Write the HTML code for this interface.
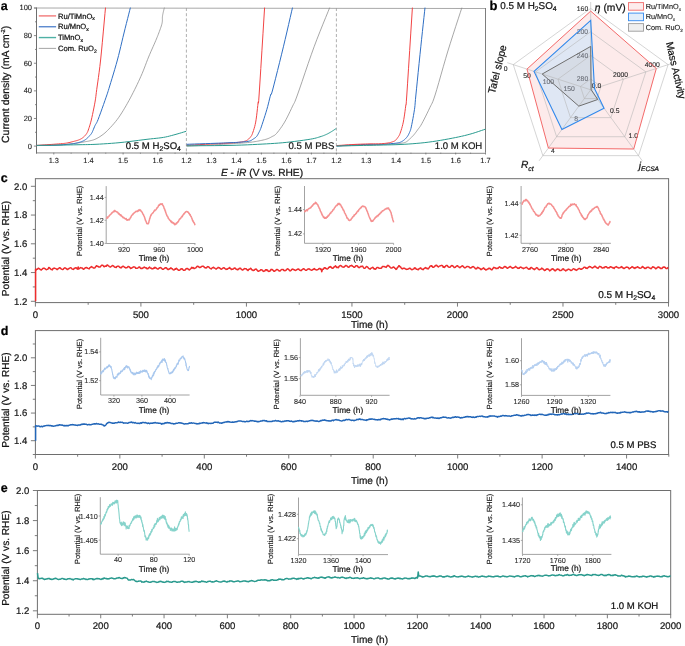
<!DOCTYPE html>
<html><head><meta charset="utf-8"><title>Figure</title><style>html,body{margin:0;padding:0;background:#fff;}body{width:685px;height:646px;overflow:hidden;font-family:"Liberation Sans",sans-serif;}svg{display:block;will-change:transform;}svg text{text-rendering:geometricPrecision;}</style></head><body>
<svg width="685" height="646" viewBox="0 0 685 646" font-family="&quot;Liberation Sans&quot;, sans-serif">
<rect width="685" height="646" fill="#fff"/>
<style>text{stroke:currentColor;stroke-width:0.22px;}</style>
<polygon points="590.7,11.1 656.32,68.48 633.73,149.02 548.38,148.05 526.98,69.1" fill="#fdebeb" stroke="none"/>
<polygon points="590.7,20.4 594.5,88.56 604.04,108.16 561.9,129.44 534.02,71.38" fill="#dfe7f4" stroke="none"/>
<polygon points="590.7,46.4 591.18,89.65 597.75,99.51 578.83,106.14 542.2,74.04" fill="#d6dce6" stroke="none"/>
<polygon points="590.7,79 600.97,86.46 597.05,98.54 584.35,98.54 580.43,86.46" fill="none" stroke="#b4b4b4" stroke-opacity="0.75" stroke-width="0.75"/>
<polygon points="590.7,55.4 623.42,79.17 610.92,117.63 570.48,117.63 557.98,79.17" fill="none" stroke="#b4b4b4" stroke-opacity="0.75" stroke-width="0.75"/>
<polygon points="590.7,31.8 645.86,71.88 624.79,136.72 556.61,136.72 535.54,71.88" fill="none" stroke="#b4b4b4" stroke-opacity="0.75" stroke-width="0.75"/>
<polygon points="590.7,8.4 668.12,64.65 638.55,155.65 542.85,155.65 513.28,64.65" fill="none" stroke="#b4b4b4" stroke-opacity="0.75" stroke-width="0.75"/>
<line x1="590.7" y1="89.8" x2="590.7" y2="2" stroke="#b4b4b4" stroke-width="0.75" stroke-opacity="0.75"/>
<line x1="590.7" y1="89.8" x2="674.2" y2="62.67" stroke="#b4b4b4" stroke-width="0.75" stroke-opacity="0.75"/>
<line x1="590.7" y1="89.8" x2="642.31" y2="160.83" stroke="#b4b4b4" stroke-width="0.75" stroke-opacity="0.75"/>
<line x1="590.7" y1="89.8" x2="539.09" y2="160.83" stroke="#b4b4b4" stroke-width="0.75" stroke-opacity="0.75"/>
<line x1="590.7" y1="89.8" x2="507.2" y2="62.67" stroke="#b4b4b4" stroke-width="0.75" stroke-opacity="0.75"/>
<text x="582.5" y="10.8" font-size="6.8" text-anchor="middle" fill="#2a2a2a" color="#2a2a2a" style="stroke-width:0.1px" >160</text>
<text x="582.3" y="34" font-size="6.8" text-anchor="middle" fill="#6b6f78" color="#6b6f78" style="stroke-width:0.1px" >200</text>
<text x="582.5" y="57.6" font-size="6.8" text-anchor="middle" fill="#6b6f78" color="#6b6f78" style="stroke-width:0.1px" >240</text>
<text x="582.5" y="81.1" font-size="6.8" text-anchor="middle" fill="#6b6f78" color="#6b6f78" style="stroke-width:0.1px" >280</text>
<text x="652.2" y="66.7" font-size="6.8" text-anchor="middle" fill="#2a2a2a" color="#2a2a2a" style="stroke-width:0.1px" >4000</text>
<text x="620.6" y="77.4" font-size="6.8" text-anchor="middle" fill="#2a2a2a" color="#2a2a2a" style="stroke-width:0.1px" >2000</text>
<text x="596.6" y="87.7" font-size="6.8" text-anchor="middle" fill="#2a2a2a" color="#2a2a2a" style="stroke-width:0.1px" >0.0</text>
<text x="614.7" y="113" font-size="6.8" text-anchor="middle" fill="#2a2a2a" color="#2a2a2a" style="stroke-width:0.1px" >0.5</text>
<text x="633.2" y="137.6" font-size="6.8" text-anchor="middle" fill="#2a2a2a" color="#2a2a2a" style="stroke-width:0.1px" >1.0</text>
<text x="553" y="153.1" font-size="6.8" text-anchor="middle" fill="#2a2a2a" color="#2a2a2a" style="stroke-width:0.1px" >4</text>
<text x="576.1" y="120.8" font-size="6.8" text-anchor="middle" fill="#6b6f78" color="#6b6f78" style="stroke-width:0.1px" >8</text>
<text x="527" y="77.8" font-size="6.8" text-anchor="middle" fill="#2a2a2a" color="#2a2a2a" style="stroke-width:0.1px" >50</text>
<text x="548.3" y="84.4" font-size="6.8" text-anchor="middle" fill="#6b6f78" color="#6b6f78" style="stroke-width:0.1px" >100</text>
<text x="569.2" y="91" font-size="6.8" text-anchor="middle" fill="#6b6f78" color="#6b6f78" style="stroke-width:0.1px" >150</text>
<text x="505.6" y="70.6" font-size="6.8" text-anchor="middle" fill="#222" color="#222" style="stroke-width:0.1px" >0</text>
<polygon points="590.7,11.1 656.32,68.48 633.73,149.02 548.38,148.05 526.98,69.1" fill="none" stroke="#f26262" stroke-width="0.95" stroke-linejoin="miter"/>
<polygon points="590.7,20.4 594.5,88.56 604.04,108.16 561.9,129.44 534.02,71.38" fill="none" stroke="#2f88ec" stroke-width="1.1"/>
<polygon points="590.7,46.4 591.18,89.65 597.75,99.51 578.83,106.14 542.2,74.04" fill="none" stroke="#6f6f6f" stroke-width="1.0"/>
<text x="594.8" y="11.1" font-size="10.3" fill="#1a1a1a"><tspan font-style="italic">η</tspan> (mV)</text>
<text transform="translate(675.0 70.5) rotate(77)" font-size="10.1" text-anchor="middle" dy="2.6" fill="#1a1a1a">Mass Activity</text>
<text transform="translate(498.2 69.5) rotate(-76)" font-size="10.4" text-anchor="middle" dy="2.6" fill="#1a1a1a">Tafel slope</text>
<text x="521" y="168.3" font-size="10.2" font-style="italic" fill="#1a1a1a">R<tspan font-size="7" dy="2.2">ct</tspan></text>
<text x="638.8" y="169.2" font-size="10.2" font-style="italic" fill="#1a1a1a">j<tspan font-size="6.6" dy="1.5">ECSA</tspan></text>
<text x="489.6" y="9.9" font-size="13" font-weight="bold" fill="#000" color="#000" >b</text>
<text x="500.2" y="8.8" font-size="9.9" fill="#1a1a1a">0.5 M H<tspan font-size="6.8" dy="2.2">2</tspan><tspan dy="-2.2">SO</tspan><tspan font-size="6.8" dy="2.2">4</tspan></text>
<rect x="628.5" y="2.6" width="15.0" height="7.6" fill="#fdecec" stroke="#f27272" stroke-width="0.95"/>
<text x="645.7" y="8.9" font-size="7.3" fill="#1a1a1a" style="stroke-width:0.1px">Ru/TiMnO<tspan font-size="4.6" dy="1.7">x</tspan></text>
<rect x="628.5" y="13.1" width="15.0" height="7.6" fill="#e2eefb" stroke="#3a8ef0" stroke-width="0.95"/>
<text x="645.7" y="19.4" font-size="7.3" fill="#1a1a1a" style="stroke-width:0.1px">Ru/MnO<tspan font-size="4.6" dy="1.7">x</tspan></text>
<rect x="628.5" y="23.6" width="15.0" height="7.6" fill="#efefef" stroke="#a0a0a0" stroke-width="0.95"/>
<text x="645.7" y="29.9" font-size="7.3" fill="#1a1a1a" style="stroke-width:0.1px">Com. RuO<tspan font-size="4.6" dy="1.7">2</tspan></text>
<line x1="34" y1="8" x2="485.5" y2="8.45" stroke="#a9a9a9" stroke-width="1.1" />
<line x1="36.5" y1="152.8" x2="485.5" y2="153.4" stroke="#a0a0a0" stroke-width="1.2" />
<line x1="36.5" y1="7.5" x2="36.5" y2="153.7" stroke="#6e6e6e" stroke-width="1" />
<line x1="485.5" y1="8" x2="485.5" y2="152.7" stroke="#6e6e6e" stroke-width="0.9" />
<line x1="186.4" y1="8" x2="186.4" y2="152.7" stroke="#9a9a9a" stroke-width="0.8" stroke-dasharray="3,2.2"/>
<line x1="336.4" y1="8" x2="336.4" y2="152.7" stroke="#9a9a9a" stroke-width="0.8" stroke-dasharray="3,2.2"/>
<line x1="33.9" y1="146.1" x2="36.5" y2="146.1" stroke="#6e6e6e" stroke-width="0.8" />
<text x="32" y="148.55" font-size="7.5" text-anchor="end" fill="#1a1a1a" color="#1a1a1a" style="stroke-width:0.1px" >0</text>
<line x1="35" y1="132.29" x2="36.5" y2="132.29" stroke="#6e6e6e" stroke-width="0.8" />
<line x1="33.9" y1="118.48" x2="36.5" y2="118.48" stroke="#6e6e6e" stroke-width="0.8" />
<text x="32" y="120.93" font-size="7.5" text-anchor="end" fill="#1a1a1a" color="#1a1a1a" style="stroke-width:0.1px" >20</text>
<line x1="35" y1="104.67" x2="36.5" y2="104.67" stroke="#6e6e6e" stroke-width="0.8" />
<line x1="33.9" y1="90.86" x2="36.5" y2="90.86" stroke="#6e6e6e" stroke-width="0.8" />
<text x="32" y="93.31" font-size="7.5" text-anchor="end" fill="#1a1a1a" color="#1a1a1a" style="stroke-width:0.1px" >40</text>
<line x1="35" y1="77.05" x2="36.5" y2="77.05" stroke="#6e6e6e" stroke-width="0.8" />
<line x1="33.9" y1="63.24" x2="36.5" y2="63.24" stroke="#6e6e6e" stroke-width="0.8" />
<text x="32" y="65.69" font-size="7.5" text-anchor="end" fill="#1a1a1a" color="#1a1a1a" style="stroke-width:0.1px" >60</text>
<line x1="35" y1="49.43" x2="36.5" y2="49.43" stroke="#6e6e6e" stroke-width="0.8" />
<line x1="33.9" y1="35.62" x2="36.5" y2="35.62" stroke="#6e6e6e" stroke-width="0.8" />
<text x="32" y="38.07" font-size="7.5" text-anchor="end" fill="#1a1a1a" color="#1a1a1a" style="stroke-width:0.1px" >80</text>
<line x1="35" y1="21.81" x2="36.5" y2="21.81" stroke="#6e6e6e" stroke-width="0.8" />
<line x1="33.9" y1="8" x2="36.5" y2="8" stroke="#6e6e6e" stroke-width="0.8" />
<text x="32" y="10.45" font-size="7.5" text-anchor="end" fill="#1a1a1a" color="#1a1a1a" style="stroke-width:0.1px" >100</text>
<line x1="53.8" y1="152.7" x2="53.8" y2="154.5" stroke="#6e6e6e" stroke-width="0.8" />
<text x="53.8" y="162.9" font-size="7.4" text-anchor="middle" fill="#1a1a1a" color="#1a1a1a" style="stroke-width:0.1px" >1.3</text>
<line x1="88.45" y1="152.7" x2="88.45" y2="154.5" stroke="#6e6e6e" stroke-width="0.8" />
<text x="88.45" y="162.9" font-size="7.4" text-anchor="middle" fill="#1a1a1a" color="#1a1a1a" style="stroke-width:0.1px" >1.4</text>
<line x1="123.1" y1="152.7" x2="123.1" y2="154.5" stroke="#6e6e6e" stroke-width="0.8" />
<text x="123.1" y="162.9" font-size="7.4" text-anchor="middle" fill="#1a1a1a" color="#1a1a1a" style="stroke-width:0.1px" >1.5</text>
<line x1="157.75" y1="152.7" x2="157.75" y2="154.5" stroke="#6e6e6e" stroke-width="0.8" />
<text x="157.75" y="162.9" font-size="7.4" text-anchor="middle" fill="#1a1a1a" color="#1a1a1a" style="stroke-width:0.1px" >1.6</text>
<line x1="71.13" y1="152.7" x2="71.13" y2="153.7" stroke="#6e6e6e" stroke-width="0.8" />
<line x1="105.77" y1="152.7" x2="105.77" y2="153.7" stroke="#6e6e6e" stroke-width="0.8" />
<line x1="140.43" y1="152.7" x2="140.43" y2="153.7" stroke="#6e6e6e" stroke-width="0.8" />
<line x1="175.07" y1="152.7" x2="175.07" y2="153.7" stroke="#6e6e6e" stroke-width="0.8" />
<line x1="186.4" y1="152.7" x2="186.4" y2="154.5" stroke="#6e6e6e" stroke-width="0.8" />
<text x="186.4" y="162.9" font-size="7.4" text-anchor="middle" fill="#1a1a1a" color="#1a1a1a" style="stroke-width:0.1px" >1.2</text>
<line x1="211.4" y1="152.7" x2="211.4" y2="154.5" stroke="#6e6e6e" stroke-width="0.8" />
<text x="211.4" y="162.9" font-size="7.4" text-anchor="middle" fill="#1a1a1a" color="#1a1a1a" style="stroke-width:0.1px" >1.3</text>
<line x1="236.4" y1="152.7" x2="236.4" y2="154.5" stroke="#6e6e6e" stroke-width="0.8" />
<text x="236.4" y="162.9" font-size="7.4" text-anchor="middle" fill="#1a1a1a" color="#1a1a1a" style="stroke-width:0.1px" >1.4</text>
<line x1="261.4" y1="152.7" x2="261.4" y2="154.5" stroke="#6e6e6e" stroke-width="0.8" />
<text x="261.4" y="162.9" font-size="7.4" text-anchor="middle" fill="#1a1a1a" color="#1a1a1a" style="stroke-width:0.1px" >1.5</text>
<line x1="286.4" y1="152.7" x2="286.4" y2="154.5" stroke="#6e6e6e" stroke-width="0.8" />
<text x="286.4" y="162.9" font-size="7.4" text-anchor="middle" fill="#1a1a1a" color="#1a1a1a" style="stroke-width:0.1px" >1.6</text>
<line x1="311.4" y1="152.7" x2="311.4" y2="154.5" stroke="#6e6e6e" stroke-width="0.8" />
<text x="311.4" y="162.9" font-size="7.4" text-anchor="middle" fill="#1a1a1a" color="#1a1a1a" style="stroke-width:0.1px" >1.7</text>
<line x1="198.9" y1="152.7" x2="198.9" y2="153.7" stroke="#6e6e6e" stroke-width="0.8" />
<line x1="223.9" y1="152.7" x2="223.9" y2="153.7" stroke="#6e6e6e" stroke-width="0.8" />
<line x1="248.9" y1="152.7" x2="248.9" y2="153.7" stroke="#6e6e6e" stroke-width="0.8" />
<line x1="273.9" y1="152.7" x2="273.9" y2="153.7" stroke="#6e6e6e" stroke-width="0.8" />
<line x1="298.9" y1="152.7" x2="298.9" y2="153.7" stroke="#6e6e6e" stroke-width="0.8" />
<line x1="323.9" y1="152.7" x2="323.9" y2="153.7" stroke="#6e6e6e" stroke-width="0.8" />
<line x1="336.4" y1="152.7" x2="336.4" y2="154.5" stroke="#6e6e6e" stroke-width="0.8" />
<text x="336.4" y="162.9" font-size="7.4" text-anchor="middle" fill="#1a1a1a" color="#1a1a1a" style="stroke-width:0.1px" >1.2</text>
<line x1="366.22" y1="152.7" x2="366.22" y2="154.5" stroke="#6e6e6e" stroke-width="0.8" />
<text x="366.22" y="162.9" font-size="7.4" text-anchor="middle" fill="#1a1a1a" color="#1a1a1a" style="stroke-width:0.1px" >1.3</text>
<line x1="396.04" y1="152.7" x2="396.04" y2="154.5" stroke="#6e6e6e" stroke-width="0.8" />
<text x="396.04" y="162.9" font-size="7.4" text-anchor="middle" fill="#1a1a1a" color="#1a1a1a" style="stroke-width:0.1px" >1.4</text>
<line x1="425.86" y1="152.7" x2="425.86" y2="154.5" stroke="#6e6e6e" stroke-width="0.8" />
<text x="425.86" y="162.9" font-size="7.4" text-anchor="middle" fill="#1a1a1a" color="#1a1a1a" style="stroke-width:0.1px" >1.5</text>
<line x1="455.68" y1="152.7" x2="455.68" y2="154.5" stroke="#6e6e6e" stroke-width="0.8" />
<text x="455.68" y="162.9" font-size="7.4" text-anchor="middle" fill="#1a1a1a" color="#1a1a1a" style="stroke-width:0.1px" >1.6</text>
<line x1="485.5" y1="152.7" x2="485.5" y2="154.5" stroke="#6e6e6e" stroke-width="0.8" />
<text x="485.5" y="162.9" font-size="7.4" text-anchor="middle" fill="#1a1a1a" color="#1a1a1a" style="stroke-width:0.1px" >1.7</text>
<line x1="351.31" y1="152.7" x2="351.31" y2="153.7" stroke="#6e6e6e" stroke-width="0.8" />
<line x1="381.13" y1="152.7" x2="381.13" y2="153.7" stroke="#6e6e6e" stroke-width="0.8" />
<line x1="410.95" y1="152.7" x2="410.95" y2="153.7" stroke="#6e6e6e" stroke-width="0.8" />
<line x1="440.77" y1="152.7" x2="440.77" y2="153.7" stroke="#6e6e6e" stroke-width="0.8" />
<line x1="470.59" y1="152.7" x2="470.59" y2="153.7" stroke="#6e6e6e" stroke-width="0.8" />
<polyline points="36.5,145.6 39.15,145.53 42.89,145.45 47.29,145.35 51.9,145.23 56.28,145.08 60,144.9 63.11,144.68 65.98,144.43 68.62,144.14 71.06,143.85 73.31,143.57 75.4,143.3 77.28,143.05 78.93,142.81 80.4,142.57 81.73,142.34 82.98,142.11 84.2,141.9 85.35,141.7 86.39,141.53 87.34,141.36 88.24,141.19 89.11,141 90,140.8 90.87,140.6 91.69,140.4 92.49,140.19 93.29,139.96 94.12,139.66 95,139.3 95.94,138.87 96.91,138.38 97.91,137.84 98.93,137.24 99.97,136.6 101,135.9 102,135.19 102.97,134.49 103.96,133.74 104.99,132.87 106.13,131.85 107.4,130.6 108.86,129.1 110.49,127.39 112.21,125.52 113.96,123.53 115.68,121.47 117.3,119.4 118.82,117.3 120.29,115.14 121.73,112.91 123.15,110.61 124.57,108.24 126,105.8 127.45,103.26 128.91,100.62 130.38,97.91 131.82,95.16 133.23,92.41 134.6,89.7 135.93,87.02 137.22,84.35 138.48,81.68 139.71,79 140.92,76.31 142.1,73.6 143.24,70.84 144.34,68.04 145.41,65.22 146.47,62.43 147.53,59.67 148.6,57 149.72,54.34 150.89,51.64 152.06,49 153.18,46.48 154.21,44.15 155.1,42.1 155.83,40.39 156.42,38.99 156.92,37.79 157.37,36.67 157.82,35.55 158.3,34.3 158.83,32.9 159.39,31.42 159.94,29.93 160.46,28.49 160.92,27.16 161.3,26 161.59,25.06 161.81,24.28 161.98,23.62 162.11,23.01 162.21,22.39 162.3,21.7 162.36,20.94 162.38,20.16 162.38,19.36 162.36,18.58 162.36,17.82 162.4,17.1 162.46,16.46 162.53,15.88 162.62,15.33 162.72,14.76 162.85,14.13 163,13.4 163.2,12.49 163.46,11.41 163.74,10.27 164.01,9.18 164.24,8.26 164.4,7.6" fill="none" stroke="#8a8a8a" stroke-width="0.75" stroke-linejoin="round" />
<polyline points="36.5,145.5 38.61,145.46 41.61,145.4 45.12,145.33 48.78,145.26 52.19,145.18 55,145.1 57.2,145.02 59.11,144.94 60.78,144.86 62.28,144.78 63.66,144.69 65,144.6 66.25,144.51 67.35,144.41 68.34,144.31 69.26,144.21 70.13,144.11 71,144 71.84,143.89 72.62,143.79 73.36,143.68 74.07,143.57 74.78,143.44 75.5,143.3 76.24,143.14 76.97,142.97 77.7,142.79 78.42,142.6 79.12,142.41 79.8,142.2 80.46,141.99 81.09,141.79 81.71,141.57 82.32,141.34 82.91,141.08 83.5,140.8 84.08,140.49 84.65,140.15 85.21,139.79 85.75,139.41 86.28,139.02 86.8,138.6 87.3,138.16 87.79,137.69 88.26,137.21 88.71,136.71 89.16,136.2 89.6,135.7 90.02,135.24 90.41,134.83 90.79,134.41 91.17,133.93 91.57,133.34 92,132.6 92.46,131.65 92.95,130.52 93.46,129.29 93.97,128.01 94.49,126.76 95,125.6 95.45,124.72 95.84,124.1 96.24,123.51 96.7,122.7 97.3,121.44 98.1,119.5 99.2,116.59 100.57,112.86 102.07,108.67 103.58,104.41 104.96,100.46 106.1,97.2 106.91,94.86 107.47,93.19 107.92,91.83 108.36,90.42 108.91,88.59 109.7,86 110.76,82.53 112,78.47 113.36,73.99 114.76,69.29 116.13,64.56 117.4,60 118.57,55.54 119.69,51.01 120.78,46.46 121.86,41.92 122.92,37.42 124,33 125.15,28.38 126.39,23.47 127.61,18.61 128.75,14.13 129.71,10.34 130.4,7.6" fill="none" stroke="#2f6fc4" stroke-width="1.0" stroke-linejoin="round" />
<polyline points="36.5,145.4 37.85,145.32 39.71,145.2 41.92,145.06 44.31,144.91 46.73,144.75 49,144.6 51.26,144.44 53.66,144.27 56.08,144.1 58.4,143.93 60.51,143.76 62.3,143.6 63.69,143.46 64.76,143.34 65.62,143.22 66.38,143.1 67.14,142.97 68,142.8 68.97,142.6 69.95,142.37 70.94,142.12 71.9,141.87 72.83,141.63 73.7,141.4 74.51,141.19 75.27,141 75.99,140.81 76.68,140.62 77.35,140.42 78,140.2 78.64,139.97 79.24,139.73 79.83,139.47 80.4,139.21 80.95,138.92 81.5,138.6 82.04,138.25 82.56,137.88 83.08,137.48 83.57,137.07 84.05,136.64 84.5,136.2 84.93,135.75 85.35,135.29 85.74,134.81 86.12,134.31 86.47,133.81 86.8,133.3 87.08,132.85 87.3,132.48 87.51,132.09 87.72,131.61 87.97,130.94 88.3,130 88.71,128.81 89.16,127.46 89.66,125.91 90.19,124.17 90.74,122.2 91.3,120 91.9,117.41 92.56,114.41 93.23,111.2 93.89,107.95 94.49,104.86 95,102.1 95.37,99.92 95.63,98.2 95.84,96.64 96.04,94.91 96.31,92.7 96.7,89.7 97.21,86.01 97.8,81.92 98.45,77.35 99.14,72.22 99.87,66.46 100.6,60 101.42,51.97 102.34,42.27 103.29,31.94 104.19,22.03 104.96,13.56 105.5,7.6" fill="none" stroke="#f24444" stroke-width="1.0" stroke-linejoin="round" />
<polyline points="36.5,145.4 39.1,145.37 42.72,145.33 47,145.28 51.56,145.22 56.01,145.16 60,145.1 63.58,145.04 67.07,144.97 70.47,144.91 73.76,144.84 76.94,144.77 80,144.7 82.81,144.65 85.33,144.61 87.75,144.58 90.22,144.53 92.92,144.44 96,144.3 99.5,144.11 103.3,143.89 107.31,143.63 111.48,143.33 115.73,142.99 120,142.6 124.45,142.13 129.17,141.57 133.97,140.96 138.67,140.36 143.08,139.79 147,139.3 150.4,138.91 153.43,138.6 156.16,138.32 158.68,138.05 161.07,137.75 163.4,137.4 165.62,136.99 167.64,136.55 169.53,136.09 171.34,135.6 173.15,135.11 175,134.6 177.02,134.04 179.18,133.41 181.32,132.77 183.31,132.17 184.99,131.66 186.2,131.3" fill="none" stroke="#2a9c90" stroke-width="1.0" stroke-linejoin="round" />
<polyline points="186.6,146.2 189.84,146.04 194.46,145.82 199.86,145.56 205.47,145.29 210.71,145.03 215,144.8 218.33,144.61 221.18,144.42 223.65,144.25 225.87,144.09 227.94,143.94 230,143.8 231.95,143.68 233.67,143.59 235.26,143.5 236.79,143.41 238.34,143.32 240,143.2 241.8,143.06 243.67,142.91 245.57,142.74 247.44,142.57 249.23,142.39 250.9,142.2 252.41,142.01 253.81,141.81 255.14,141.61 256.42,141.39 257.69,141.15 259,140.9 260.36,140.62 261.75,140.33 263.14,140.02 264.48,139.69 265.75,139.35 266.9,139 267.92,138.64 268.83,138.27 269.66,137.88 270.44,137.48 271.21,137.05 272,136.6 272.76,136.21 273.44,135.89 274.12,135.56 274.83,135.1 275.64,134.41 276.6,133.4 277.74,132.04 279.01,130.41 280.39,128.55 281.81,126.51 283.23,124.35 284.6,122.1 285.97,119.65 287.39,116.93 288.8,114.09 290.17,111.24 291.45,108.54 292.6,106.1 293.45,104.4 294,103.41 294.46,102.56 295.04,101.27 295.95,98.94 297.4,95 299.51,89.01 302.13,81.35 305.07,72.66 308.17,63.57 311.24,54.74 314.1,46.8 316.94,39.29 319.96,31.61 322.94,24.19 325.7,17.43 328.02,11.76 329.7,7.6" fill="none" stroke="#8a8a8a" stroke-width="0.75" stroke-linejoin="round" />
<polyline points="186.6,145.3 189.84,145.13 194.46,144.89 199.86,144.6 205.47,144.3 210.71,144.03 215,143.8 218.34,143.63 221.19,143.48 223.68,143.36 225.9,143.24 227.97,143.13 230,143 231.97,142.87 233.77,142.74 235.43,142.61 236.95,142.47 238.33,142.34 239.6,142.2 240.71,142.06 241.64,141.93 242.45,141.79 243.17,141.65 243.84,141.49 244.5,141.3 245.14,141.1 245.71,140.89 246.23,140.67 246.73,140.42 247.21,140.13 247.7,139.8 248.2,139.42 248.69,138.99 249.17,138.53 249.64,138.04 250.08,137.53 250.5,137 250.87,136.54 251.18,136.14 251.47,135.73 251.77,135.2 252.11,134.45 252.5,133.4 252.97,132.05 253.51,130.5 254.07,128.73 254.65,126.74 255.2,124.54 255.7,122.1 256.16,119.21 256.61,115.83 257.04,112.23 257.43,108.68 257.79,105.44 258.1,102.8 258.3,101.76 258.37,102.3 258.41,103.16 258.49,103.07 258.69,100.77 259.1,95 259.82,84.03 260.8,68.53 261.91,50.81 263.01,33.21 263.95,18.03 264.6,7.6" fill="none" stroke="#f24444" stroke-width="1.0" stroke-linejoin="round" />
<polyline points="186.6,144.3 189.84,144.19 194.46,144.03 199.86,143.84 205.47,143.64 210.71,143.46 215,143.3 218.33,143.18 221.18,143.07 223.65,142.97 225.87,142.88 227.94,142.79 230,142.7 231.96,142.62 233.73,142.55 235.36,142.48 236.9,142.41 238.43,142.32 240,142.2 241.66,142.06 243.36,141.91 245.04,141.74 246.64,141.55 248.08,141.34 249.3,141.1 250.24,140.84 250.96,140.55 251.51,140.24 251.99,139.91 252.46,139.57 253,139.2 253.61,138.83 254.22,138.45 254.82,138.05 255.41,137.62 255.98,137.14 256.5,136.6 256.98,135.99 257.41,135.33 257.82,134.62 258.22,133.88 258.61,133.1 259,132.3 259.36,131.6 259.66,131.03 259.96,130.43 260.3,129.64 260.73,128.52 261.3,126.9 262.06,124.63 262.99,121.81 264.01,118.66 265.05,115.37 266.04,112.18 266.9,109.3 267.65,106.62 268.34,103.94 268.97,101.36 269.56,98.96 270.1,96.81 270.6,95 270.93,94.07 271.07,94.06 271.16,94.31 271.34,94.15 271.78,92.94 272.6,90 273.91,84.96 275.61,78.28 277.56,70.54 279.6,62.32 281.6,54.21 283.4,46.8 285.12,39.58 286.9,31.99 288.62,24.5 290.2,17.61 291.53,11.82 292.5,7.6" fill="none" stroke="#2f6fc4" stroke-width="1.0" stroke-linejoin="round" />
<polyline points="186.6,145.8 191.45,145.77 198.27,145.73 206.29,145.68 214.76,145.61 222.92,145.52 230,145.4 236.1,145.24 241.83,145.05 247.26,144.83 252.41,144.6 257.34,144.35 262.1,144.1 266.58,143.86 270.73,143.62 274.65,143.37 278.46,143.09 282.28,142.77 286.2,142.4 290.38,141.94 294.77,141.41 299.15,140.84 303.33,140.26 307.12,139.7 310.3,139.2 312.79,138.75 314.72,138.34 316.26,137.95 317.54,137.57 318.74,137.19 320,136.8 321.27,136.4 322.43,136.01 323.49,135.63 324.49,135.23 325.45,134.82 326.4,134.4 327.33,133.96 328.21,133.51 329.06,133.04 329.88,132.57 330.69,132.09 331.5,131.6 332.36,131.06 333.27,130.47 334.17,129.88 335,129.31 335.69,128.84 336.2,128.5" fill="none" stroke="#2a9c90" stroke-width="1.0" stroke-linejoin="round" />
<polyline points="336.6,146.1 339.19,146 342.79,145.86 347.05,145.69 351.59,145.51 356.03,145.34 360,145.2 363.59,145.08 367.1,144.98 370.52,144.89 373.83,144.8 377,144.7 380,144.6 382.89,144.49 385.7,144.37 388.38,144.25 390.85,144.13 393.08,144.01 395,143.9 396.54,143.8 397.71,143.71 398.64,143.63 399.43,143.53 400.18,143.43 401,143.3 401.87,143.17 402.7,143.04 403.49,142.9 404.25,142.73 404.98,142.5 405.7,142.2 406.38,141.82 407.02,141.39 407.63,140.89 408.24,140.36 408.85,139.79 409.5,139.2 410.18,138.58 410.89,137.92 411.6,137.22 412.31,136.5 413.02,135.76 413.7,135 414.35,134.23 414.98,133.44 415.59,132.63 416.21,131.79 416.84,130.92 417.5,130 418.14,129.14 418.76,128.36 419.39,127.54 420.07,126.57 420.86,125.33 421.8,123.7 422.95,121.56 424.29,118.96 425.74,116.1 427.2,113.15 428.58,110.29 429.8,107.7 430.75,105.75 431.49,104.38 432.15,103.1 432.88,101.43 433.81,98.89 435.1,95 436.79,89.47 438.77,82.63 440.96,74.92 443.27,66.78 445.61,58.66 447.9,51 450.33,43.23 453,34.88 455.7,26.55 458.23,18.83 460.36,12.31 461.9,7.6" fill="none" stroke="#8a8a8a" stroke-width="0.75" stroke-linejoin="round" />
<polyline points="336.6,146 338.64,145.86 341.5,145.66 344.86,145.42 348.44,145.19 351.92,144.97 355,144.8 357.75,144.68 360.44,144.6 363.02,144.53 365.5,144.48 367.83,144.44 370,144.4 371.93,144.37 373.63,144.37 375.19,144.37 376.7,144.37 378.28,144.35 380,144.3 381.97,144.22 384.11,144.11 386.31,143.98 388.44,143.85 390.38,143.72 392,143.6 393.25,143.5 394.23,143.41 395.01,143.32 395.67,143.23 396.31,143.12 397,143 397.72,142.87 398.4,142.74 399.05,142.6 399.68,142.44 400.29,142.24 400.9,142 401.5,141.71 402.09,141.39 402.66,141.04 403.21,140.65 403.76,140.24 404.3,139.8 404.83,139.33 405.36,138.84 405.88,138.32 406.37,137.77 406.85,137.2 407.3,136.6 407.72,135.99 408.11,135.36 408.48,134.7 408.83,134.01 409.17,133.28 409.5,132.5 409.81,131.79 410.08,131.19 410.34,130.54 410.61,129.71 410.92,128.55 411.3,126.9 411.77,124.62 412.33,121.8 412.93,118.64 413.51,115.37 414.05,112.18 414.5,109.3 414.8,107.12 414.97,105.54 415.09,104.06 415.24,102.16 415.48,99.31 415.9,95 416.52,88.82 417.3,81.11 418.17,72.46 419.09,63.46 419.98,54.7 420.8,46.8 421.59,39.29 422.41,31.61 423.21,24.19 423.94,17.43 424.55,11.76 425,7.6" fill="none" stroke="#2f6fc4" stroke-width="1.0" stroke-linejoin="round" />
<polyline points="336.6,145.6 338.64,145.46 341.5,145.26 344.86,145.03 348.44,144.79 351.92,144.57 355,144.4 357.75,144.27 360.44,144.17 363.02,144.08 365.5,144.01 367.83,143.95 370,143.9 371.98,143.87 373.78,143.86 375.44,143.87 377,143.87 378.51,143.85 380,143.8 381.5,143.71 382.96,143.59 384.38,143.46 385.7,143.31 386.92,143.15 388,143 388.91,142.85 389.66,142.7 390.29,142.54 390.87,142.38 391.42,142.2 392,142 392.6,141.8 393.18,141.59 393.74,141.38 394.29,141.13 394.8,140.84 395.3,140.5 395.77,140.1 396.2,139.65 396.61,139.16 397.01,138.64 397.4,138.08 397.8,137.5 398.18,136.96 398.55,136.48 398.91,135.97 399.27,135.34 399.67,134.51 400.1,133.4 400.59,131.99 401.13,130.34 401.69,128.49 402.26,126.48 402.8,124.34 403.3,122.1 403.76,119.65 404.21,116.93 404.63,114.09 405.03,111.24 405.38,108.54 405.7,106.1 405.91,104.85 406,104.86 406.05,105.01 406.15,104.17 406.37,101.21 406.8,95 407.54,83.84 408.54,68.28 409.67,50.61 410.78,33.09 411.74,17.99 412.4,7.6" fill="none" stroke="#f24444" stroke-width="1.0" stroke-linejoin="round" />
<polyline points="336.6,146 339.19,145.94 342.79,145.87 347.05,145.78 351.59,145.68 356.03,145.58 360,145.5 363.48,145.43 366.77,145.37 369.96,145.32 373.16,145.26 376.47,145.19 380,145.1 383.78,145 387.73,144.91 391.79,144.81 395.91,144.68 400.04,144.51 404.1,144.3 408.12,144.05 412.13,143.77 416.15,143.45 420.17,143.09 424.18,142.68 428.2,142.2 432.29,141.64 436.47,141.01 440.66,140.32 444.75,139.6 448.66,138.89 452.3,138.2 455.63,137.54 458.73,136.9 461.64,136.26 464.44,135.61 467.17,134.92 469.9,134.2 472.77,133.37 475.77,132.42 478.7,131.45 481.39,130.53 483.65,129.76 485.3,129.2" fill="none" stroke="#2a9c90" stroke-width="1.0" stroke-linejoin="round" />
<line x1="38.8" y1="15.9" x2="56.1" y2="15.9" stroke="#f27a7a" stroke-width="1.4" />
<text x="58" y="18.6" font-size="7.6" fill="#1a1a1a">Ru/TiMnO<tspan font-size="5" dy="1.6">x</tspan></text>
<line x1="38.8" y1="26.73" x2="56.1" y2="26.73" stroke="#5a89cf" stroke-width="1.4" />
<text x="58" y="29.43" font-size="7.6" fill="#1a1a1a">Ru/MnO<tspan font-size="5" dy="1.6">x</tspan></text>
<line x1="38.8" y1="37.56" x2="56.1" y2="37.56" stroke="#4fb1a5" stroke-width="1.4" />
<text x="58" y="40.26" font-size="7.6" fill="#1a1a1a">TiMnO<tspan font-size="5" dy="1.6">x</tspan></text>
<line x1="38.8" y1="48.39" x2="56.1" y2="48.39" stroke="#9a9a9a" stroke-width="0.9" />
<text x="58" y="51.09" font-size="7.6" fill="#1a1a1a">Com. RuO<tspan font-size="5" dy="1.6">2</tspan></text>
<text x="180.9" y="148.5" font-size="9.6" text-anchor="end" fill="#1a1a1a">0.5 M H<tspan font-size="6.8" dy="2.2">2</tspan><tspan dy="-2.2">SO</tspan><tspan font-size="6.8" dy="2.2">4</tspan></text>
<text x="334.4" y="148.6" font-size="9.6" text-anchor="end" fill="#1a1a1a" color="#1a1a1a" >0.5 M PBS</text>
<text x="482.3" y="148.6" font-size="9.6" text-anchor="end" fill="#1a1a1a" color="#1a1a1a" >1.0 M KOH</text>
<text x="262" y="175.6" font-size="10.2" text-anchor="middle" fill="#1a1a1a"><tspan font-style="italic">E</tspan> - <tspan font-style="italic">iR</tspan> (V vs. RHE)</text>
<text transform="translate(9.2 84.3) rotate(-90)" font-size="10.4" text-anchor="middle" fill="#1a1a1a">Current density (mA cm<tspan font-size="5.8" dy="-3.8">-2</tspan><tspan dy="3.8">)</tspan></text>
<text x="0.8" y="9.6" font-size="12.5" font-weight="bold" fill="#000" color="#000" >a</text>
<line x1="35.4" y1="178.7" x2="668.6" y2="178.7" stroke="#6e6e6e" stroke-width="1" />
<line x1="35.4" y1="302.6" x2="668.6" y2="302.6" stroke="#6e6e6e" stroke-width="1" />
<line x1="35.4" y1="178.2" x2="35.4" y2="303.1" stroke="#6e6e6e" stroke-width="1" />
<line x1="668.6" y1="178.2" x2="668.6" y2="303.1" stroke="#6e6e6e" stroke-width="1" />
<line x1="30.9" y1="301.3" x2="35.4" y2="301.3" stroke="#6e6e6e" stroke-width="0.9" />
<text x="27.3" y="304.6" font-size="9.5" text-anchor="end" fill="#1a1a1a" color="#1a1a1a" >1.2</text>
<line x1="30.9" y1="272.55" x2="35.4" y2="272.55" stroke="#6e6e6e" stroke-width="0.9" />
<text x="27.3" y="275.85" font-size="9.5" text-anchor="end" fill="#1a1a1a" color="#1a1a1a" >1.4</text>
<line x1="30.9" y1="243.8" x2="35.4" y2="243.8" stroke="#6e6e6e" stroke-width="0.9" />
<text x="27.3" y="247.1" font-size="9.5" text-anchor="end" fill="#1a1a1a" color="#1a1a1a" >1.6</text>
<line x1="30.9" y1="215.05" x2="35.4" y2="215.05" stroke="#6e6e6e" stroke-width="0.9" />
<text x="27.3" y="218.35" font-size="9.5" text-anchor="end" fill="#1a1a1a" color="#1a1a1a" >1.8</text>
<line x1="30.9" y1="186.3" x2="35.4" y2="186.3" stroke="#6e6e6e" stroke-width="0.9" />
<text x="27.3" y="189.6" font-size="9.5" text-anchor="end" fill="#1a1a1a" color="#1a1a1a" >2.0</text>
<line x1="32.8" y1="286.93" x2="35.4" y2="286.93" stroke="#6e6e6e" stroke-width="0.9" />
<line x1="32.8" y1="258.18" x2="35.4" y2="258.18" stroke="#6e6e6e" stroke-width="0.9" />
<line x1="32.8" y1="229.43" x2="35.4" y2="229.43" stroke="#6e6e6e" stroke-width="0.9" />
<line x1="32.8" y1="200.68" x2="35.4" y2="200.68" stroke="#6e6e6e" stroke-width="0.9" />
<line x1="35.4" y1="302.6" x2="35.4" y2="306.6" stroke="#6e6e6e" stroke-width="0.9" />
<text x="35.4" y="317.7" font-size="9.6" text-anchor="middle" fill="#1a1a1a" color="#1a1a1a" >0</text>
<line x1="140.92" y1="302.6" x2="140.92" y2="306.6" stroke="#6e6e6e" stroke-width="0.9" />
<text x="140.92" y="317.7" font-size="9.6" text-anchor="middle" fill="#1a1a1a" color="#1a1a1a" >500</text>
<line x1="246.43" y1="302.6" x2="246.43" y2="306.6" stroke="#6e6e6e" stroke-width="0.9" />
<text x="246.43" y="317.7" font-size="9.6" text-anchor="middle" fill="#1a1a1a" color="#1a1a1a" >1000</text>
<line x1="351.95" y1="302.6" x2="351.95" y2="306.6" stroke="#6e6e6e" stroke-width="0.9" />
<text x="351.95" y="317.7" font-size="9.6" text-anchor="middle" fill="#1a1a1a" color="#1a1a1a" >1500</text>
<line x1="457.47" y1="302.6" x2="457.47" y2="306.6" stroke="#6e6e6e" stroke-width="0.9" />
<text x="457.47" y="317.7" font-size="9.6" text-anchor="middle" fill="#1a1a1a" color="#1a1a1a" >2000</text>
<line x1="562.98" y1="302.6" x2="562.98" y2="306.6" stroke="#6e6e6e" stroke-width="0.9" />
<text x="562.98" y="317.7" font-size="9.6" text-anchor="middle" fill="#1a1a1a" color="#1a1a1a" >2500</text>
<line x1="668.5" y1="302.6" x2="668.5" y2="306.6" stroke="#6e6e6e" stroke-width="0.9" />
<text x="668.5" y="317.7" font-size="9.6" text-anchor="middle" fill="#1a1a1a" color="#1a1a1a" >3000</text>
<line x1="88.16" y1="302.6" x2="88.16" y2="304.8" stroke="#6e6e6e" stroke-width="0.9" />
<line x1="193.68" y1="302.6" x2="193.68" y2="304.8" stroke="#6e6e6e" stroke-width="0.9" />
<line x1="299.19" y1="302.6" x2="299.19" y2="304.8" stroke="#6e6e6e" stroke-width="0.9" />
<line x1="404.71" y1="302.6" x2="404.71" y2="304.8" stroke="#6e6e6e" stroke-width="0.9" />
<line x1="510.23" y1="302.6" x2="510.23" y2="304.8" stroke="#6e6e6e" stroke-width="0.9" />
<line x1="615.74" y1="302.6" x2="615.74" y2="304.8" stroke="#6e6e6e" stroke-width="0.9" />
<polyline points="35.6,301.3 35.6,269 35.6,270.15 36.18,269.99 36.75,269.25 37.33,269.19 37.9,268.61 38.48,268.19 39.05,268.59 39.63,268.98 40.21,269.47 40.78,269.76 41.36,269.9 41.93,269.3 42.51,268.89 43.08,268.31 43.66,268.28 44.24,268.25 44.81,268.57 45.39,268.98 45.96,269.5 46.54,269.66 47.11,269.35 47.69,269.19 48.27,268.6 48.84,267.46 49.42,267.66 49.99,268.38 50.57,268.85 51.14,269.44 51.72,269.62 52.3,269.86 52.87,268.69 53.45,268.32 54.02,268.47 54.6,268.11 55.17,268.41 55.75,268.66 56.33,268.9 56.9,269.55 57.48,269.44 58.05,268.73 58.63,268.31 59.2,268.02 59.78,267.7 60.36,268.11 60.93,268.64 61.51,269.14 62.08,269.34 62.66,269.55 63.23,269.26 63.81,268.6 64.39,267.88 64.96,268.02 65.54,267.91 66.11,268.66 66.69,268.76 67.26,269.57 67.84,269.41 68.42,268.84 68.99,268.53 69.57,268.11 70.14,267.89 70.72,267.7 71.29,268.07 71.87,268.89 72.45,269.16 73.02,269.43 73.6,269.31 74.17,268.29 74.75,268.18 75.32,268.06 75.9,267.73 76.48,267.96 77.05,268.82 77.63,269.16 78.2,266.89 78.78,269.04 79.35,268.33 79.93,268.08 80.51,267.61 81.08,267.81 81.66,267.95 82.23,268.04 82.81,268.61 83.38,269.31 83.96,269.15 84.53,268.43 85.11,268 85.69,267.63 86.26,267.46 86.84,267.72 87.41,268.02 87.99,268.41 88.56,268.65 89.14,268.87 89.72,267.73 90.29,267.61 90.87,267.11 91.44,266.51 92.02,266.98 92.59,267.12 93.17,267.9 93.75,267.97 94.32,268.11 94.9,267.85 95.47,267.06 96.05,266.19 96.62,265.68 97.2,266.38 97.78,266.27 98.35,266.59 98.93,267.12 99.5,267.09 100.08,267.02 100.65,266.29 101.23,265.69 101.81,265.14 102.38,265.35 102.96,265.32 103.53,266.18 104.11,266.82 104.68,266.35 105.26,265.99 105.84,266.23 106.41,266.14 106.99,265 107.56,264.91 108.14,265.64 108.71,265.89 109.29,266.52 109.87,266.89 110.44,267.08 111.02,266.54 111.59,266.22 112.17,265.74 112.74,265.51 113.32,265.9 113.9,266.29 114.47,267.07 115.05,267.2 115.62,267.25 116.2,267.51 116.77,266.68 117.35,266.24 117.93,266.18 118.5,266.14 119.08,266.65 119.65,267.36 120.23,267.75 120.8,267.53 121.38,267.72 121.96,266.93 122.53,266.35 123.11,266.13 123.68,266.34 124.26,267.2 124.83,267.14 125.41,267.9 125.99,267.57 126.56,267.85 127.14,267.6 127.71,266.85 128.29,266.45 128.86,266.65 129.44,267.12 130.02,267.65 130.59,268.44 131.17,268.3 131.74,268.01 132.32,267.7 132.89,267.2 133.47,266.87 134.05,266.78 134.62,267.12 135.2,267.24 135.77,268.32 136.35,268.32 136.92,268.14 137.5,268.18 138.08,267.81 138.65,267.21 139.23,267.01 139.8,266.99 140.38,268.32 140.95,268.43 141.53,268.35 142.11,268.46 142.68,268.34 143.26,267.48 143.83,267.4 144.41,267.05 144.98,267.58 145.56,267.97 146.14,267.71 146.71,268.73 147.29,268.47 147.86,268.82 148.44,268.13 149.01,267.72 149.59,267.1 150.17,267.81 150.74,268.25 151.32,268.12 151.89,268.9 152.47,268.84 153.04,268.8 153.62,268.08 154.2,268.26 154.77,267.3 155.35,267.45 155.92,267.97 156.5,268.25 157.07,268.84 157.65,269.02 158.23,269 158.8,268.37 159.38,268.01 159.95,267.68 160.53,267.58 161.1,267.94 161.68,268.38 162.26,269.15 162.83,269.22 163.41,269.23 163.98,268.76 164.56,268.28 165.13,267.69 165.71,267.95 166.29,267.8 166.86,268.38 167.44,269.19 168.01,269.59 168.59,269.47 169.16,268.83 169.74,268.89 170.32,268.41 170.89,267.85 171.47,268.5 172.04,268.64 172.62,269.13 173.19,269.85 173.77,269.93 174.34,269.8 174.92,268.95 175.5,269.24 176.07,268.45 176.65,268.33 177.22,269.22 177.8,269.57 178.37,270.21 178.95,270.27 179.53,270.17 180.1,269.8 180.68,269.07 181.25,269.04 181.83,268.78 182.4,269.01 182.98,269.73 183.56,270.3 184.13,270.37 184.71,270.1 185.28,269.97 185.86,268.87 186.43,268.57 187.01,268.63 187.59,268.49 188.16,269.2 188.74,269.59 189.31,269.99 189.89,269.43 190.46,268.99 191.04,268.53 191.62,267.32 192.19,268.22 192.77,267.42 193.34,267.72 193.92,268.45 194.49,268.46 195.07,267.97 195.65,268.05 196.22,267.46 196.8,266.56 197.37,266.25 197.95,266.44 198.52,266.47 199.1,267.24 199.68,267.55 200.25,267.44 200.83,267.02 201.4,266.78 201.98,266.13 202.55,266.26 203.13,266.15 203.71,266.71 204.28,267.16 204.86,267.72 205.43,267.75 206.01,267.98 206.58,267.86 207.16,266.96 207.74,266.61 208.31,266.76 208.89,267.07 209.46,267.61 210.04,268.36 210.61,268.58 211.19,268.92 211.77,268.24 212.34,267.82 212.92,267.59 213.49,267.25 214.07,267.91 214.64,267.98 215.22,268.49 215.8,268.92 216.37,268.98 216.95,268.36 217.52,268.15 218.1,267.36 218.67,267.87 219.25,267.74 219.83,268.09 220.4,268.59 220.98,269.09 221.55,269.19 222.13,268.73 222.7,268.26 223.28,267.95 223.86,267.64 224.43,268.08 225.01,268.55 225.58,268.86 226.16,269.4 226.73,269.14 227.31,269.35 227.89,268.74 228.46,268.35 229.04,268.29 229.61,267.48 230.19,268.42 230.76,268.66 231.34,269.51 231.92,269.3 232.49,269.33 233.07,269.05 233.64,268.63 234.22,268.15 234.79,267.93 235.37,268.29 235.95,269.14 236.52,269.46 237.1,269.36 237.67,269.84 238.25,269.36 238.82,268.94 239.4,268.27 239.98,268.42 240.55,268.25 241.13,269.11 241.7,269.42 242.28,270.01 242.85,270.09 243.43,269.37 244.01,269.01 244.58,268.59 245.16,268.66 245.73,268.74 246.31,268.79 246.88,269.71 247.46,270.17 248.04,270.56 248.61,269.45 249.19,269.22 249.76,269.16 250.34,268.33 250.91,268.49 251.49,269.3 252.07,269.99 252.64,270.09 253.22,270.53 253.79,270.27 254.37,270.16 254.94,269.37 255.52,269.34 256.1,269.03 256.67,269.63 257.25,270.27 257.82,271.11 258.4,271.27 258.97,270.88 259.55,270.81 260.13,270.34 260.7,269.79 261.28,269.72 261.85,270.04 262.43,270.23 263,271.16 263.58,271.44 264.15,271.11 264.73,271.07 265.31,270.06 265.88,269.81 266.46,269.68 267.03,270.43 267.61,270.11 268.18,271.1 268.76,271.5 269.34,271.35 269.91,271.17 270.49,270.14 271.06,269.37 271.64,269.82 272.21,269.52 272.79,270.13 273.37,270.46 273.94,271.31 274.52,271.32 275.09,270.66 275.67,270.49 276.24,269.8 276.82,269.44 277.4,269.54 277.97,269.86 278.55,270.55 279.12,270.9 279.7,270.87 280.27,270.93 280.85,270.07 281.43,269.72 282,269.4 282.58,269.61 283.15,269.49 283.73,270.49 284.3,270.6 284.88,270.71 285.46,270.44 286.03,270.26 286.61,269.59 287.18,268.93 287.76,268.83 288.33,269.22 288.91,269.68 289.49,270.56 290.06,270.88 290.64,270.69 291.21,270.17 291.79,269.45 292.36,269.11 292.94,269.13 293.52,269.61 294.09,269.81 294.67,270.06 295.24,270.46 295.82,270.34 296.39,269.93 296.97,269.53 297.55,269.12 298.12,269.26 298.7,269 299.27,269.72 299.85,270.33 300.42,270.35 301,270.75 301.58,270.28 302.15,269.52 302.73,269.15 303.3,268.81 303.88,268.81 304.45,269.2 305.03,269.8 305.61,270.3 306.18,270.15 306.76,270.13 307.33,269.32 307.91,269.17 308.48,268.9 309.06,268.78 309.64,269.13 310.21,269.71 310.79,269.91 311.36,270.21 311.94,270.23 312.51,269.89 313.09,269.21 313.67,269.28 314.24,268.6 314.82,269.09 315.39,269.64 315.97,269.82 316.54,269.94 317.12,269.78 317.7,269.67 318.27,269.33 318.85,268.67 319.42,268.47 320,268.52 320.57,269.16 321.15,269.05 321.73,271.68 322.3,269.8 322.88,269.11 323.45,269.29 324.03,267.95 324.6,267.7 325.18,267.69 325.76,268.49 326.33,268.44 326.91,269.03 327.48,268.95 328.06,268.49 328.63,267.54 329.21,267.09 329.79,267.22 330.36,266.55 330.94,266.97 331.51,267.58 332.09,268.18 332.66,268.15 333.24,268 333.82,267.07 334.39,266.92 334.97,266.43 335.54,265.87 336.12,266.83 336.69,267.46 337.27,267.21 337.85,267.57 338.42,267.69 339,266.58 339.57,265.89 340.15,265.59 340.72,265.61 341.3,265.83 341.88,266.55 342.45,266.95 343.03,266.89 343.6,267.2 344.18,267.09 344.75,266.39 345.33,265.88 345.91,265.48 346.48,265.87 347.06,265.9 347.63,266.8 348.21,266.97 348.78,267.26 349.36,266.8 349.94,265.94 350.51,265.73 351.09,265.74 351.66,265.36 352.24,265.92 352.81,266.42 353.39,266.69 353.96,267.35 354.54,267.2 355.12,266.62 355.69,266.01 356.27,265.67 356.84,265.81 357.42,266 357.99,266.93 358.57,267.45 359.15,267.64 359.72,267.18 360.3,266.9 360.87,266.37 361.45,266.5 362.02,266.19 362.6,266.12 363.18,267.22 363.75,268.12 364.33,268.19 364.9,268.22 365.48,267.71 366.05,266.83 366.63,266.55 367.21,266.67 367.78,267.26 368.36,267.95 368.93,268.64 369.51,268.81 370.08,269.14 370.66,268.58 371.24,268.03 371.81,267.99 372.39,267.48 372.96,267.31 373.54,268.17 374.11,268.98 374.69,268.65 375.27,269.28 375.84,268.94 376.42,268.14 376.99,267.57 377.57,267.46 378.14,267.45 378.72,268.14 379.3,268.35 379.87,268.2 380.45,268.32 381.02,268.27 381.6,267.88 382.17,266.87 382.75,266.39 383.33,266.61 383.9,266.41 384.48,266.74 385.05,266.84 385.63,267.12 386.2,267.46 386.78,266.17 387.36,265.95 387.93,265.29 388.51,265.66 389.08,266.23 389.66,266.63 390.23,267.5 390.81,267.93 391.39,267.97 391.96,268.05 392.54,267.52 393.11,267.06 393.69,267.03 394.26,267.37 394.84,268.22 395.42,268.57 395.99,269.47 396.57,269.08 397.14,268.03 397.72,267.19 398.29,266.88 398.87,265.66 399.45,266 400.02,266.74 400.6,267.01 401.17,267.94 401.75,268.58 402.32,268.88 402.9,268.5 403.48,268.23 404.05,268.13 404.63,268.17 405.2,268.87 405.78,269.04 406.35,269.33 406.93,269.4 407.51,269.22 408.08,268.98 408.66,268.82 409.23,268.32 409.81,268.18 410.38,268.43 410.96,269.08 411.54,269.58 412.11,269.73 412.69,269.37 413.26,269.13 413.84,268.92 414.41,267.83 414.99,268.2 415.57,268.07 416.14,269.07 416.72,269.35 417.29,269.3 417.87,269.68 418.44,269.64 419.02,268.7 419.6,268.49 420.17,268.07 420.75,267.82 421.32,268.85 421.9,269.15 422.47,269.21 423.05,269.65 423.63,269.16 424.2,268.41 424.78,268.21 425.35,267.57 425.93,267.99 426.5,267.99 427.08,268.71 427.66,268.55 428.23,268.93 428.81,268.06 429.38,267.52 429.96,266.29 430.53,265.92 431.11,266.16 431.69,265.67 432.26,266.49 432.84,267.33 433.41,267.28 433.99,267.14 434.56,266.34 435.14,265.99 435.72,265.37 436.29,265.23 436.87,265.49 437.44,266.26 438.02,266.73 438.59,266.92 439.17,266.12 439.75,266.01 440.32,265.81 440.9,265.61 441.47,265.36 442.05,265.58 442.62,265.78 443.2,267.25 443.77,266.84 444.35,267.38 444.93,266.96 445.5,266.15 446.08,265.55 446.65,265.58 447.23,265.53 447.8,266.33 448.38,266.81 448.96,267.27 449.53,267.37 450.11,267.22 450.68,266.24 451.26,266.1 451.83,265.5 452.41,265.64 452.99,266.16 453.56,266.63 454.14,267.47 454.71,267.54 455.29,267.36 455.86,266.58 456.44,266.17 457.02,265.72 457.59,265.69 458.17,266.46 458.74,266.97 459.32,267.13 459.89,267.67 460.47,266.96 461.05,266.85 461.62,266.25 462.2,265.96 462.77,265.86 463.35,266.67 463.92,267.14 464.5,267.77 465.08,267.78 465.65,267.35 466.23,267.14 466.8,266.45 467.38,266.45 467.95,266.57 468.53,266.68 469.11,267.01 469.68,267.6 470.26,268.04 470.83,267.65 471.41,267.65 471.98,267.18 472.56,266.63 473.14,266.57 473.71,266.97 474.29,267.31 474.86,267.91 475.44,268.7 476.01,268.68 476.59,268.77 477.17,267.78 477.74,267.24 478.32,267.75 478.89,268.01 479.47,268.2 480.04,268.69 480.62,269.51 481.2,269.31 481.77,269.42 482.35,268.59 482.92,268.56 483.5,267.9 484.07,268.4 484.65,269.19 485.23,269.33 485.8,269.99 486.38,269.83 486.95,269.54 487.53,268.9 488.1,268.9 488.68,268.26 489.26,268.57 489.83,268.23 490.41,268.9 490.98,269.38 491.56,269.83 492.13,269.71 492.71,268.67 493.29,267.95 493.86,267.35 494.44,267.86 495.01,267.74 495.59,268.05 496.16,268.61 496.74,268.28 497.32,268.33 497.89,268.47 498.47,267.75 499.04,267.19 499.62,266.72 500.19,267.21 500.77,267.89 501.35,267.71 501.92,268.29 502.5,268.17 503.07,267.98 503.65,267.36 504.22,266.82 504.8,266.41 505.38,266.71 505.95,267 506.53,267.63 507.1,268.05 507.68,268.29 508.25,267.76 508.83,267.32 509.41,267.12 509.98,266.55 510.56,266.6 511.13,267.24 511.71,267.65 512.28,268.07 512.86,268.28 513.44,267.78 514.01,267.7 514.59,267.38 515.16,266.88 515.74,266.41 516.31,267.16 516.89,267.44 517.47,268.09 518.04,268.43 518.62,268.04 519.19,268.2 519.77,267.38 520.34,267.19 520.92,267.08 521.5,267.52 522.07,268.01 522.65,267.97 523.22,268.63 523.8,268.13 524.37,268.16 524.95,267.91 525.53,267.53 526.1,267.47 526.68,267.33 527.25,267.97 527.83,268.48 528.4,269.13 528.98,269.26 529.56,268.54 530.13,268.97 530.71,267.68 531.28,267.39 531.86,267.76 532.43,268.25 533.01,268.78 533.58,268.97 534.16,269.59 534.74,269.07 535.31,268.95 535.89,268.45 536.46,267.61 537.04,267.77 537.61,268.19 538.19,269.05 538.77,269.52 539.34,269.8 539.92,269.43 540.49,269.3 541.07,269.04 541.64,268.13 542.22,268.39 542.8,268.86 543.37,269.34 543.95,269.86 544.52,270.58 545.1,270.4 545.67,269.93 546.25,269.08 546.83,269.36 547.4,268.87 547.98,268.94 548.55,269.51 549.13,270.02 549.7,270.92 550.28,270.48 550.86,270.1 551.43,269.1 552.01,269.3 552.58,268.73 553.16,268.91 553.73,269.76 554.31,269.98 554.89,270.73 555.46,270.84 556.04,269.91 556.61,269.76 557.19,268.96 557.76,269.05 558.34,269.38 558.92,269.3 559.49,270.53 560.07,270.49 560.64,270.41 561.22,270.4 561.79,270.12 562.37,269.12 562.95,269.12 563.52,268.84 564.1,269.77 564.67,270.06 565.25,270.39 565.82,270.89 566.4,270.2 566.98,269.94 567.55,269.89 568.13,269.08 568.7,269.35 569.28,269.39 569.85,269.69 570.43,270.27 571.01,270.58 571.58,270.35 572.16,269.83 572.73,269.28 573.31,268.68 573.88,268.88 574.46,269.15 575.04,269.69 575.61,269.6 576.19,270.44 576.76,270.18 577.34,269.45 577.91,269.18 578.49,268.78 579.07,268.43 579.64,268.53 580.22,268.91 580.79,269.3 581.37,269.34 581.94,268.8 582.52,268.65 583.1,268.25 583.67,267.44 584.25,267.31 584.82,267.33 585.4,267.47 585.97,268.32 586.55,268.04 587.13,268.52 587.7,267.92 588.28,267.31 588.85,267.05 589.43,266.43 590,266.74 590.58,266.63 591.16,267.4 591.73,267.65 592.31,267.97 592.88,267.77 593.46,267.14 594.03,267 594.61,266.2 595.19,266.2 595.76,266.9 596.34,267.43 596.91,267.87 597.49,268.06 598.06,268.41 598.64,267.24 599.22,266.82 599.79,266.35 600.37,266.64 600.94,266.75 601.52,267.42 602.09,267.92 602.67,268 603.25,267.86 603.82,267.49 604.4,267.68 604.97,266.95 605.55,266.68 606.12,266.65 606.7,267.14 607.28,267.65 607.85,268.05 608.43,267.67 609,267.9 609.58,267.34 610.15,267 610.73,266.72 611.31,266.96 611.88,267.18 612.46,267.9 613.03,267.61 613.61,268.07 614.18,268.48 614.76,267.36 615.34,267.06 615.91,266.95 616.49,266.62 617.06,267.32 617.64,267.38 618.21,267.75 618.79,268.09 619.37,267.87 619.94,267.8 620.52,267.2 621.09,266.96 621.67,266.6 622.24,267.67 622.82,267.6 623.39,268.12 623.97,268.51 624.55,268.28 625.12,267.8 625.7,267.42 626.27,267.18 626.85,266.98 627.42,267.26 628,267.41 628.58,267.89 629.15,268.84 629.73,268.35 630.3,268.17 630.88,267.7 631.45,267.38 632.03,266.56 632.61,266.9 633.18,267.36 633.76,267.92 634.33,267.85 634.91,268.43 635.48,267.54 636.06,267.74 636.64,267.29 637.21,267.03 637.79,266.71 638.36,267.58 638.94,267.71 639.51,268.07 640.09,268.28 640.67,268.1 641.24,267.85 641.82,267.47 642.39,266.49 642.97,266.83 643.54,267.49 644.12,267.86 644.7,268.41 645.27,268.18 645.85,268.58 646.42,267.6 647,267.45 647.57,267.32 648.15,267.36 648.73,267.33 649.3,267.92 649.88,268.1 650.45,268.41 651.03,268.71 651.6,268.07 652.18,267.51 652.76,266.79 653.33,266.98 653.91,267.3 654.48,267.46 655.06,268.05 655.63,268.85 656.21,268.55 656.79,268.12 657.36,267.41 657.94,267.05 658.51,266.91 659.09,267.41 659.66,267.4 660.24,268.47 660.82,268.27 661.39,268.48 661.97,268.48 662.54,267.74 663.12,267.11 663.69,266.97 664.27,267.17 664.85,267.07 665.42,267.93 666,268.41 666.57,268.5 667.15,268.55 667.72,267.8 668.3,267.32" fill="none" stroke="#ee2d2d" stroke-width="1.5" stroke-linejoin="round" />
<text x="5" y="0" font-size="1" fill="#1a1a1a" color="#1a1a1a" style="stroke-width:0.1px" ></text>
<text transform="translate(9.3 248.5) rotate(-90)" font-size="10.1" text-anchor="middle" fill="#1a1a1a">Potential (V vs. RHE)</text>
<text x="369.5" y="328" font-size="10.1" text-anchor="middle" fill="#1a1a1a" color="#1a1a1a" >Time (h)</text>
<text x="655.2" y="297.5" font-size="10" text-anchor="end" fill="#1a1a1a">0.5 M H<tspan font-size="6.8" dy="2.2">2</tspan><tspan dy="-2.2">SO</tspan><tspan font-size="6.8" dy="2.2">4</tspan></text>
<text x="0.8" y="181.8" font-size="12.5" font-weight="bold" fill="#000" color="#000" >c</text>
<line x1="106.2" y1="186.1" x2="106.2" y2="243.5" stroke="#8c8c8c" stroke-width="0.8" />
<line x1="106.2" y1="243.5" x2="195.4" y2="243.5" stroke="#8c8c8c" stroke-width="0.8" />
<line x1="104.6" y1="197.4" x2="106.2" y2="197.4" stroke="#8c8c8c" stroke-width="0.7" />
<text x="103.7" y="199.9" font-size="7.2" text-anchor="end" fill="#2a2a2a" color="#2a2a2a" style="stroke-width:0.1px" >1.44</text>
<line x1="104.6" y1="220.3" x2="106.2" y2="220.3" stroke="#8c8c8c" stroke-width="0.7" />
<text x="103.7" y="222.8" font-size="7.2" text-anchor="end" fill="#2a2a2a" color="#2a2a2a" style="stroke-width:0.1px" >1.42</text>
<line x1="104.6" y1="243.4" x2="106.2" y2="243.4" stroke="#8c8c8c" stroke-width="0.7" />
<text x="103.7" y="245.9" font-size="7.2" text-anchor="end" fill="#2a2a2a" color="#2a2a2a" style="stroke-width:0.1px" >1.40</text>
<line x1="123.9" y1="243.5" x2="123.9" y2="245.1" stroke="#8c8c8c" stroke-width="0.7" />
<text x="123.9" y="251.7" font-size="7.2" text-anchor="middle" fill="#2a2a2a" color="#2a2a2a" style="stroke-width:0.1px" >920</text>
<line x1="159.2" y1="243.5" x2="159.2" y2="245.1" stroke="#8c8c8c" stroke-width="0.7" />
<text x="159.2" y="251.7" font-size="7.2" text-anchor="middle" fill="#2a2a2a" color="#2a2a2a" style="stroke-width:0.1px" >960</text>
<line x1="194.9" y1="243.5" x2="194.9" y2="245.1" stroke="#8c8c8c" stroke-width="0.7" />
<text x="194.9" y="251.7" font-size="7.2" text-anchor="middle" fill="#2a2a2a" color="#2a2a2a" style="stroke-width:0.1px" >1000</text>
<polyline points="106.4,218.86 106.7,218.32 106.99,218.02 107.29,217.08 107.59,218.02 107.88,217.5 108.18,216.74 108.47,216.75 108.77,216.29 109.07,215.74 109.36,215.9 109.66,215.22 109.96,214.94 110.25,214.52 110.55,214.59 110.84,214.1 111.14,213.96 111.44,213.28 111.73,213.18 112.03,212.55 112.33,212.76 112.62,212.28 112.92,212.05 113.22,211.83 113.51,211.2 113.81,211.56 114.1,211.79 114.4,210.59 114.7,210.51 114.99,210.55 115.29,211.3 115.59,211.16 115.88,211.56 116.18,211.62 116.47,211.65 116.77,211.88 117.07,211.98 117.36,212.53 117.66,212.2 117.96,212.69 118.25,213.17 118.55,213.92 118.85,213.44 119.14,213.62 119.44,214.06 119.73,214.78 120.03,214.68 120.33,215.39 120.62,214.66 120.92,215.78 121.22,215.96 121.51,215.44 121.81,216.14 122.11,216.68 122.4,216.58 122.7,217.09 122.99,217.74 123.29,217.35 123.59,217.42 123.88,217.51 124.18,218.17 124.48,218.14 124.77,218.37 125.07,218.6 125.36,219.03 125.66,218.71 125.96,218.75 126.25,218.64 126.55,219.89 126.85,219.67 127.14,220.22 127.44,219.83 127.74,219.67 128.03,220.04 128.33,219.84 128.62,219.4 128.92,219.35 129.22,219.93 129.51,219.22 129.81,218.88 130.11,218.25 130.4,217.66 130.7,217.63 130.99,216.81 131.29,216.09 131.59,215.78 131.88,215.08 132.18,214.97 132.48,214.88 132.77,213.98 133.07,214.37 133.37,213.49 133.66,213.49 133.96,212.96 134.25,212.91 134.55,212.76 134.85,212.39 135.14,212.09 135.44,211.89 135.74,211.64 136.03,211.22 136.33,211.42 136.62,211.44 136.92,211.41 137.22,211.17 137.51,211.55 137.81,210.77 138.11,210.41 138.4,210.99 138.7,210.02 139,210.55 139.29,209.93 139.59,210.31 139.88,209.64 140.18,210.58 140.48,210.38 140.77,210.33 141.07,211.39 141.37,211.47 141.66,211.69 141.96,211.95 142.25,212.68 142.55,213.17 142.85,213.95 143.14,214.51 143.44,214.66 143.74,215.36 144.03,216.09 144.33,216.6 144.63,217.59 144.92,218.52 145.22,219.53 145.51,220.48 145.81,220.59 146.11,221.7 146.4,222.05 146.7,223.4 147,223.29 147.29,223.84 147.59,223.65 147.88,223.72 148.18,223.82 148.48,223.15 148.77,222.56 149.07,220.87 149.37,220.28 149.66,218.57 149.96,218.25 150.26,216.74 150.55,216.44 150.85,215.13 151.14,215.19 151.44,214.34 151.74,214.04 152.03,213.79 152.33,213.31 152.63,213.11 152.92,212.91 153.22,212.54 153.52,211.98 153.81,211.27 154.11,211.12 154.4,210.99 154.7,210.1 155,210.66 155.29,210.05 155.59,209.74 155.89,209.79 156.18,209.37 156.48,208.86 156.77,208.12 157.07,208.1 157.37,207.7 157.66,206.91 157.96,207.08 158.26,206.51 158.55,205.38 158.85,205.63 159.15,204.87 159.44,205.27 159.74,204.88 160.03,204.06 160.33,203.91 160.63,204.06 160.92,203.84 161.22,204.35 161.52,204.12 161.81,203.94 162.11,204.38 162.4,203.88 162.7,204.98 163,205.6 163.29,205.87 163.59,206.34 163.89,207.42 164.18,208.59 164.48,208.85 164.78,209.29 165.07,210.89 165.37,210.75 165.66,212.31 165.96,212.82 166.26,214.08 166.55,214.33 166.85,215.71 167.15,216.08 167.44,216.11 167.74,216.59 168.03,217.59 168.33,218.52 168.63,218.59 168.92,218.97 169.22,219.27 169.52,219.92 169.81,220.17 170.11,220.48 170.41,220.42 170.7,221.39 171,221.74 171.29,221.23 171.59,222.58 171.89,222.37 172.18,222.25 172.48,222.06 172.78,223.04 173.07,223.23 173.37,223.06 173.66,222.88 173.96,223.9 174.26,223.53 174.55,223.68 174.85,224.77 175.15,224.61 175.44,224.28 175.74,223.85 176.04,224.09 176.33,223.08 176.63,223.61 176.92,223.08 177.22,222.59 177.52,222.11 177.81,222.32 178.11,221.73 178.41,221.28 178.7,221.01 179,220.06 179.29,219.52 179.59,218.95 179.89,219.03 180.18,219.02 180.48,218.4 180.78,218.28 181.07,217.36 181.37,217.2 181.67,216.73 181.96,216.21 182.26,216.76 182.55,216.07 182.85,215.21 183.15,214.83 183.44,214.67 183.74,213.89 184.04,214.09 184.33,213.23 184.63,213.17 184.93,212.65 185.22,212.52 185.52,211.98 185.81,211.66 186.11,211.63 186.41,211.55 186.7,211.55 187,211.6 187.3,212.03 187.59,211.89 187.89,211.74 188.18,212.3 188.48,212.26 188.78,213.36 189.07,213.59 189.37,213.54 189.67,214.68 189.96,215.18 190.26,214.62 190.56,215.72 190.85,216.34 191.15,216.47 191.44,217.3 191.74,217.92 192.04,218.96 192.33,219.5 192.63,220.81 192.93,220.52 193.22,221.61 193.52,221.91 193.81,222.59 194.11,222.79 194.41,223.19 194.7,224.16 195,225.23" fill="none" stroke="#f59191" stroke-width="1.5" stroke-linejoin="round" />
<text transform="translate(82.4 220.8) rotate(-90)" font-size="7.45" text-anchor="middle" fill="#1a1a1a" style="stroke-width:0.12px">Potential (V vs. RHE)</text>
<text x="154" y="261" font-size="8.3" text-anchor="middle" fill="#1a1a1a" color="#1a1a1a" >Time (h)</text>
<line x1="304.5" y1="186" x2="304.5" y2="243.3" stroke="#8c8c8c" stroke-width="0.8" />
<line x1="304.5" y1="243.3" x2="393.6" y2="243.3" stroke="#8c8c8c" stroke-width="0.8" />
<line x1="302.9" y1="209.6" x2="304.5" y2="209.6" stroke="#8c8c8c" stroke-width="0.7" />
<text x="302" y="212.1" font-size="7.2" text-anchor="end" fill="#2a2a2a" color="#2a2a2a" style="stroke-width:0.1px" >1.44</text>
<line x1="302.9" y1="233.9" x2="304.5" y2="233.9" stroke="#8c8c8c" stroke-width="0.7" />
<text x="302" y="236.4" font-size="7.2" text-anchor="end" fill="#2a2a2a" color="#2a2a2a" style="stroke-width:0.1px" >1.42</text>
<line x1="322.9" y1="243.3" x2="322.9" y2="244.9" stroke="#8c8c8c" stroke-width="0.7" />
<text x="322.9" y="251.5" font-size="7.2" text-anchor="middle" fill="#2a2a2a" color="#2a2a2a" style="stroke-width:0.1px" >1920</text>
<line x1="358.6" y1="243.3" x2="358.6" y2="244.9" stroke="#8c8c8c" stroke-width="0.7" />
<text x="358.6" y="251.5" font-size="7.2" text-anchor="middle" fill="#2a2a2a" color="#2a2a2a" style="stroke-width:0.1px" >1960</text>
<line x1="393.6" y1="243.3" x2="393.6" y2="244.9" stroke="#8c8c8c" stroke-width="0.7" />
<text x="393.6" y="251.5" font-size="7.2" text-anchor="middle" fill="#2a2a2a" color="#2a2a2a" style="stroke-width:0.1px" >2000</text>
<polyline points="304.7,212.31 305,210.73 305.29,211.41 305.59,210.9 305.89,210.73 306.19,210.59 306.48,209.84 306.78,210.17 307.08,209.77 307.38,210.82 307.67,209.68 307.97,209.3 308.27,209.12 308.57,208.79 308.86,208.47 309.16,208.46 309.46,208.52 309.75,208.1 310.05,208.25 310.35,207.66 310.65,207.45 310.94,207.61 311.24,206.99 311.54,206.34 311.84,206.08 312.13,205.95 312.43,206.02 312.73,205.02 313.03,204.7 313.32,204.76 313.62,203.91 313.92,203.83 314.21,203.95 314.51,203.68 314.81,203.37 315.11,203.46 315.4,202.33 315.7,203.5 316,202.93 316.3,202.85 316.59,203.58 316.89,204 317.19,203.95 317.48,204.2 317.78,204.98 318.08,205.51 318.38,206.52 318.67,206.95 318.97,207.43 319.27,208.39 319.57,208.7 319.86,209.2 320.16,210.38 320.46,211.1 320.76,211.59 321.05,212.14 321.35,213.14 321.65,213.01 321.94,214.6 322.24,215.18 322.54,215.1 322.84,216.16 323.13,216.32 323.43,217.26 323.73,216.76 324.03,217.37 324.32,218.06 324.62,218.32 324.92,217.4 325.22,217.91 325.51,218.12 325.81,217.75 326.11,218.28 326.4,217.27 326.7,217.52 327,216.85 327.3,217.31 327.59,216.57 327.89,216.14 328.19,215.39 328.49,216.05 328.78,215.4 329.08,215.03 329.38,214.77 329.68,214.17 329.97,213.51 330.27,213.13 330.57,212.79 330.86,213.14 331.16,212 331.46,211.96 331.76,211.73 332.05,211.56 332.35,211.29 332.65,210.36 332.95,209.79 333.24,209.88 333.54,209.8 333.84,209.22 334.14,208.61 334.43,208 334.73,207.74 335.03,207.15 335.32,207.04 335.62,206.16 335.92,206.04 336.22,205.62 336.51,205.48 336.81,205.08 337.11,205.51 337.41,204.94 337.7,204.77 338,203.53 338.3,203.96 338.59,203.81 338.89,204.13 339.19,203.35 339.49,204.45 339.78,204.63 340.08,204.13 340.38,204.51 340.68,204.92 340.97,205.53 341.27,206.15 341.57,207.04 341.87,206.84 342.16,207.68 342.46,208.04 342.76,209.08 343.05,209.38 343.35,210.16 343.65,210.05 343.95,210.95 344.24,211.39 344.54,212.73 344.84,213.13 345.14,213.48 345.43,214.08 345.73,215 346.03,215.27 346.33,215.81 346.62,216.84 346.92,218 347.22,217.74 347.51,218.16 347.81,218.44 348.11,218.84 348.41,219.73 348.7,220.16 349,220.11 349.3,220.39 349.6,220.42 349.89,220.46 350.19,219.92 350.49,220.09 350.79,219.98 351.08,219.34 351.38,218.99 351.68,218.4 351.97,218.05 352.27,217.92 352.57,217.11 352.87,216.78 353.16,216.7 353.46,216.34 353.76,216.35 354.06,214.92 354.35,215.5 354.65,214.77 354.95,214.62 355.25,214.48 355.54,214.19 355.84,213.8 356.14,213.17 356.43,213.23 356.73,212.28 357.03,211.94 357.33,211.85 357.62,211.07 357.92,211.51 358.22,210.8 358.52,210.79 358.81,209.77 359.11,209.32 359.41,209.15 359.71,208.98 360,208.27 360.3,208.26 360.6,207.84 360.89,208.06 361.19,207.12 361.49,207.38 361.79,206.67 362.08,206.38 362.38,206.27 362.68,206.01 362.98,206.3 363.27,206.48 363.57,206.23 363.87,206.38 364.16,206.79 364.46,206.56 364.76,206.75 365.06,206.97 365.35,206.93 365.65,208.13 365.95,207.89 366.25,209.21 366.54,209.65 366.84,210.69 367.14,211.08 367.44,211.63 367.73,212.8 368.03,213.36 368.33,214.33 368.62,215.24 368.92,216.04 369.22,216.85 369.52,217.45 369.81,218.39 370.11,218.51 370.41,219.69 370.71,219.93 371,220.99 371.3,221.35 371.6,220.59 371.9,221.34 372.19,221.3 372.49,220.97 372.79,221.26 373.08,220.67 373.38,219.89 373.68,219.89 373.98,219.47 374.27,219.09 374.57,218.26 374.87,218.43 375.17,218.1 375.46,217.21 375.76,217.06 376.06,216.98 376.36,216.58 376.65,217.03 376.95,216.33 377.25,215.7 377.54,215.5 377.84,215.45 378.14,215.87 378.44,214.85 378.73,214.65 379.03,214.48 379.33,214.03 379.63,214.44 379.92,213.3 380.22,213.4 380.52,212.94 380.82,212.8 381.11,211.98 381.41,212.59 381.71,211.74 382,211.52 382.3,210.96 382.6,210.77 382.9,210.9 383.19,210.77 383.49,210.46 383.79,210.36 384.09,209.98 384.38,209.55 384.68,209.59 384.98,209.33 385.27,208.92 385.57,209 385.87,209.02 386.17,208.56 386.46,208.24 386.76,208.49 387.06,208.77 387.36,208.07 387.65,208.13 387.95,208.15 388.25,208.66 388.55,207.93 388.84,208.8 389.14,209.41 389.44,209.17 389.73,210.39 390.03,210.63 390.33,210.99 390.63,211.93 390.92,212.25 391.22,213.43 391.52,215.13 391.82,215.39 392.11,217.33 392.41,217.93 392.71,219.48 393.01,220.41 393.3,220.87 393.6,222.33" fill="none" stroke="#f59191" stroke-width="1.5" stroke-linejoin="round" />
<text transform="translate(280.4 220.8) rotate(-90)" font-size="7.45" text-anchor="middle" fill="#1a1a1a" style="stroke-width:0.12px">Potential (V vs. RHE)</text>
<text x="348" y="261" font-size="8.3" text-anchor="middle" fill="#1a1a1a" color="#1a1a1a" >Time (h)</text>
<line x1="521.1" y1="186" x2="521.1" y2="243.3" stroke="#8c8c8c" stroke-width="0.8" />
<line x1="521.1" y1="243.3" x2="610.9" y2="243.3" stroke="#8c8c8c" stroke-width="0.8" />
<line x1="519.5" y1="203" x2="521.1" y2="203" stroke="#8c8c8c" stroke-width="0.7" />
<text x="518.6" y="205.5" font-size="7.2" text-anchor="end" fill="#2a2a2a" color="#2a2a2a" style="stroke-width:0.1px" >1.44</text>
<line x1="519.5" y1="235.3" x2="521.1" y2="235.3" stroke="#8c8c8c" stroke-width="0.7" />
<text x="518.6" y="237.8" font-size="7.2" text-anchor="end" fill="#2a2a2a" color="#2a2a2a" style="stroke-width:0.1px" >1.42</text>
<line x1="530.1" y1="243.3" x2="530.1" y2="244.9" stroke="#8c8c8c" stroke-width="0.7" />
<text x="530.1" y="251.5" font-size="7.2" text-anchor="middle" fill="#2a2a2a" color="#2a2a2a" style="stroke-width:0.1px" >2760</text>
<line x1="565.7" y1="243.3" x2="565.7" y2="244.9" stroke="#8c8c8c" stroke-width="0.7" />
<text x="565.7" y="251.5" font-size="7.2" text-anchor="middle" fill="#2a2a2a" color="#2a2a2a" style="stroke-width:0.1px" >2800</text>
<line x1="601.2" y1="243.3" x2="601.2" y2="244.9" stroke="#8c8c8c" stroke-width="0.7" />
<text x="601.2" y="251.5" font-size="7.2" text-anchor="middle" fill="#2a2a2a" color="#2a2a2a" style="stroke-width:0.1px" >2840</text>
<polyline points="521.5,204.3 521.8,204.12 522.09,204.23 522.39,203.45 522.69,202.27 522.98,202.3 523.28,201.68 523.58,201.5 523.87,200.63 524.17,200.88 524.47,200.61 524.76,200.82 525.06,200.27 525.36,200.24 525.65,199.56 525.95,200.71 526.25,199.49 526.54,200.51 526.84,200.22 527.14,200.26 527.43,200.61 527.73,200.88 528.03,201.59 528.32,201.84 528.62,202.74 528.92,202.22 529.21,203.23 529.51,203.46 529.81,204.47 530.1,204.12 530.4,205.18 530.7,205.88 530.99,205.91 531.29,207.19 531.59,207.49 531.88,208.27 532.18,208.8 532.48,208.74 532.77,209.31 533.07,210.01 533.37,210.79 533.66,211.3 533.96,211.32 534.26,211.83 534.55,212.19 534.85,212.68 535.15,213.21 535.44,213.62 535.74,214.62 536.04,214.2 536.33,214.58 536.63,215.05 536.93,214.87 537.22,215.3 537.52,215.54 537.82,215.88 538.11,215.37 538.41,216.18 538.71,215.62 539,215.73 539.3,215.81 539.6,215.56 539.89,215.49 540.19,214.99 540.49,214.62 540.78,214.41 541.08,213.69 541.38,213.95 541.67,212.96 541.97,212.41 542.27,212.95 542.56,211.83 542.86,211.06 543.16,211.48 543.45,210.34 543.75,210.27 544.05,209.21 544.34,208.89 544.64,207.96 544.94,207.41 545.23,207.23 545.53,207.03 545.83,206.83 546.12,206.91 546.42,205.46 546.72,205.67 547.01,204.85 547.31,204.67 547.61,203.94 547.9,203.71 548.2,203.72 548.5,203.38 548.79,203.64 549.09,203.37 549.39,203.9 549.68,203.61 549.98,203.72 550.28,204.11 550.57,204.09 550.87,204.16 551.17,204.37 551.46,204.62 551.76,205.31 552.06,205.56 552.35,205.77 552.65,206.31 552.95,206.32 553.24,207.05 553.54,206.92 553.84,208.22 554.13,208.31 554.43,208.82 554.73,209.46 555.02,209.79 555.32,210.23 555.62,211.19 555.91,211.4 556.21,211.63 556.51,212.57 556.8,212.46 557.1,214 557.4,213.97 557.69,214.55 557.99,215.73 558.29,216.17 558.58,216.04 558.88,216.63 559.18,217.16 559.47,217.73 559.77,217.46 560.07,217.81 560.36,218.29 560.66,218.13 560.96,218.28 561.25,218.12 561.55,217.25 561.85,216.57 562.14,214.91 562.44,214.6 562.74,214.3 563.03,212.99 563.33,213.22 563.63,212.8 563.92,212.16 564.22,211.87 564.52,211.58 564.81,210.97 565.11,210.82 565.41,210.55 565.7,210.41 566,210.12 566.29,209.33 566.59,209.46 566.89,208.65 567.18,208.5 567.48,208.34 567.78,207.9 568.07,207.56 568.37,207.38 568.67,206.82 568.96,206.51 569.26,206.37 569.56,206.44 569.85,205.87 570.15,206.23 570.45,205.48 570.74,204.3 571.04,204.86 571.34,205.3 571.63,204.61 571.93,204.34 572.23,204.08 572.52,204.6 572.82,204.43 573.12,204.27 573.41,204.14 573.71,204.45 574.01,204.3 574.3,203.72 574.6,204.45 574.9,204.44 575.19,204.52 575.49,205.06 575.79,205.14 576.08,204.55 576.38,206.29 576.68,206.54 576.97,206.6 577.27,207 577.57,207.67 577.86,207.7 578.16,208.72 578.46,209.1 578.75,209.61 579.05,210.02 579.35,210.67 579.64,211.78 579.94,212.44 580.24,212.79 580.53,213.21 580.83,213.54 581.13,214.6 581.42,215.43 581.72,215.01 582.02,216.39 582.31,215.88 582.61,216.91 582.91,217.57 583.2,217.43 583.5,217.77 583.8,218.53 584.09,218.98 584.39,218.71 584.69,219.35 584.98,218.72 585.28,219.44 585.58,218.81 585.87,218.67 586.17,218.49 586.47,218.06 586.76,218.09 587.06,217.7 587.36,216.67 587.65,215.88 587.95,214.98 588.25,214.51 588.54,214.15 588.84,213.58 589.14,213.11 589.43,212.67 589.73,212.46 590.03,211.57 590.32,211.38 590.62,211.73 590.92,211.36 591.21,210.65 591.51,210.91 591.81,210.03 592.1,209.87 592.4,209.11 592.7,209.63 592.99,209.1 593.29,209.15 593.59,208.78 593.88,208.34 594.18,208.11 594.48,208.19 594.77,207.55 595.07,207.35 595.37,207.22 595.66,207.27 595.96,207.14 596.26,207.32 596.55,206.63 596.85,206.99 597.15,206.45 597.44,206.92 597.74,206.98 598.04,207.82 598.33,208.08 598.63,208.57 598.93,209.74 599.22,210.47 599.52,210.96 599.82,211.57 600.11,211.94 600.41,213.6 600.71,213.38 601,214.2 601.3,214.14 601.6,214.75 601.89,215.62 602.19,216.21 602.49,217.08 602.78,217.13 603.08,218.17 603.38,219.04 603.67,218.87 603.97,219.99 604.27,219.97 604.56,220.91 604.86,221.43 605.16,222.36 605.45,222.11 605.75,222.84 606.05,223.52 606.34,223.25 606.64,223.94 606.94,223.93 607.23,224.16 607.53,224.66 607.83,224.65 608.12,225.1 608.42,224.55 608.72,224.26 609.01,223.48 609.31,223.04 609.61,222.72 609.9,221.56 610.2,222.41" fill="none" stroke="#f59191" stroke-width="1.5" stroke-linejoin="round" />
<text transform="translate(492.1 221) rotate(-90)" font-size="7.45" text-anchor="middle" fill="#1a1a1a" style="stroke-width:0.12px">Potential (V vs. RHE)</text>
<text x="566.2" y="261" font-size="8.3" text-anchor="middle" fill="#1a1a1a" color="#1a1a1a" >Time (h)</text>
<line x1="35.4" y1="330.6" x2="668.6" y2="330.6" stroke="#6e6e6e" stroke-width="1" />
<line x1="35.4" y1="454.5" x2="668.6" y2="454.5" stroke="#6e6e6e" stroke-width="1" />
<line x1="35.4" y1="330.1" x2="35.4" y2="455" stroke="#6e6e6e" stroke-width="1" />
<line x1="668.6" y1="330.1" x2="668.6" y2="455" stroke="#6e6e6e" stroke-width="1" />
<line x1="30.9" y1="440.7" x2="35.4" y2="440.7" stroke="#6e6e6e" stroke-width="0.9" />
<text x="27.3" y="444" font-size="9.5" text-anchor="end" fill="#1a1a1a" color="#1a1a1a" >1.4</text>
<line x1="30.9" y1="413.07" x2="35.4" y2="413.07" stroke="#6e6e6e" stroke-width="0.9" />
<text x="27.3" y="416.37" font-size="9.5" text-anchor="end" fill="#1a1a1a" color="#1a1a1a" >1.6</text>
<line x1="30.9" y1="385.44" x2="35.4" y2="385.44" stroke="#6e6e6e" stroke-width="0.9" />
<text x="27.3" y="388.74" font-size="9.5" text-anchor="end" fill="#1a1a1a" color="#1a1a1a" >1.8</text>
<line x1="30.9" y1="357.81" x2="35.4" y2="357.81" stroke="#6e6e6e" stroke-width="0.9" />
<text x="27.3" y="361.11" font-size="9.5" text-anchor="end" fill="#1a1a1a" color="#1a1a1a" >2.0</text>
<line x1="32.8" y1="454.51" x2="35.4" y2="454.51" stroke="#6e6e6e" stroke-width="0.9" />
<line x1="32.8" y1="426.88" x2="35.4" y2="426.88" stroke="#6e6e6e" stroke-width="0.9" />
<line x1="32.8" y1="399.25" x2="35.4" y2="399.25" stroke="#6e6e6e" stroke-width="0.9" />
<line x1="32.8" y1="371.62" x2="35.4" y2="371.62" stroke="#6e6e6e" stroke-width="0.9" />
<line x1="32.8" y1="343.99" x2="35.4" y2="343.99" stroke="#6e6e6e" stroke-width="0.9" />
<line x1="35.4" y1="454.5" x2="35.4" y2="458.5" stroke="#6e6e6e" stroke-width="0.9" />
<text x="35.4" y="469.6" font-size="9.6" text-anchor="middle" fill="#1a1a1a" color="#1a1a1a" >0</text>
<line x1="119.85" y1="454.5" x2="119.85" y2="458.5" stroke="#6e6e6e" stroke-width="0.9" />
<text x="119.85" y="469.6" font-size="9.6" text-anchor="middle" fill="#1a1a1a" color="#1a1a1a" >200</text>
<line x1="204.31" y1="454.5" x2="204.31" y2="458.5" stroke="#6e6e6e" stroke-width="0.9" />
<text x="204.31" y="469.6" font-size="9.6" text-anchor="middle" fill="#1a1a1a" color="#1a1a1a" >400</text>
<line x1="288.76" y1="454.5" x2="288.76" y2="458.5" stroke="#6e6e6e" stroke-width="0.9" />
<text x="288.76" y="469.6" font-size="9.6" text-anchor="middle" fill="#1a1a1a" color="#1a1a1a" >600</text>
<line x1="373.21" y1="454.5" x2="373.21" y2="458.5" stroke="#6e6e6e" stroke-width="0.9" />
<text x="373.21" y="469.6" font-size="9.6" text-anchor="middle" fill="#1a1a1a" color="#1a1a1a" >800</text>
<line x1="457.67" y1="454.5" x2="457.67" y2="458.5" stroke="#6e6e6e" stroke-width="0.9" />
<text x="457.67" y="469.6" font-size="9.6" text-anchor="middle" fill="#1a1a1a" color="#1a1a1a" >1000</text>
<line x1="542.12" y1="454.5" x2="542.12" y2="458.5" stroke="#6e6e6e" stroke-width="0.9" />
<text x="542.12" y="469.6" font-size="9.6" text-anchor="middle" fill="#1a1a1a" color="#1a1a1a" >1200</text>
<line x1="626.57" y1="454.5" x2="626.57" y2="458.5" stroke="#6e6e6e" stroke-width="0.9" />
<text x="626.57" y="469.6" font-size="9.6" text-anchor="middle" fill="#1a1a1a" color="#1a1a1a" >1400</text>
<line x1="77.63" y1="454.5" x2="77.63" y2="456.7" stroke="#6e6e6e" stroke-width="0.9" />
<line x1="162.08" y1="454.5" x2="162.08" y2="456.7" stroke="#6e6e6e" stroke-width="0.9" />
<line x1="246.53" y1="454.5" x2="246.53" y2="456.7" stroke="#6e6e6e" stroke-width="0.9" />
<line x1="330.99" y1="454.5" x2="330.99" y2="456.7" stroke="#6e6e6e" stroke-width="0.9" />
<line x1="415.44" y1="454.5" x2="415.44" y2="456.7" stroke="#6e6e6e" stroke-width="0.9" />
<line x1="499.89" y1="454.5" x2="499.89" y2="456.7" stroke="#6e6e6e" stroke-width="0.9" />
<line x1="584.35" y1="454.5" x2="584.35" y2="456.7" stroke="#6e6e6e" stroke-width="0.9" />
<line x1="668.8" y1="454.5" x2="668.8" y2="456.7" stroke="#6e6e6e" stroke-width="0.9" />
<polyline points="35.6,440.8 35.6,425.61 36.18,425.8 36.75,425.95 37.33,426.14 37.9,426.05 38.48,426.04 39.06,426.11 39.63,426.5 40.21,426.75 40.78,426.57 41.36,426.33 41.94,426.37 42.51,426.78 43.09,426.44 43.66,425.97 44.24,426.13 44.82,425.78 45.39,425.73 45.97,425.61 46.54,425.46 47.12,425.6 47.7,425.45 48.27,425.35 48.85,425.56 49.42,425.71 50,425.36 50.58,425.72 51.15,425.7 51.73,425.96 52.3,425.85 52.88,426.14 53.46,426.15 54.03,426.09 54.61,425.9 55.18,425.92 55.76,425.67 56.34,425.48 56.91,425.61 57.49,425.22 58.06,425.49 58.64,425.3 59.22,424.74 59.79,425.11 60.37,424.86 60.94,425.11 61.52,425.18 62.09,424.91 62.67,425.34 63.25,425.45 63.82,425.78 64.4,425.48 64.97,425.88 65.55,425.56 66.13,425.68 66.7,425.52 67.28,425.83 67.85,425.54 68.43,425.73 69.01,425.25 69.58,425.14 70.16,425.01 70.73,424.64 71.31,424.66 71.89,424.89 72.46,424.58 73.04,424.73 73.61,424.77 74.19,424.99 74.77,424.92 75.34,425.08 75.92,425.25 76.49,425.3 77.07,425.17 77.65,425.5 78.22,425.07 78.8,425.02 79.37,424.89 79.95,425.16 80.53,424.77 81.1,424.51 81.68,424.32 82.25,424.47 82.83,424.1 83.41,423.99 83.98,424.3 84.56,423.98 85.13,424.19 85.71,424.32 86.29,424.34 86.86,424.52 87.44,424.88 88.01,424.64 88.59,424.57 89.17,424.5 89.74,424.79 90.32,424.72 90.89,424.75 91.47,424.5 92.05,424.36 92.62,424.16 93.2,424.03 93.77,424.01 94.35,423.78 94.93,423.77 95.5,424.03 96.08,423.75 96.65,423.4 97.23,424.05 97.81,423.89 98.38,423.77 98.96,424.22 99.53,424.18 100.11,424.18 100.69,424.26 101.26,424.26 101.84,424.49 102.41,424.72 102.99,424.9 103.57,425.31 104.14,426.02 104.72,425.62 105.29,425.58 105.87,424.86 106.45,424 107.02,423.33 107.6,422.99 108.17,422.74 108.75,422.18 109.33,422.34 109.9,422.56 110.48,422.6 111.05,422.83 111.63,422.88 112.21,422.99 112.78,423.32 113.36,423.14 113.93,423.07 114.51,423.14 115.08,422.78 115.66,422.79 116.24,422.87 116.81,422.72 117.39,422.76 117.96,422.36 118.54,422.01 119.12,422.57 119.69,422.39 120.27,422.03 120.84,422.53 121.42,422.38 122,422.18 122.57,422.57 123.15,422.69 123.72,423.21 124.3,422.89 124.88,423.08 125.45,423.12 126.03,423.12 126.6,422.99 127.18,423.13 127.76,423.19 128.33,422.99 128.91,422.58 129.48,422.42 130.06,422.54 130.64,422.3 131.21,422.27 131.79,422.06 132.36,422.75 132.94,422.63 133.52,422.39 134.09,422.85 134.67,423.07 135.24,422.53 135.82,423 136.4,423.14 136.97,423.4 137.55,423.3 138.12,423.28 138.7,423.28 139.28,423.55 139.85,423.5 140.43,422.89 141,422.69 141.58,423.22 142.16,422.45 142.73,422.44 143.31,422.5 143.88,422.58 144.46,422.71 145.04,422.67 145.61,422.54 146.19,422.92 146.76,423.01 147.34,423.45 147.92,423.24 148.49,423.1 149.07,423.23 149.64,423.72 150.22,423.36 150.8,423.03 151.37,423.23 151.95,423.23 152.52,423.32 153.1,422.79 153.68,422.98 154.25,422.9 154.83,422.55 155.4,422.61 155.98,422.96 156.56,423 157.13,422.92 157.71,422.94 158.28,423.21 158.86,423.12 159.44,423.27 160.01,423.26 160.59,423.52 161.16,423.57 161.74,424.12 162.32,423.57 162.89,423.79 163.47,423.71 164.04,423.33 164.62,423.45 165.2,422.72 165.77,423.01 166.35,423.05 166.92,422.39 167.5,422.58 168.07,422.99 168.65,422.8 169.23,422.73 169.8,422.98 170.38,423.08 170.95,423.45 171.53,423.53 172.11,423.52 172.68,423.55 173.26,423.72 173.83,423.99 174.41,423.8 174.99,423.79 175.56,423.56 176.14,423.24 176.71,423.21 177.29,423.33 177.87,423.11 178.44,422.83 179.02,422.64 179.59,422.92 180.17,422.85 180.75,422.9 181.32,422.99 181.9,423.21 182.47,423.34 183.05,423.6 183.63,423.73 184.2,423.92 184.78,423.91 185.35,423.75 185.93,423.81 186.51,423.88 187.08,423.67 187.66,423.72 188.23,423.71 188.81,423.22 189.39,422.92 189.96,423.33 190.54,423.02 191.11,423.08 191.69,422.68 192.27,423.24 192.84,423.12 193.42,423.05 193.99,423.12 194.57,423.33 195.15,423.41 195.72,423.51 196.3,423.46 196.87,423.96 197.45,423.77 198.03,423.78 198.6,423.74 199.18,423.22 199.75,423.63 200.33,423.34 200.91,423.2 201.48,423.12 202.06,422.8 202.63,423.03 203.21,422.68 203.79,422.61 204.36,422.63 204.94,422.85 205.51,423.03 206.09,422.89 206.67,422.84 207.24,423.42 207.82,423.15 208.39,423.64 208.97,423.47 209.55,423.37 210.12,423.35 210.7,423.48 211.27,423.46 211.85,423.13 212.43,423.19 213,423.23 213.58,422.67 214.15,422.36 214.73,422.26 215.31,422.12 215.88,422.22 216.46,422.2 217.03,422.13 217.61,422.54 218.19,422.06 218.76,422.4 219.34,423.11 219.91,423.02 220.49,423 221.06,423.03 221.64,423.26 222.22,423 222.79,422.84 223.37,422.48 223.94,422.55 224.52,422.27 225.1,422.11 225.67,421.95 226.25,421.93 226.82,421.76 227.4,421.9 227.98,421.47 228.55,421.68 229.13,422.08 229.7,421.83 230.28,422.13 230.86,422.22 231.43,422.35 232.01,422.34 232.58,422.02 233.16,422.25 233.74,422.22 234.31,421.97 234.89,422.08 235.46,421.82 236.04,421.6 236.62,421.77 237.19,421.56 237.77,421.29 238.34,421.12 238.92,421.09 239.5,421.05 240.07,421.02 240.65,421.1 241.22,421.08 241.8,421.31 242.38,421.44 242.95,421.53 243.53,421.45 244.1,421.56 244.68,421.81 245.26,421.73 245.83,421.76 246.41,421.28 246.98,421.16 247.56,421.59 248.14,421.46 248.71,421.5 249.29,421.23 249.86,421 250.44,420.85 251.02,420.51 251.59,420.88 252.17,420.61 252.74,420.85 253.32,420.87 253.9,420.98 254.47,421.21 255.05,421.09 255.62,421.23 256.2,421.25 256.78,421.42 257.35,421.83 257.93,421.47 258.5,421.71 259.08,421.58 259.66,421.46 260.23,421.34 260.81,420.88 261.38,420.99 261.96,421.09 262.54,420.58 263.11,420.63 263.69,420.49 264.26,420.68 264.84,420.49 265.42,421.06 265.99,420.82 266.57,420.74 267.14,421.47 267.72,421.46 268.3,421.48 268.87,421.57 269.45,421.45 270.02,421.48 270.6,421.62 271.18,421.58 271.75,421.48 272.33,421.23 272.9,420.98 273.48,420.9 274.05,421.02 274.63,420.99 275.21,420.61 275.78,420.57 276.36,420.91 276.93,420.88 277.51,420.97 278.09,420.73 278.66,421.03 279.24,421.15 279.81,421.4 280.39,421.17 280.97,421.78 281.54,421.64 282.12,421.67 282.69,421.33 283.27,421.46 283.85,421.6 284.42,420.95 285,421.16 285.57,421.1 286.15,420.74 286.73,420.93 287.3,420.67 287.88,420.93 288.45,420.84 289.03,420.85 289.61,421.27 290.18,421.18 290.76,421.39 291.33,421.08 291.91,421.29 292.49,421.66 293.06,421.74 293.64,421.59 294.21,421.73 294.79,421.34 295.37,421.49 295.94,421.12 296.52,421.26 297.09,420.97 297.67,420.8 298.25,420.81 298.82,421.04 299.4,420.48 299.97,420.54 300.55,420.87 301.13,420.67 301.7,421.15 302.28,420.99 302.85,421.09 303.43,421.27 304.01,421.63 304.58,421.52 305.16,421.55 305.73,421.51 306.31,421.16 306.89,421.21 307.46,421.54 308.04,421.3 308.61,421.1 309.19,420.98 309.77,420.63 310.34,420.67 310.92,420.36 311.49,420.54 312.07,420.33 312.65,420.45 313.22,420.64 313.8,420.59 314.37,420.89 314.95,420.97 315.53,421.08 316.1,421.35 316.68,420.93 317.25,420.95 317.83,421.35 318.41,421.38 318.98,421.49 319.56,421.16 320.13,421.04 320.71,420.59 321.29,420.74 321.86,420.59 322.44,420.16 323.01,420.11 323.59,420.2 324.17,420.27 324.74,419.72 325.32,420.33 325.89,420.46 326.47,420.5 327.04,420.7 327.62,420.85 328.2,420.69 328.77,421.02 329.35,420.93 329.92,420.8 330.5,420.97 331.08,421.11 331.65,420.47 332.23,420.3 332.8,420.15 333.38,420.66 333.96,420.12 334.53,420.05 335.11,419.84 335.68,419.77 336.26,419.57 336.84,420.01 337.41,420.1 337.99,419.8 338.56,420.08 339.14,420.26 339.72,420.5 340.29,420.64 340.87,420.87 341.44,420.94 342.02,420.87 342.6,420.87 343.17,420.33 343.75,420.32 344.32,420.49 344.9,420.19 345.48,419.99 346.05,419.5 346.63,419.42 347.2,419.81 347.78,419.71 348.36,419.6 348.93,419.62 349.51,419.46 350.08,419.94 350.66,420.18 351.24,420.41 351.81,420.24 352.39,420.28 352.96,420.18 353.54,420.62 354.12,420.69 354.69,420.21 355.27,420.28 355.84,420.13 356.42,419.86 357,419.37 357.57,419.61 358.15,419.66 358.72,419.19 359.3,419.23 359.88,418.76 360.45,419.6 361.03,419.51 361.6,419.51 362.18,419.56 362.76,419.62 363.33,419.84 363.91,419.9 364.48,420 365.06,420.09 365.64,420.14 366.21,420.37 366.79,419.77 367.36,419.98 367.94,419.69 368.52,419.45 369.09,419.08 369.67,419.48 370.24,419.07 370.82,419.01 371.4,419.17 371.97,418.87 372.55,419.09 373.12,419.13 373.7,419.38 374.28,419.52 374.85,419.31 375.43,419.74 376,419.67 376.58,419.79 377.16,419.77 377.73,419.96 378.31,419.57 378.88,419.77 379.46,419.83 380.03,419.43 380.61,419.71 381.19,419.06 381.76,419.09 382.34,418.84 382.91,418.73 383.49,418.58 384.07,418.67 384.64,418.79 385.22,418.71 385.79,419.11 386.37,419.34 386.95,418.91 387.52,419.45 388.1,419.44 388.67,419.52 389.25,419.96 389.83,419.74 390.4,419.54 390.98,419.44 391.55,418.91 392.13,419.3 392.71,418.88 393.28,418.9 393.86,418.75 394.43,418.79 395.01,418.89 395.59,418.66 396.16,418.7 396.74,418.46 397.31,418.65 397.89,418.81 398.47,418.52 399.04,419.27 399.62,418.89 400.19,418.88 400.77,419.48 401.35,419.6 401.92,419.09 402.5,419.06 403.07,419.65 403.65,418.99 404.23,418.48 404.8,418.58 405.38,418.9 405.95,418.52 406.53,418.43 407.11,418.43 407.68,418.29 408.26,418.11 408.83,417.92 409.41,418.36 409.99,418.18 410.56,418.48 411.14,418.93 411.71,418.82 412.29,418.83 412.87,418.9 413.44,419.04 414.02,419.07 414.59,418.61 415.17,418.79 415.75,418.95 416.32,418.64 416.9,418.21 417.47,418.08 418.05,417.7 418.63,417.82 419.2,418.18 419.78,417.84 420.35,417.71 420.93,417.8 421.51,417.96 422.08,418.07 422.66,418.14 423.23,418.19 423.81,418.55 424.39,418.8 424.96,418.48 425.54,418.51 426.11,418.8 426.69,418.26 427.27,418.33 427.84,418.24 428.42,418.2 428.99,417.97 429.57,417.71 430.15,417.8 430.72,417.43 431.3,417.26 431.87,417.18 432.45,417.69 433.02,417.29 433.6,417.77 434.18,417.92 434.75,418.06 435.33,418 435.9,418.04 436.48,418.24 437.06,418.17 437.63,418.06 438.21,418.49 438.78,418.04 439.36,418.43 439.94,418.07 440.51,417.75 441.09,417.76 441.66,417.76 442.24,417.16 442.82,417.15 443.39,417.07 443.97,417.26 444.54,417.32 445.12,417.31 445.7,417.26 446.27,417.41 446.85,417.84 447.42,417.94 448,417.87 448.58,417.69 449.15,418.08 449.73,418.03 450.3,417.99 450.88,418.19 451.46,417.92 452.03,417.46 452.61,417.32 453.18,417.59 453.76,417.24 454.34,417.24 454.91,416.97 455.49,416.76 456.06,416.98 456.64,417.23 457.22,417.08 457.79,416.9 458.37,417.16 458.94,417.25 459.52,417.49 460.1,417.74 460.67,417.99 461.25,417.71 461.82,417.6 462.4,417.65 462.98,417.56 463.55,417.37 464.13,417.32 464.7,417.16 465.28,416.8 465.86,416.97 466.43,416.69 467.01,416.49 467.58,416.71 468.16,416.52 468.74,416.96 469.31,416.79 469.89,416.82 470.46,416.78 471.04,416.96 471.62,417.3 472.19,417.12 472.77,417.45 473.34,416.97 473.92,417.37 474.5,417.44 475.07,417.27 475.65,417.09 476.22,417.13 476.8,416.65 477.38,416.47 477.95,416.53 478.53,416.62 479.1,416.39 479.68,416.24 480.26,416.32 480.83,416.39 481.41,416.15 481.98,415.97 482.56,416.4 483.14,416.44 483.71,416.71 484.29,416.69 484.86,416.81 485.44,417.07 486.01,417 486.59,416.92 487.17,417.13 487.74,416.63 488.32,416.5 488.89,416.65 489.47,416.07 490.05,415.84 490.62,416.26 491.2,416 491.77,416.01 492.35,416.02 492.93,416.11 493.5,415.94 494.08,416.11 494.65,416.04 495.23,416.38 495.81,416.5 496.38,416.46 496.96,416.72 497.53,417.15 498.11,416.39 498.69,416.68 499.26,416.61 499.84,416.5 500.41,416.02 500.99,416.22 501.57,415.98 502.14,415.7 502.72,415.56 503.29,415.59 503.87,415.68 504.45,415.68 505.02,415.98 505.6,415.58 506.17,415.86 506.75,415.79 507.33,416.12 507.9,416.11 508.48,416.06 509.05,415.97 509.63,416.09 510.21,416.24 510.78,416.39 511.36,416.16 511.93,415.67 512.51,415.65 513.09,415.59 513.66,415.41 514.24,415.32 514.81,415.34 515.39,415.17 515.97,414.98 516.54,414.77 517.12,415.11 517.69,414.95 518.27,415.33 518.85,415.53 519.42,415.34 520,415.65 520.57,415.69 521.15,416.14 521.73,415.88 522.3,415.42 522.88,415.77 523.45,415.65 524.03,415.41 524.61,415.23 525.18,415.25 525.76,415.12 526.33,414.95 526.91,414.6 527.49,414.67 528.06,414.42 528.64,414.45 529.21,414.68 529.79,414.68 530.37,414.9 530.94,415.54 531.52,415.3 532.09,415.15 532.67,414.99 533.25,415.27 533.82,415.16 534.4,414.99 534.97,415.43 535.55,415.11 536.13,415.14 536.7,415.46 537.28,414.81 537.85,414.64 538.43,414.56 539,414.37 539.58,414.22 540.16,414.32 540.73,414.59 541.31,414.41 541.88,414.31 542.46,414.44 543.04,414.6 543.61,414.9 544.19,415.09 544.76,415.16 545.34,415.32 545.92,415.07 546.49,415.21 547.07,415.04 547.64,414.99 548.22,414.4 548.8,414.81 549.37,414.16 549.95,414.1 550.52,414.33 551.1,414.04 551.68,414.39 552.25,414.1 552.83,413.93 553.4,414.21 553.98,414.21 554.56,414.68 555.13,414.82 555.71,414.77 556.28,414.66 556.86,414.81 557.44,415.02 558.01,414.67 558.59,414.62 559.16,414.83 559.74,414.69 560.32,414.38 560.89,414.22 561.47,413.77 562.04,414.21 562.62,413.87 563.2,413.56 563.77,413.58 564.35,413.62 564.92,414.14 565.5,414.03 566.08,413.77 566.65,414.46 567.23,414.49 567.8,414.17 568.38,413.97 568.96,414.68 569.53,414.42 570.11,414.49 570.68,414.36 571.26,414.59 571.84,414.5 572.41,414.24 572.99,413.92 573.56,413.84 574.14,413.78 574.72,413.28 575.29,413.72 575.87,413.41 576.44,413.52 577.02,413.55 577.6,413.77 578.17,413.9 578.75,414.23 579.32,413.88 579.9,413.89 580.48,414.16 581.05,414.07 581.63,414.36 582.2,414.03 582.78,414.13 583.36,414.18 583.93,414.06 584.51,413.77 585.08,413.84 585.66,413.67 586.24,413 586.81,413.27 587.39,413.18 587.96,413.06 588.54,413.02 589.12,413.19 589.69,413.34 590.27,413.43 590.84,413.74 591.42,413.79 591.99,413.6 592.57,413.65 593.15,413.98 593.72,413.71 594.3,413.83 594.87,413.81 595.45,413.8 596.03,413.57 596.6,413.59 597.18,413.09 597.75,413.15 598.33,412.79 598.91,412.84 599.48,412.77 600.06,412.56 600.63,412.28 601.21,412.98 601.79,412.96 602.36,413.03 602.94,412.99 603.51,413.17 604.09,413.41 604.67,413.4 605.24,413.64 605.82,413.45 606.39,413.24 606.97,413.42 607.55,413.08 608.12,413.09 608.7,412.58 609.27,412.69 609.85,412.7 610.43,412.37 611,412.39 611.58,412.44 612.15,412.34 612.73,412.67 613.31,412.37 613.88,412.47 614.46,412.58 615.03,412.37 615.61,412.56 616.19,413.03 616.76,412.94 617.34,413.28 617.91,413.01 618.49,412.94 619.07,413.07 619.64,412.82 620.22,412.92 620.79,412.28 621.37,412.4 621.95,412.3 622.52,412.16 623.1,412.19 623.67,412.12 624.25,411.93 624.83,411.86 625.4,412.2 625.98,412.13 626.55,412.41 627.13,412.59 627.71,412.49 628.28,412.39 628.86,412.56 629.43,412.77 630.01,412.57 630.59,412.77 631.16,412.47 631.74,412.37 632.31,412.09 632.89,412.03 633.47,412.09 634.04,411.69 634.62,411.58 635.19,411.42 635.77,411.66 636.35,411.24 636.92,411.44 637.5,411.79 638.07,411.98 638.65,411.79 639.23,412.12 639.8,411.69 640.38,412.27 640.95,412.24 641.53,411.98 642.11,411.86 642.68,412.03 643.26,412.07 643.83,411.96 644.41,411.76 644.98,411.73 645.56,411.56 646.14,411.05 646.71,411.13 647.29,411.03 647.86,411.28 648.44,411.01 649.02,411.32 649.59,411.24 650.17,411.75 650.74,411.43 651.32,411.56 651.9,411.64 652.47,411.77 653.05,412.23 653.62,411.72 654.2,411.63 654.78,411.68 655.35,411.74 655.93,411.31 656.5,411.49 657.08,411.33 657.66,411.02 658.23,410.89 658.81,410.7 659.38,410.73 659.96,410.62 660.54,411.01 661.11,411.15 661.69,410.9 662.26,411.07 662.84,410.87 663.42,411.26 663.99,411.55 664.57,411.65 665.14,411.72 665.72,411.91 666.3,411.81 666.87,411.75 667.45,412.14 668.02,411.55 668.6,411.64" fill="none" stroke="#2266b8" stroke-width="1.5" stroke-linejoin="round" />
<text x="5" y="0" font-size="1" fill="#1a1a1a" color="#1a1a1a" style="stroke-width:0.1px" ></text>
<text transform="translate(9.3 400) rotate(-90)" font-size="10.1" text-anchor="middle" fill="#1a1a1a">Potential (V vs. RHE)</text>
<text x="369.5" y="484.3" font-size="10.1" text-anchor="middle" fill="#1a1a1a" color="#1a1a1a" >Time (h)</text>
<text x="656.4" y="447.5" font-size="9.6" text-anchor="end" fill="#1a1a1a">0.5 M PBS</text>
<text x="0.8" y="334.5" font-size="12.5" font-weight="bold" fill="#000" color="#000" >d</text>
<line x1="100.7" y1="337.8" x2="100.7" y2="395" stroke="#8c8c8c" stroke-width="0.8" />
<line x1="100.7" y1="395" x2="189.6" y2="395" stroke="#8c8c8c" stroke-width="0.8" />
<line x1="99.1" y1="351.9" x2="100.7" y2="351.9" stroke="#8c8c8c" stroke-width="0.7" />
<text x="98.2" y="354.4" font-size="7.2" text-anchor="end" fill="#2a2a2a" color="#2a2a2a" style="stroke-width:0.1px" >1.54</text>
<line x1="99.1" y1="380.7" x2="100.7" y2="380.7" stroke="#8c8c8c" stroke-width="0.7" />
<text x="98.2" y="383.2" font-size="7.2" text-anchor="end" fill="#2a2a2a" color="#2a2a2a" style="stroke-width:0.1px" >1.52</text>
<line x1="113.9" y1="395" x2="113.9" y2="396.6" stroke="#8c8c8c" stroke-width="0.7" />
<text x="113.9" y="403.2" font-size="7.2" text-anchor="middle" fill="#2a2a2a" color="#2a2a2a" style="stroke-width:0.1px" >320</text>
<line x1="141.9" y1="395" x2="141.9" y2="396.6" stroke="#8c8c8c" stroke-width="0.7" />
<text x="141.9" y="403.2" font-size="7.2" text-anchor="middle" fill="#2a2a2a" color="#2a2a2a" style="stroke-width:0.1px" >360</text>
<line x1="170.1" y1="395" x2="170.1" y2="396.6" stroke="#8c8c8c" stroke-width="0.7" />
<text x="170.1" y="403.2" font-size="7.2" text-anchor="middle" fill="#2a2a2a" color="#2a2a2a" style="stroke-width:0.1px" >400</text>
<polyline points="100.7,373.93 100.86,374.22 101.02,371.47 101.18,372.78 101.34,373.3 101.5,373.34 101.65,372.76 101.81,373.1 101.97,372.2 102.13,372.19 102.29,371.8 102.45,370.87 102.61,370.84 102.77,371.4 102.93,370.66 103.09,371.6 103.24,371.44 103.4,371.57 103.56,370.31 103.72,370.99 103.88,369.44 104.04,369.33 104.2,369.7 104.36,369.66 104.52,368.37 104.68,368.13 104.83,369.22 104.99,368.33 105.15,369.41 105.31,368.77 105.47,368.57 105.63,368.36 105.79,368.62 105.95,367.84 106.11,368.44 106.27,367.33 106.43,367.38 106.58,366.97 106.74,367.59 106.9,367.12 107.06,366.46 107.22,368.06 107.38,366.52 107.54,366.55 107.7,366.74 107.86,367.45 108.02,366.22 108.17,366.64 108.33,366.19 108.49,365.16 108.65,366.44 108.81,366.53 108.97,365.72 109.13,365.8 109.29,364.86 109.45,364.86 109.61,365.55 109.76,366.17 109.92,365.54 110.08,366.11 110.24,366.63 110.4,366.23 110.56,366.76 110.72,367.54 110.88,366.19 111.04,367.79 111.2,366.61 111.36,368.5 111.51,368.91 111.67,369.1 111.83,369.46 111.99,370.83 112.15,371.41 112.31,372.56 112.47,372.79 112.63,374.48 112.79,374.29 112.95,375.46 113.1,375.99 113.26,377.53 113.42,376.28 113.58,377.3 113.74,378.48 113.9,377.6 114.06,377.36 114.22,378.37 114.38,378.08 114.54,378.78 114.69,377.73 114.85,378.36 115.01,378.6 115.17,378.72 115.33,377.34 115.49,378.73 115.65,377.19 115.81,376.67 115.97,376.83 116.13,377.31 116.29,376.84 116.44,377.1 116.6,376.93 116.76,376.62 116.92,376.07 117.08,377.11 117.24,374.49 117.4,374.57 117.56,375.12 117.72,374.48 117.88,373.51 118.03,374.38 118.19,374.24 118.35,373.05 118.51,374.87 118.67,374.99 118.83,374.8 118.99,373.61 119.15,373.85 119.31,372.95 119.47,373.6 119.63,372.92 119.78,373.41 119.94,372.79 120.1,373.46 120.26,373.17 120.42,373.25 120.58,371.37 120.74,371.07 120.9,372.23 121.06,371.47 121.22,371.88 121.37,371.65 121.53,371.4 121.69,371.67 121.85,371.28 122.01,371.05 122.17,370.06 122.33,371.45 122.49,370.32 122.65,370.74 122.81,370.1 122.96,370.5 123.12,369.66 123.28,369.53 123.44,369.32 123.6,368.65 123.76,368.57 123.92,368.67 124.08,368.53 124.24,367.86 124.4,369.71 124.56,367.56 124.71,367.82 124.87,369.33 125.03,367.34 125.19,368.06 125.35,367.87 125.51,367.22 125.67,366.37 125.83,366.19 125.99,367.02 126.15,367.17 126.3,365.52 126.46,366.83 126.62,366.28 126.78,367.13 126.94,366.63 127.1,366.01 127.26,366.21 127.42,366.46 127.58,367.21 127.74,368.26 127.89,366.69 128.05,366.59 128.21,367 128.37,366.72 128.53,367.24 128.69,367.23 128.85,367.2 129.01,366.93 129.17,367.74 129.33,368.46 129.49,368.25 129.64,369.44 129.8,369.43 129.96,369.13 130.12,370.62 130.28,369.26 130.44,371 130.6,371.77 130.76,370.84 130.92,371.26 131.08,372.21 131.23,372.78 131.39,372.45 131.55,372.6 131.71,373.22 131.87,373.03 132.03,372.35 132.19,373.12 132.35,373.36 132.51,372.6 132.67,373.88 132.82,373.27 132.98,374.24 133.14,372.97 133.3,373.38 133.46,373.1 133.62,374.76 133.78,374.77 133.94,374.91 134.1,374.93 134.26,374.59 134.42,374.57 134.57,373 134.73,374.2 134.89,373.68 135.05,373.77 135.21,373.2 135.37,374.69 135.53,373.96 135.69,372.93 135.85,374.09 136.01,373.69 136.16,373.07 136.32,373.46 136.48,373.11 136.64,372.14 136.8,372.55 136.96,373.71 137.12,373.55 137.28,373.45 137.44,372.51 137.6,372.8 137.75,373.13 137.91,373.45 138.07,372.47 138.23,372.28 138.39,373.54 138.55,372.83 138.71,372.5 138.87,372.22 139.03,372.2 139.19,373.48 139.35,373.05 139.5,372.15 139.66,371.59 139.82,373.28 139.98,373.15 140.14,372.87 140.3,372.59 140.46,370.89 140.62,371.18 140.78,372.23 140.94,371.66 141.09,371.93 141.25,371.4 141.41,371.26 141.57,371.92 141.73,371.29 141.89,371.47 142.05,371.58 142.21,371.51 142.37,372.01 142.53,372.09 142.68,370.39 142.84,371 143,370.73 143.16,371.53 143.32,370.4 143.48,371.47 143.64,371.38 143.8,371.27 143.96,370.31 144.12,370.75 144.28,370.21 144.43,371.08 144.59,371.4 144.75,369.9 144.91,370.32 145.07,370.74 145.23,370.54 145.39,371.77 145.55,370.8 145.71,371.1 145.87,370.36 146.02,372.03 146.18,371.28 146.34,371.76 146.5,371.5 146.66,370.32 146.82,370.79 146.98,371.19 147.14,372.48 147.3,372.12 147.46,372.97 147.62,373.2 147.77,373.49 147.93,374.27 148.09,374.2 148.25,373.52 148.41,374.52 148.57,376.36 148.73,375.17 148.89,377.06 149.05,377.65 149.21,376.7 149.36,377.61 149.52,376.89 149.68,378.44 149.84,377.75 150,377.58 150.16,378.25 150.32,378.3 150.48,378.23 150.64,378.71 150.8,378.45 150.95,378.07 151.11,378.95 151.27,379.71 151.43,378.14 151.59,377.52 151.75,377.16 151.91,377.89 152.07,377.16 152.23,377.09 152.39,375.62 152.55,375.87 152.7,375.58 152.86,376.54 153.02,375.51 153.18,373.88 153.34,375.34 153.5,375.41 153.66,375.19 153.82,372.39 153.98,373.83 154.14,373.89 154.29,373.43 154.45,372.59 154.61,371.31 154.77,371.79 154.93,371.53 155.09,371.74 155.25,371.45 155.41,370.61 155.57,370.95 155.73,369.5 155.88,369.42 156.04,369.53 156.2,369.61 156.36,368.8 156.52,369.47 156.68,368.73 156.84,367.68 157,368.05 157.16,367.24 157.32,366.96 157.48,366.46 157.63,367.92 157.79,367.38 157.95,365.63 158.11,367.01 158.27,366.68 158.43,365.63 158.59,365.91 158.75,366.7 158.91,365.27 159.07,365.11 159.22,365.28 159.38,363.73 159.54,363.35 159.7,363.02 159.86,363.58 160.02,363.9 160.18,362.63 160.34,362.09 160.5,362.81 160.66,362.24 160.81,362.61 160.97,361.96 161.13,361.72 161.29,361.57 161.45,361.44 161.61,360.65 161.77,360.37 161.93,361.82 162.09,362.54 162.25,361.21 162.41,359.41 162.56,360.26 162.72,360.81 162.88,359.02 163.04,359.6 163.2,359.54 163.36,359.16 163.52,359.15 163.68,360.22 163.84,359.29 164,359.44 164.15,360.63 164.31,359.11 164.47,358.55 164.63,360.22 164.79,361.17 164.95,360.27 165.11,360.59 165.27,359.9 165.43,360.41 165.59,362.24 165.74,362.51 165.9,362.54 166.06,362.29 166.22,362.45 166.38,363.08 166.54,363.57 166.7,365.22 166.86,364.99 167.02,365.78 167.18,367.12 167.34,367.73 167.49,367.98 167.65,368.85 167.81,369.17 167.97,368.57 168.13,370.23 168.29,370.55 168.45,371.06 168.61,371.87 168.77,371.77 168.93,373.18 169.08,372.67 169.24,373.08 169.4,373.38 169.56,373.23 169.72,373.81 169.88,373.97 170.04,373.93 170.2,373.14 170.36,373.04 170.52,373.17 170.67,373.49 170.83,372.29 170.99,372.8 171.15,372.5 171.31,372.65 171.47,372.34 171.63,373.23 171.79,372.82 171.95,372.93 172.11,371.56 172.27,371.46 172.42,371.53 172.58,372.48 172.74,372.25 172.9,370.64 173.06,371.15 173.22,371.82 173.38,369.67 173.54,369.93 173.7,370.59 173.86,370 174.01,368.74 174.17,370.02 174.33,369.47 174.49,369.08 174.65,367.71 174.81,368.15 174.97,368.83 175.13,368.12 175.29,368.08 175.45,367.22 175.61,368.07 175.76,366.76 175.92,367.21 176.08,366.59 176.24,365.57 176.4,366.76 176.56,364.84 176.72,364.88 176.88,365.13 177.04,363.92 177.2,363.39 177.35,364.12 177.51,363.65 177.67,363.46 177.83,363.64 177.99,364.4 178.15,362.51 178.31,363.94 178.47,362.33 178.63,361.85 178.79,360 178.94,360.42 179.1,361.21 179.26,361.12 179.42,360.01 179.58,360.42 179.74,360.51 179.9,359.38 180.06,358.49 180.22,358.63 180.38,358.79 180.54,358.9 180.69,358.97 180.85,357.73 181.01,358.09 181.17,357.7 181.33,357.7 181.49,358.16 181.65,358.11 181.81,356.87 181.97,356.66 182.13,356.5 182.28,356.48 182.44,356.44 182.6,356.55 182.76,356.32 182.92,355.95 183.08,355.92 183.24,356.75 183.4,358.28 183.56,357.29 183.72,357.57 183.87,357.63 184.03,357.59 184.19,359.25 184.35,358.22 184.51,358.24 184.67,358.56 184.83,359.88 184.99,359.73 185.15,360.38 185.31,360.98 185.47,361.36 185.62,362.9 185.78,362.49 185.94,365.56 186.1,363.24 186.26,364.77 186.42,366.35 186.58,367.25 186.74,367.43 186.9,368.43 187.06,368.89 187.21,369.37 187.37,369.98 187.53,370.07 187.69,370.02 187.85,370.07 188.01,370.7 188.17,369.95 188.33,370.21 188.49,370.55 188.65,369.46 188.8,369.49 188.96,367.96 189.12,367.76 189.28,367.24 189.44,366.44 189.6,366.09" fill="none" stroke="#a9c8ee" stroke-width="1.1" stroke-linejoin="round" />
<text transform="translate(81.7 373.9) rotate(-90)" font-size="7.45" text-anchor="middle" fill="#1a1a1a" style="stroke-width:0.12px">Potential (V vs. RHE)</text>
<text x="154" y="412.8" font-size="8.3" text-anchor="middle" fill="#1a1a1a" color="#1a1a1a" >Time (h)</text>
<line x1="300.4" y1="338.2" x2="300.4" y2="395.3" stroke="#8c8c8c" stroke-width="0.8" />
<line x1="300.4" y1="395.3" x2="389.6" y2="395.3" stroke="#8c8c8c" stroke-width="0.8" />
<line x1="298.8" y1="357.6" x2="300.4" y2="357.6" stroke="#8c8c8c" stroke-width="0.7" />
<text x="297.9" y="360.1" font-size="7.2" text-anchor="end" fill="#2a2a2a" color="#2a2a2a" style="stroke-width:0.1px" >1.56</text>
<line x1="298.8" y1="378.7" x2="300.4" y2="378.7" stroke="#8c8c8c" stroke-width="0.7" />
<text x="297.9" y="381.2" font-size="7.2" text-anchor="end" fill="#2a2a2a" color="#2a2a2a" style="stroke-width:0.1px" >1.55</text>
<line x1="300" y1="395.3" x2="300" y2="396.9" stroke="#8c8c8c" stroke-width="0.7" />
<text x="300" y="403.5" font-size="7.2" text-anchor="middle" fill="#2a2a2a" color="#2a2a2a" style="stroke-width:0.1px" >840</text>
<line x1="335.8" y1="395.3" x2="335.8" y2="396.9" stroke="#8c8c8c" stroke-width="0.7" />
<text x="335.8" y="403.5" font-size="7.2" text-anchor="middle" fill="#2a2a2a" color="#2a2a2a" style="stroke-width:0.1px" >880</text>
<line x1="371.6" y1="395.3" x2="371.6" y2="396.9" stroke="#8c8c8c" stroke-width="0.7" />
<text x="371.6" y="403.5" font-size="7.2" text-anchor="middle" fill="#2a2a2a" color="#2a2a2a" style="stroke-width:0.1px" >920</text>
<polyline points="300.7,376 300.84,376.12 300.99,375.59 301.13,375.03 301.27,375.25 301.42,374.73 301.56,375.41 301.71,376.26 301.85,374.77 301.99,374.56 302.14,375.28 302.28,375.06 302.42,374.76 302.57,373.87 302.71,374.43 302.85,374.86 303,373.22 303.14,373.77 303.29,372.57 303.43,372.92 303.57,372.39 303.72,373.48 303.86,372.6 304,373.64 304.15,373.45 304.29,373.08 304.43,371.23 304.58,372.6 304.72,372.87 304.86,372.89 305.01,371.55 305.15,372.24 305.3,371.76 305.44,371.79 305.58,373.1 305.73,371.6 305.87,372.09 306.01,372.68 306.16,371.49 306.3,371.76 306.44,371.84 306.59,371.72 306.73,370.67 306.88,371.56 307.02,372.45 307.16,370.2 307.31,371.94 307.45,371.32 307.59,370.68 307.74,372.61 307.88,371.64 308.02,370.12 308.17,371.03 308.31,371.38 308.46,370.79 308.6,371.43 308.74,370.86 308.89,371.43 309.03,372.05 309.17,370.51 309.32,371.24 309.46,370.85 309.6,371.41 309.75,370.57 309.89,371.21 310.04,371.69 310.18,372.74 310.32,373.19 310.47,371.61 310.61,372.32 310.75,373.72 310.9,372.1 311.04,373.6 311.18,374.25 311.33,375.63 311.47,375.56 311.62,375.14 311.76,375.42 311.9,375.81 312.05,377.38 312.19,376.15 312.33,376.4 312.48,377.05 312.62,376.79 312.76,376.79 312.91,376.16 313.05,376.99 313.19,376.66 313.34,377.85 313.48,377.43 313.63,376.88 313.77,377.32 313.91,376.49 314.06,377.44 314.2,376.53 314.34,376.86 314.49,375.31 314.63,376.4 314.77,374.72 314.92,374.3 315.06,375.44 315.21,374.81 315.35,375.43 315.49,376.82 315.64,374.32 315.78,374.29 315.92,374.73 316.07,374.76 316.21,374.07 316.35,373.86 316.5,374.36 316.64,374.04 316.79,372.69 316.93,373.22 317.07,373.13 317.22,372.14 317.36,372.95 317.5,371.94 317.65,373.14 317.79,372.39 317.93,372.14 318.08,371.46 318.22,371.63 318.37,370.05 318.51,370.52 318.65,371.46 318.8,369.39 318.94,371.43 319.08,369.28 319.23,370.96 319.37,369.55 319.51,370.57 319.66,369.87 319.8,368.4 319.94,370.28 320.09,370.21 320.23,368.87 320.38,368.5 320.52,368.37 320.66,367.54 320.81,368.88 320.95,367.43 321.09,367.58 321.24,366.8 321.38,366.71 321.52,366.01 321.67,367.69 321.81,366.41 321.96,367.04 322.1,366.11 322.24,365.36 322.39,365.43 322.53,365.04 322.67,365.25 322.82,364.75 322.96,364.6 323.1,363.58 323.25,363.81 323.39,365.45 323.54,363.51 323.68,363.02 323.82,363.86 323.97,364.46 324.11,362.12 324.25,362.87 324.4,362.37 324.54,361.33 324.68,363.02 324.83,362.26 324.97,362.16 325.12,361.37 325.26,362.11 325.4,361.2 325.55,361.34 325.69,360.45 325.83,360.2 325.98,361.98 326.12,360.46 326.26,360.93 326.41,360.55 326.55,360.11 326.69,359.93 326.84,360.69 326.98,359.89 327.13,359.91 327.27,359.94 327.41,360.71 327.56,360.28 327.7,360.02 327.84,359.27 327.99,358.62 328.13,360.33 328.27,360.35 328.42,359.56 328.56,360.12 328.71,360.35 328.85,360.43 328.99,360.63 329.14,359.73 329.28,361.35 329.42,359.42 329.57,361.19 329.71,361.14 329.85,361.65 330,362.63 330.14,362.61 330.29,360.94 330.43,360.84 330.57,363.02 330.72,362.01 330.86,363.13 331,364.13 331.15,362.65 331.29,362.72 331.43,364.91 331.58,365.16 331.72,365.38 331.87,366.03 332.01,365.8 332.15,365.74 332.3,367.19 332.44,367.02 332.58,366.94 332.73,368.96 332.87,368.94 333.01,369.69 333.16,368.99 333.3,369.59 333.45,369.69 333.59,370.04 333.73,371.13 333.88,370.66 334.02,371.72 334.16,371.87 334.31,373.31 334.45,370.89 334.59,372.7 334.74,372.06 334.88,372.21 335.02,371.19 335.17,372 335.31,372.95 335.46,372.35 335.6,372.49 335.74,372.22 335.89,373.28 336.03,372.37 336.17,370.68 336.32,371.75 336.46,370.73 336.6,369.67 336.75,371.61 336.89,372.9 337.04,371.81 337.18,370.77 337.32,370.82 337.47,372.23 337.61,371.37 337.75,371.15 337.9,370.93 338.04,370.85 338.18,371.28 338.33,370.95 338.47,370.56 338.62,369.47 338.76,370.5 338.9,369.47 339.05,370.67 339.19,368.76 339.33,369.47 339.48,369.45 339.62,368.34 339.76,370.5 339.91,370.18 340.05,368.61 340.2,369.4 340.34,368.98 340.48,366.6 340.63,368.62 340.77,368.26 340.91,368.23 341.06,367.21 341.2,367.67 341.34,367.6 341.49,368.48 341.63,367.69 341.77,367.29 341.92,368.29 342.06,366.57 342.21,366.54 342.35,365.32 342.49,367.71 342.64,367.1 342.78,366.91 342.92,366.57 343.07,365.99 343.21,365.91 343.35,365.41 343.5,365.29 343.64,365.32 343.79,366.26 343.93,365.38 344.07,364.76 344.22,364.21 344.36,364.01 344.5,365.53 344.65,364.55 344.79,364.06 344.93,363.59 345.08,362.86 345.22,363.49 345.37,364.04 345.51,362.93 345.65,362.89 345.8,362.74 345.94,362.83 346.08,361.4 346.23,362.26 346.37,361.64 346.51,362.79 346.66,361.39 346.8,362.25 346.95,362.81 347.09,361.27 347.23,360.9 347.38,361.35 347.52,361.05 347.66,360.16 347.81,361.1 347.95,362.12 348.09,360.27 348.24,360.16 348.38,359.39 348.53,360.27 348.67,358.96 348.81,358.92 348.96,360.57 349.1,358.79 349.24,360.14 349.39,360.35 349.53,359.27 349.67,359.37 349.82,360.29 349.96,358.55 350.1,358.13 350.25,357.44 350.39,358.38 350.54,359.36 350.68,358.87 350.82,357.34 350.97,357.3 351.11,357.48 351.25,358.02 351.4,357.58 351.54,357.83 351.68,357.83 351.83,357.38 351.97,357.58 352.12,357.78 352.26,357.62 352.4,358.19 352.55,359.35 352.69,358.72 352.83,358.81 352.98,358.61 353.12,363.95 353.26,363.29 353.41,364.12 353.55,366.12 353.7,366.2 353.84,365.71 353.98,364.62 354.13,365.7 354.27,365.53 354.41,366.56 354.56,367.81 354.7,366.32 354.84,365.59 354.99,365.31 355.13,366.16 355.28,366.08 355.42,365.35 355.56,366.3 355.71,365.34 355.85,367.03 355.99,366.98 356.14,366.98 356.28,365.79 356.42,366.51 356.57,366.01 356.71,365.79 356.85,365.8 357,365.04 357.14,364.9 357.29,366.55 357.43,365.78 357.57,366.04 357.72,366.59 357.86,364.5 358,365.17 358.15,365.85 358.29,365.96 358.43,365.34 358.58,366.34 358.72,365.68 358.87,364.56 359.01,364.71 359.15,365.96 359.3,365.65 359.44,363.82 359.58,366.19 359.73,365.57 359.87,366.07 360.01,364.71 360.16,364.71 360.3,364.02 360.45,366.69 360.59,364.59 360.73,365.83 360.88,364.08 361.02,364.61 361.16,363.13 361.31,364 361.45,364.91 361.59,363.09 361.74,364.68 361.88,363.93 362.03,362.66 362.17,362.79 362.31,362.49 362.46,362.43 362.6,361.69 362.74,361.14 362.89,361.23 363.03,360.42 363.17,360 363.32,360.72 363.46,361.24 363.61,359.25 363.75,360.25 363.89,359.62 364.04,359.23 364.18,360.47 364.32,359.31 364.47,360.69 364.61,358.84 364.75,359.58 364.9,358.98 365.04,358.44 365.18,359.31 365.33,358.61 365.47,359.03 365.62,358.4 365.76,357.48 365.9,358.08 366.05,358.06 366.19,358.6 366.33,357.06 366.48,357.57 366.62,356.18 366.76,357.82 366.91,356.39 367.05,355.71 367.2,356.89 367.34,357.63 367.48,355.54 367.63,355.74 367.77,355.87 367.91,355.46 368.06,356.46 368.2,355.46 368.34,355.41 368.49,356.27 368.63,355.16 368.78,355.93 368.92,354.78 369.06,354.5 369.21,353.93 369.35,356.6 369.49,354.87 369.64,355.2 369.78,354.92 369.92,354.98 370.07,354.82 370.21,356.14 370.36,353.85 370.5,353.41 370.64,353.77 370.79,353.48 370.93,354.99 371.07,355.01 371.22,353.66 371.36,353.32 371.5,354.09 371.65,355.38 371.79,352.27 371.93,354.82 372.08,353.66 372.22,355.3 372.37,353.84 372.51,354.57 372.65,353.79 372.8,354.41 372.94,356.43 373.08,356.25 373.23,355.67 373.37,355.68 373.51,355.28 373.66,356.88 373.8,357.63 373.95,358.13 374.09,358.69 374.23,358.52 374.38,359.96 374.52,360.63 374.66,362.3 374.81,363.41 374.95,362.57 375.09,362.74 375.24,363.87 375.38,364.03 375.53,364.44 375.67,365.42 375.81,365.06 375.96,366.68 376.1,366.39 376.24,366.89 376.39,366.75 376.53,366.49 376.67,366.46 376.82,367.08 376.96,366.93 377.11,367.57 377.25,367.42 377.39,366.42 377.54,367.48 377.68,366.41 377.82,366.9 377.97,367.08 378.11,365.67 378.25,367.21 378.4,367.16 378.54,366.82 378.68,366.51 378.83,366.43 378.97,365.86 379.12,366.27 379.26,365.93 379.4,366.29 379.55,365.19 379.69,366.15 379.83,365.96 379.98,365.63 380.12,365.29 380.26,365.93 380.41,364.15 380.55,365.65 380.7,365.39 380.84,365.32 380.98,365.3 381.13,364.43 381.27,364.63 381.41,365.21 381.56,364.96 381.7,364.7 381.84,363.31 381.99,364.75 382.13,365.12 382.28,364.9 382.42,364.22 382.56,362.77 382.71,364.55 382.85,363.63 382.99,361.73 383.14,363.81 383.28,362.3 383.42,362.35 383.57,362.74 383.71,364.06 383.86,362.72 384,363.1 384.14,364.1 384.29,363.87 384.43,362.49 384.57,362.28 384.72,361.41 384.86,361.72 385,362.46 385.15,362.32 385.29,362 385.44,362.55 385.58,361.12 385.72,361.55 385.87,362.03 386.01,361.81 386.15,362.06 386.3,361.45 386.44,360.8 386.58,361.2 386.73,360.06 386.87,359.47 387.01,361.03 387.16,360.44 387.3,360.6 387.45,358.99 387.59,359.87 387.73,359.59 387.88,359.28 388.02,358.12 388.16,359.45 388.31,360.26 388.45,359.77 388.59,358.92 388.74,359.25 388.88,359.71 389.03,356.97 389.17,358.83 389.31,359.22 389.46,359.22 389.6,359.88" fill="none" stroke="#bfd6f2" stroke-width="0.9" stroke-linejoin="round" />
<text transform="translate(279.4 374.2) rotate(-90)" font-size="7.45" text-anchor="middle" fill="#1a1a1a" style="stroke-width:0.12px">Potential (V vs. RHE)</text>
<text x="347.9" y="413" font-size="8.3" text-anchor="middle" fill="#1a1a1a" color="#1a1a1a" >Time (h)</text>
<line x1="521.5" y1="338.2" x2="521.5" y2="395.4" stroke="#8c8c8c" stroke-width="0.8" />
<line x1="521.5" y1="395.4" x2="610.4" y2="395.4" stroke="#8c8c8c" stroke-width="0.8" />
<line x1="519.9" y1="360.7" x2="521.5" y2="360.7" stroke="#8c8c8c" stroke-width="0.7" />
<text x="519" y="363.2" font-size="7.2" text-anchor="end" fill="#2a2a2a" color="#2a2a2a" style="stroke-width:0.1px" >1.60</text>
<line x1="519.9" y1="384.8" x2="521.5" y2="384.8" stroke="#8c8c8c" stroke-width="0.7" />
<text x="519" y="387.3" font-size="7.2" text-anchor="end" fill="#2a2a2a" color="#2a2a2a" style="stroke-width:0.1px" >1.58</text>
<line x1="521.5" y1="395.4" x2="521.5" y2="397" stroke="#8c8c8c" stroke-width="0.7" />
<text x="521.5" y="403.6" font-size="7.2" text-anchor="middle" fill="#2a2a2a" color="#2a2a2a" style="stroke-width:0.1px" >1260</text>
<line x1="554.6" y1="395.4" x2="554.6" y2="397" stroke="#8c8c8c" stroke-width="0.7" />
<text x="554.6" y="403.6" font-size="7.2" text-anchor="middle" fill="#2a2a2a" color="#2a2a2a" style="stroke-width:0.1px" >1290</text>
<line x1="588.3" y1="395.4" x2="588.3" y2="397" stroke="#8c8c8c" stroke-width="0.7" />
<text x="588.3" y="403.6" font-size="7.2" text-anchor="middle" fill="#2a2a2a" color="#2a2a2a" style="stroke-width:0.1px" >1320</text>
<polyline points="521.5,369.6 521.64,370.13 521.79,370.4 521.93,371.47 522.07,370.31 522.22,372.2 522.36,371.9 522.51,373.55 522.65,373.83 522.79,374.36 522.94,374.08 523.08,373.62 523.22,374.43 523.37,375.01 523.51,373.46 523.65,374.46 523.8,373.98 523.94,375.08 524.09,373.34 524.23,373.68 524.37,374.1 524.52,373.92 524.66,372.4 524.8,373.77 524.95,373.28 525.09,373.05 525.23,372.96 525.38,373.09 525.52,371.4 525.66,373.77 525.81,371.79 525.95,370.58 526.1,372.03 526.24,373.01 526.38,371.36 526.53,372.73 526.67,372.56 526.81,370.58 526.96,369.2 527.1,369.96 527.24,371.61 527.39,369.94 527.53,369.26 527.68,369.23 527.82,370.08 527.96,369.91 528.11,370.44 528.25,370.39 528.39,368.81 528.54,369.26 528.68,368.41 528.82,369.2 528.97,368.16 529.11,368.02 529.26,370.41 529.4,368.74 529.54,369.09 529.69,370.41 529.83,369 529.97,368.23 530.12,368.26 530.26,367.57 530.4,368.86 530.55,367.7 530.69,369.18 530.84,367.51 530.98,367.42 531.12,367.28 531.27,367.98 531.41,367.57 531.55,368.37 531.7,366.85 531.84,367.4 531.98,368.55 532.13,366.84 532.27,367.34 532.42,368.04 532.56,367.2 532.7,366.23 532.85,365.08 532.99,368.34 533.13,366.79 533.28,367.34 533.42,365.96 533.56,367.61 533.71,366.56 533.85,366.13 533.99,365.34 534.14,366.22 534.28,365.51 534.43,365.63 534.57,364.51 534.71,365.28 534.86,365.7 535,364.57 535.14,365.49 535.29,365.86 535.43,365.06 535.57,364.75 535.72,364.68 535.86,365.78 536.01,363.85 536.15,364.69 536.29,364.52 536.44,364.86 536.58,364.62 536.72,363.75 536.87,366.01 537.01,364.52 537.15,363.29 537.3,363.52 537.44,364.16 537.59,364.44 537.73,362.87 537.87,364.31 538.02,362.64 538.16,362.96 538.3,364.09 538.45,364.62 538.59,363.17 538.73,362.9 538.88,363.98 539.02,362.12 539.17,363.03 539.31,362.9 539.45,363.38 539.6,362.75 539.74,362.24 539.88,362.82 540.03,361.42 540.17,362.79 540.31,361.61 540.46,361.36 540.6,361.69 540.74,361.93 540.89,362.37 541.03,361.63 541.18,362.29 541.32,362.42 541.46,361.57 541.61,360.89 541.75,362.29 541.89,361.78 542.04,359.96 542.18,360.8 542.32,361.65 542.47,360.52 542.61,361.04 542.76,360.27 542.9,361.89 543.04,361.8 543.19,361.78 543.33,362.77 543.47,361.47 543.62,361.59 543.76,363.4 543.9,360.98 544.05,362.58 544.19,361.15 544.34,362.43 544.48,363.96 544.62,362.69 544.77,362.03 544.91,364.53 545.05,362.48 545.2,362.89 545.34,363.42 545.48,362.34 545.63,364.34 545.77,364.89 545.92,364.42 546.06,364.27 546.2,364.08 546.35,365.03 546.49,362.19 546.63,364.64 546.78,365.11 546.92,363.62 547.06,365.61 547.21,365.39 547.35,365.65 547.49,365.94 547.64,366.48 547.78,366.58 547.93,365.65 548.07,366.53 548.21,366.66 548.36,367.01 548.5,366.73 548.64,368.08 548.79,368.51 548.93,368.84 549.07,369.3 549.22,369.17 549.36,367.87 549.51,367.92 549.65,368.24 549.79,369.11 549.94,368.74 550.08,369.73 550.22,370.38 550.37,368.95 550.51,370.13 550.65,369.22 550.8,368.69 550.94,368.81 551.09,369.63 551.23,368.53 551.37,370.41 551.52,371.25 551.66,369.33 551.8,370.04 551.95,371.49 552.09,370.63 552.23,370.55 552.38,370.25 552.52,371.24 552.67,370.74 552.81,369.67 552.95,368.64 553.1,368.44 553.24,370.94 553.38,370.23 553.53,371.46 553.67,370.71 553.81,369.32 553.96,370.44 554.1,371.06 554.25,369.43 554.39,369.64 554.53,371.24 554.68,368.54 554.82,368.95 554.96,370.47 555.11,369.72 555.25,368.61 555.39,368.26 555.54,369.59 555.68,370.04 555.82,369.64 555.97,369.2 556.11,369.88 556.26,368.86 556.4,367.88 556.54,369.89 556.69,367.31 556.83,367.99 556.97,367.89 557.12,368.88 557.26,367.09 557.4,367.31 557.55,366.03 557.69,367.46 557.84,367.39 557.98,367.39 558.12,366.06 558.27,366.78 558.41,365.78 558.55,365.93 558.7,366.07 558.84,366.95 558.98,365.49 559.13,365.8 559.27,364.88 559.42,364.93 559.56,364.68 559.7,364.93 559.85,365.47 559.99,363.92 560.13,365.15 560.28,363.75 560.42,364.57 560.56,363.76 560.71,363.81 560.85,363.62 561,364.6 561.14,363.84 561.28,364.32 561.43,363.13 561.57,363.12 561.71,364.41 561.86,361.85 562,362.32 562.14,362.75 562.29,364.16 562.43,362.24 562.57,363.2 562.72,363.69 562.86,362.23 563.01,362.18 563.15,363.46 563.29,361.69 563.44,361.22 563.58,362.52 563.72,361.41 563.87,362.67 564.01,362 564.15,360.18 564.3,361.61 564.44,361.3 564.59,360.7 564.73,361.93 564.87,359.68 565.02,359.98 565.16,360.46 565.3,361.34 565.45,359.5 565.59,360.1 565.73,359.97 565.88,359.3 566.02,360.07 566.17,359.45 566.31,359.91 566.45,360.41 566.6,359.46 566.74,359.46 566.88,359.34 567.03,359.41 567.17,358.84 567.31,359.12 567.46,360.09 567.6,359.32 567.75,362.44 567.89,359.38 568.03,360.35 568.18,358.88 568.32,359.83 568.46,359.66 568.61,360.04 568.75,361.14 568.89,360.04 569.04,359.33 569.18,360.4 569.33,359.65 569.47,360.36 569.61,361.73 569.76,361.35 569.9,361.56 570.04,361.26 570.19,360.95 570.33,359.92 570.47,360.86 570.62,360.95 570.76,361.99 570.9,362.37 571.05,362.11 571.19,361.3 571.34,363.44 571.48,363.27 571.62,362.19 571.77,362.66 571.91,363.15 572.05,362.9 572.2,362.91 572.34,363.52 572.48,363.32 572.63,363.63 572.77,362.43 572.92,362.6 573.06,365.28 573.2,363 573.35,364.67 573.49,364.71 573.63,364.8 573.78,364.28 573.92,365.72 574.06,365.39 574.21,365.03 574.35,364.39 574.5,365.42 574.64,365.3 574.78,364.96 574.93,366.35 575.07,366.65 575.21,366.97 575.36,366.58 575.5,366.44 575.64,367.62 575.79,367.48 575.93,368.74 576.08,367.55 576.22,366.54 576.36,368.08 576.51,369.2 576.65,367.73 576.79,367.46 576.94,367.23 577.08,369.18 577.22,367.64 577.37,367.61 577.51,368.04 577.65,366.76 577.8,367.58 577.94,366.77 578.09,367.55 578.23,367.96 578.37,368.14 578.52,366.98 578.66,367.77 578.8,366.64 578.95,365.45 579.09,366.9 579.23,366 579.38,365.92 579.52,363.52 579.67,365.26 579.81,364.89 579.95,364.43 580.1,364.57 580.24,363.03 580.38,364.41 580.53,362.83 580.67,362.18 580.81,359.39 580.96,359.28 581.1,361.41 581.25,360.13 581.39,360.11 581.53,358.76 581.68,358.6 581.82,358.86 581.96,357.55 582.11,358.91 582.25,356.86 582.39,357.65 582.54,357.07 582.68,357.33 582.83,357.81 582.97,355.85 583.11,356.87 583.26,356.47 583.4,356.88 583.54,356.11 583.69,355.66 583.83,356.32 583.97,356.87 584.12,356.41 584.26,355.85 584.41,355.99 584.55,354.46 584.69,355.15 584.84,355.32 584.98,355.05 585.12,354.88 585.27,355.32 585.41,355.61 585.55,356.72 585.7,354.69 585.84,354.48 585.98,355.86 586.13,355.18 586.27,354.35 586.42,356.11 586.56,354.76 586.7,354.62 586.85,354.35 586.99,354.06 587.13,354.77 587.28,353.92 587.42,356.43 587.56,354.78 587.71,354.28 587.85,353.83 588,354.55 588.14,355.04 588.28,354.42 588.43,353.33 588.57,353.95 588.71,352.79 588.86,355.09 589,354.47 589.14,354.06 589.29,354.07 589.43,353.37 589.58,353.64 589.72,354.42 589.86,353.61 590.01,354.04 590.15,353.71 590.29,353.67 590.44,353.69 590.58,354.18 590.72,353.14 590.87,353.82 591.01,352.68 591.16,352.79 591.3,352.64 591.44,353.78 591.59,352.87 591.73,353.97 591.87,352.25 592.02,353.27 592.16,352.08 592.3,353.75 592.45,352.35 592.59,353.18 592.73,352.28 592.88,352.2 593.02,352.92 593.17,351.43 593.31,351.79 593.45,353.79 593.6,352.01 593.74,353.21 593.88,351.94 594.03,351.34 594.17,352.24 594.31,353.19 594.46,352.5 594.6,352.28 594.75,353.13 594.89,351.91 595.03,353.03 595.18,352.72 595.32,351.72 595.46,353.18 595.61,353.33 595.75,352.31 595.89,352.59 596.04,352.32 596.18,351.71 596.33,353.17 596.47,351.85 596.61,353.02 596.76,352.27 596.9,351.95 597.04,353.24 597.19,353.02 597.33,354.28 597.47,352.91 597.62,353.18 597.76,353.27 597.91,353.11 598.05,354.4 598.19,354.65 598.34,354.21 598.48,353.12 598.62,354.39 598.77,354.28 598.91,354.1 599.05,353.51 599.2,355.57 599.34,356.05 599.48,355.63 599.63,356.03 599.77,357.3 599.92,357.72 600.06,356.74 600.2,354.78 600.35,357.79 600.49,357.71 600.63,358.47 600.78,357.95 600.92,357.96 601.06,359.48 601.21,359.27 601.35,359.98 601.5,360.61 601.64,360.78 601.78,360.04 601.93,361.95 602.07,361.55 602.21,362.16 602.36,363.03 602.5,361.99 602.64,363.23 602.79,362.42 602.93,363.67 603.08,364.64 603.22,364.57 603.36,364.68 603.51,365.53 603.65,364.98 603.79,364.23 603.94,366.36 604.08,365.82 604.22,366.35 604.37,365.53 604.51,365.55 604.66,365.36 604.8,364.46 604.94,365.54 605.09,365.38 605.23,366.94 605.37,364.23 605.52,365.56 605.66,365.26 605.8,365.19 605.95,364.97 606.09,365.07 606.24,365.37 606.38,363.32 606.52,365.02 606.67,364.03 606.81,363.37 606.95,362.59 607.1,362.49 607.24,363.68 607.38,362.77 607.53,362.63 607.67,362.96 607.81,363.2 607.96,362.69 608.1,362.04 608.25,362.26 608.39,362.44 608.53,361.62 608.68,362.92 608.82,363.02 608.96,362.87 609.11,361.49 609.25,361.3 609.39,360.69 609.54,362.23 609.68,360.67 609.83,362.48 609.97,359.15 610.11,360.66 610.26,360.7 610.4,360.16" fill="none" stroke="#b4cff0" stroke-width="0.9" stroke-linejoin="round" />
<text transform="translate(492.1 374) rotate(-90)" font-size="7.45" text-anchor="middle" fill="#1a1a1a" style="stroke-width:0.12px">Potential (V vs. RHE)</text>
<text x="566" y="413" font-size="8.3" text-anchor="middle" fill="#1a1a1a" color="#1a1a1a" >Time (h)</text>
<line x1="37.4" y1="490.5" x2="670.7" y2="490.5" stroke="#6e6e6e" stroke-width="1" />
<line x1="37.4" y1="614.3" x2="670.7" y2="614.3" stroke="#6e6e6e" stroke-width="1" />
<line x1="37.4" y1="490" x2="37.4" y2="614.8" stroke="#6e6e6e" stroke-width="1" />
<line x1="670.7" y1="490" x2="670.7" y2="614.8" stroke="#6e6e6e" stroke-width="1" />
<line x1="32.9" y1="610.82" x2="37.4" y2="610.82" stroke="#6e6e6e" stroke-width="0.9" />
<text x="29.3" y="614.12" font-size="9.5" text-anchor="end" fill="#1a1a1a" color="#1a1a1a" >1.2</text>
<line x1="32.9" y1="580.74" x2="37.4" y2="580.74" stroke="#6e6e6e" stroke-width="0.9" />
<text x="29.3" y="584.04" font-size="9.5" text-anchor="end" fill="#1a1a1a" color="#1a1a1a" >1.4</text>
<line x1="32.9" y1="550.66" x2="37.4" y2="550.66" stroke="#6e6e6e" stroke-width="0.9" />
<text x="29.3" y="553.96" font-size="9.5" text-anchor="end" fill="#1a1a1a" color="#1a1a1a" >1.6</text>
<line x1="32.9" y1="520.58" x2="37.4" y2="520.58" stroke="#6e6e6e" stroke-width="0.9" />
<text x="29.3" y="523.88" font-size="9.5" text-anchor="end" fill="#1a1a1a" color="#1a1a1a" >1.8</text>
<line x1="32.9" y1="490.5" x2="37.4" y2="490.5" stroke="#6e6e6e" stroke-width="0.9" />
<text x="29.3" y="493.8" font-size="9.5" text-anchor="end" fill="#1a1a1a" color="#1a1a1a" >2.0</text>
<line x1="34.8" y1="595.78" x2="37.4" y2="595.78" stroke="#6e6e6e" stroke-width="0.9" />
<line x1="34.8" y1="565.7" x2="37.4" y2="565.7" stroke="#6e6e6e" stroke-width="0.9" />
<line x1="34.8" y1="535.62" x2="37.4" y2="535.62" stroke="#6e6e6e" stroke-width="0.9" />
<line x1="34.8" y1="505.54" x2="37.4" y2="505.54" stroke="#6e6e6e" stroke-width="0.9" />
<line x1="37.4" y1="614.3" x2="37.4" y2="618.3" stroke="#6e6e6e" stroke-width="0.9" />
<text x="37.4" y="629.4" font-size="9.6" text-anchor="middle" fill="#1a1a1a" color="#1a1a1a" >0</text>
<line x1="100.73" y1="614.3" x2="100.73" y2="618.3" stroke="#6e6e6e" stroke-width="0.9" />
<text x="100.73" y="629.4" font-size="9.6" text-anchor="middle" fill="#1a1a1a" color="#1a1a1a" >200</text>
<line x1="164.06" y1="614.3" x2="164.06" y2="618.3" stroke="#6e6e6e" stroke-width="0.9" />
<text x="164.06" y="629.4" font-size="9.6" text-anchor="middle" fill="#1a1a1a" color="#1a1a1a" >400</text>
<line x1="227.39" y1="614.3" x2="227.39" y2="618.3" stroke="#6e6e6e" stroke-width="0.9" />
<text x="227.39" y="629.4" font-size="9.6" text-anchor="middle" fill="#1a1a1a" color="#1a1a1a" >600</text>
<line x1="290.72" y1="614.3" x2="290.72" y2="618.3" stroke="#6e6e6e" stroke-width="0.9" />
<text x="290.72" y="629.4" font-size="9.6" text-anchor="middle" fill="#1a1a1a" color="#1a1a1a" >800</text>
<line x1="354.05" y1="614.3" x2="354.05" y2="618.3" stroke="#6e6e6e" stroke-width="0.9" />
<text x="354.05" y="629.4" font-size="9.6" text-anchor="middle" fill="#1a1a1a" color="#1a1a1a" >1000</text>
<line x1="417.38" y1="614.3" x2="417.38" y2="618.3" stroke="#6e6e6e" stroke-width="0.9" />
<text x="417.38" y="629.4" font-size="9.6" text-anchor="middle" fill="#1a1a1a" color="#1a1a1a" >1200</text>
<line x1="480.71" y1="614.3" x2="480.71" y2="618.3" stroke="#6e6e6e" stroke-width="0.9" />
<text x="480.71" y="629.4" font-size="9.6" text-anchor="middle" fill="#1a1a1a" color="#1a1a1a" >1400</text>
<line x1="544.04" y1="614.3" x2="544.04" y2="618.3" stroke="#6e6e6e" stroke-width="0.9" />
<text x="544.04" y="629.4" font-size="9.6" text-anchor="middle" fill="#1a1a1a" color="#1a1a1a" >1600</text>
<line x1="607.37" y1="614.3" x2="607.37" y2="618.3" stroke="#6e6e6e" stroke-width="0.9" />
<text x="607.37" y="629.4" font-size="9.6" text-anchor="middle" fill="#1a1a1a" color="#1a1a1a" >1800</text>
<line x1="670.7" y1="614.3" x2="670.7" y2="618.3" stroke="#6e6e6e" stroke-width="0.9" />
<text x="670.7" y="629.4" font-size="9.6" text-anchor="middle" fill="#1a1a1a" color="#1a1a1a" >2000</text>
<line x1="69.06" y1="614.3" x2="69.06" y2="616.5" stroke="#6e6e6e" stroke-width="0.9" />
<line x1="132.4" y1="614.3" x2="132.4" y2="616.5" stroke="#6e6e6e" stroke-width="0.9" />
<line x1="195.73" y1="614.3" x2="195.73" y2="616.5" stroke="#6e6e6e" stroke-width="0.9" />
<line x1="259.06" y1="614.3" x2="259.06" y2="616.5" stroke="#6e6e6e" stroke-width="0.9" />
<line x1="322.38" y1="614.3" x2="322.38" y2="616.5" stroke="#6e6e6e" stroke-width="0.9" />
<line x1="385.72" y1="614.3" x2="385.72" y2="616.5" stroke="#6e6e6e" stroke-width="0.9" />
<line x1="449.05" y1="614.3" x2="449.05" y2="616.5" stroke="#6e6e6e" stroke-width="0.9" />
<line x1="512.38" y1="614.3" x2="512.38" y2="616.5" stroke="#6e6e6e" stroke-width="0.9" />
<line x1="575.71" y1="614.3" x2="575.71" y2="616.5" stroke="#6e6e6e" stroke-width="0.9" />
<line x1="639.03" y1="614.3" x2="639.03" y2="616.5" stroke="#6e6e6e" stroke-width="0.9" />
<polyline points="37.5,573.21 38.08,577.6 38.65,578.52 39.23,578.75 39.8,578.47 40.38,578.5 40.96,578.39 41.53,578.28 42.11,578.28 42.68,578.27 43.26,578.99 43.84,578.98 44.41,579.51 44.99,579.32 45.56,579.2 46.14,578.93 46.72,579.06 47.29,578.59 47.87,578.78 48.44,578.44 49.02,578.59 49.6,578.49 50.17,579.28 50.75,579.11 51.32,579.22 51.9,579.47 52.48,579.17 53.05,579.28 53.63,578.8 54.2,578.86 54.78,578.48 55.36,578.29 55.93,578.52 56.51,578.53 57.08,579.03 57.66,579.15 58.24,579.39 58.81,579.4 59.39,579.31 59.96,579.24 60.54,579.21 61.12,578.83 61.69,578.59 62.27,578.48 62.84,578.62 63.42,578.66 63.99,579.25 64.57,579 65.15,579.19 65.72,579.4 66.3,579.53 66.87,579.29 67.45,579 68.03,578.83 68.6,578.73 69.18,578.83 69.75,578.55 70.33,578.79 70.91,578.9 71.48,579.25 72.06,579.44 72.63,579.26 73.21,579.85 73.79,579.42 74.36,579.14 74.94,578.88 75.51,578.8 76.09,578.73 76.67,578.81 77.24,578.81 77.82,579.05 78.39,578.94 78.97,579.25 79.55,579.33 80.12,579.52 80.7,579.47 81.27,579.02 81.85,579 82.43,578.94 83,578.85 83.58,578.51 84.15,578.83 84.73,578.95 85.31,579.03 85.88,579.58 86.46,579.24 87.03,579.39 87.61,579.42 88.19,579.23 88.76,578.96 89.34,578.99 89.91,578.85 90.49,578.72 91.07,578.79 91.64,578.77 92.22,578.79 92.79,579.48 93.37,579.14 93.95,579.66 94.52,579.24 95.1,579.14 95.67,578.87 96.25,578.83 96.83,578.45 97.4,578.73 97.98,578.57 98.55,578.64 99.13,578.71 99.71,579.03 100.28,579.13 100.86,579.46 101.43,579.27 102.01,578.74 102.59,579 103.16,578.19 103.74,578.6 104.31,578 104.89,578.29 105.47,578.52 106.04,578.57 106.62,578.59 107.19,579.08 107.77,578.69 108.35,578.69 108.92,578.98 109.5,578.43 110.07,578.37 110.65,578.27 111.23,578.02 111.8,578.07 112.38,578.14 112.95,578.32 113.53,578.65 114.11,578.76 114.68,578.75 115.26,578.81 115.83,578.47 116.41,578.23 116.98,577.97 117.56,578.03 118.14,578.03 118.71,577.77 119.29,577.53 119.86,577.9 120.44,578.22 121.02,578.35 121.59,578.4 122.17,578.52 122.74,578.4 123.32,577.87 123.9,577.93 124.47,577.57 125.05,577.61 125.62,577.77 126.2,577.99 126.78,578.11 127.35,578.42 127.93,579.5 128.5,580.05 129.08,579.95 129.66,580.07 130.23,580.04 130.81,579.9 131.38,579.54 131.96,579.53 132.54,579.66 133.11,579.61 133.69,579.52 134.26,580.12 134.84,580.56 135.42,581.01 135.99,581.4 136.57,581.26 137.14,581.62 137.72,581.37 138.3,581.1 138.87,581.13 139.45,581.12 140.02,581.07 140.6,580.99 141.18,581.19 141.75,582.14 142.33,581.84 142.9,582.04 143.48,582.14 144.06,581.87 144.63,581.92 145.21,581.41 145.78,581.5 146.36,581.04 146.94,581.51 147.51,581.65 148.09,581.8 148.66,582 149.24,582.16 149.82,582.33 150.39,582.31 150.97,581.91 151.54,582.02 152.12,581.52 152.7,581.53 153.27,581.39 153.85,581.53 154.42,581.53 155,581.83 155.58,581.9 156.15,582 156.73,582.39 157.3,582.3 157.88,582.18 158.46,582.07 159.03,581.56 159.61,581.69 160.18,581.3 160.76,581.52 161.34,581.54 161.91,581.79 162.49,582.06 163.06,582.14 163.64,582.1 164.22,582.38 164.79,582.31 165.37,582.07 165.94,581.91 166.52,581.31 167.1,581.48 167.67,581.44 168.25,581.26 168.82,581.74 169.4,581.93 169.97,581.88 170.55,582.1 171.13,582.25 171.7,582.25 172.28,582.09 172.85,581.62 173.43,581.43 174.01,581.4 174.58,581.44 175.16,581.44 175.73,581.66 176.31,581.99 176.89,582.18 177.46,582.22 178.04,582.06 178.61,582.09 179.19,582.09 179.77,581.93 180.34,581.77 180.92,581.31 181.49,581.36 182.07,581.31 182.65,581.2 183.22,581.67 183.8,581.77 184.37,582.38 184.95,582.29 185.53,582.07 186.1,582.02 186.68,581.88 187.25,581.88 187.83,581.58 188.41,581.64 188.98,581.52 189.56,581.78 190.13,582 190.71,582.12 191.29,582.13 191.86,582.35 192.44,582.09 193.01,582.23 193.59,581.77 194.17,581.51 194.74,581.73 195.32,581.31 195.89,581.42 196.47,581.36 197.05,581.6 197.62,581.85 198.2,581.91 198.77,582.32 199.35,582 199.93,581.79 200.5,581.96 201.08,581.69 201.65,581.06 202.23,581.23 202.81,581.47 203.38,581.32 203.96,581.57 204.53,581.77 205.11,581.63 205.69,581.93 206.26,582.16 206.84,582.15 207.41,581.73 207.99,581.52 208.57,581.43 209.14,581.27 209.72,581.31 210.29,581.2 210.87,581.5 211.45,581.77 212.02,581.96 212.6,581.74 213.17,582.09 213.75,581.89 214.33,581.72 214.9,581.22 215.48,581.3 216.05,580.93 216.63,580.77 217.21,581.24 217.78,581.38 218.36,581.59 218.93,581.79 219.51,581.88 220.09,582.06 220.66,581.94 221.24,581.89 221.81,581.82 222.39,581.36 222.96,581.23 223.54,581.36 224.12,581.01 224.69,581.25 225.27,581.53 225.84,581.45 226.42,581.95 227,582.08 227.57,581.59 228.15,581.5 228.72,581.55 229.3,581.42 229.88,580.82 230.45,581.1 231.03,581.04 231.6,580.93 232.18,581.34 232.76,581.51 233.33,581.75 233.91,581.8 234.48,581.7 235.06,581.57 235.64,581.37 236.21,581.26 236.79,581.18 237.36,581.11 237.94,580.86 238.52,581.01 239.09,581.21 239.67,581.72 240.24,581.73 240.82,581.61 241.4,581.52 241.97,581.41 242.55,581.36 243.12,580.99 243.7,580.98 244.28,581.1 244.85,580.88 245.43,581.16 246,580.98 246.58,581.46 247.16,581.6 247.73,581.5 248.31,581.82 248.88,581.48 249.46,581.19 250.04,581.03 250.61,581.03 251.19,580.57 251.76,580.79 252.34,580.72 252.92,581.05 253.49,581.12 254.07,581.34 254.64,581.53 255.22,581.38 255.8,581.31 256.37,581.08 256.95,580.74 257.52,580.44 258.1,580.21 258.68,580.17 259.25,580.19 259.83,580.25 260.4,580.2 260.98,579.74 261.56,579.88 262.13,579.87 262.71,580.01 263.28,580.12 263.86,579.85 264.44,580.1 265.01,579.77 265.59,579.97 266.16,580 266.74,580.22 267.32,580.74 267.89,580.59 268.47,580.7 269.04,580.8 269.62,580.84 270.2,580.23 270.77,580.49 271.35,579.9 271.92,579.7 272.5,579.79 273.08,579.89 273.65,580.31 274.23,580.19 274.8,580.12 275.38,580.27 275.95,580.16 276.53,580.3 277.11,580.13 277.68,579.71 278.26,579.68 278.83,579.07 279.41,579.14 279.99,579.08 280.56,579.22 281.14,579.21 281.71,579.75 282.29,579.57 282.87,579.71 283.44,579.82 284.02,579.7 284.59,579.4 285.17,578.64 285.75,578.72 286.32,578.6 286.9,578.54 287.47,578.61 288.05,578.79 288.63,579.13 289.2,579.1 289.78,579.01 290.35,578.91 290.93,579.02 291.51,578.53 292.08,578.67 292.66,578.3 293.23,578.21 293.81,578.34 294.39,578.37 294.96,578.72 295.54,578.63 296.11,578.72 296.69,579.37 297.27,579.08 297.84,578.55 298.42,579 298.99,578.31 299.57,578.64 300.15,578.48 300.72,578.32 301.3,578.26 301.87,578.28 302.45,578.74 303.03,578.69 303.6,578.99 304.18,578.77 304.75,578.45 305.33,578.38 305.91,578.26 306.48,577.97 307.06,577.92 307.63,577.71 308.21,578.15 308.79,577.97 309.36,578.3 309.94,578.13 310.51,578.6 311.09,578.7 311.67,578.45 312.24,578.13 312.82,577.8 313.39,577.81 313.97,577.65 314.55,577.31 315.12,577.55 315.7,577.76 316.27,577.74 316.85,578.11 317.43,578.09 318,578.36 318.58,577.86 319.15,577.96 319.73,577.67 320.31,577.16 320.88,577.14 321.46,577.08 322.03,577.38 322.61,577.32 323.19,577.55 323.76,577.75 324.34,578.24 324.91,577.86 325.49,578.12 326.07,577.65 326.64,577.23 327.22,577.13 327.79,576.91 328.37,576.97 328.94,576.84 329.52,577.05 330.1,577.66 330.67,577.61 331.25,577.78 331.82,578.07 332.4,577.52 332.98,577.73 333.55,577.39 334.13,577.26 334.7,577 335.28,577.05 335.86,577.26 336.43,577.39 337.01,577.44 337.58,577.75 338.16,577.63 338.74,577.47 339.31,578.06 339.89,578.11 340.46,577.71 341.04,577.37 341.62,577.32 342.19,577.42 342.77,577.09 343.34,577.41 343.92,577.69 344.5,577.67 345.07,578.34 345.65,578.27 346.22,578.42 346.8,577.92 347.38,577.97 347.95,577.98 348.53,577.66 349.1,577.7 349.68,577.24 350.26,577.62 350.83,577.53 351.41,577.98 351.98,578.3 352.56,578.37 353.14,578.24 353.71,578.4 354.29,578.31 354.86,578.01 355.44,577.97 356.02,577.91 356.59,577.92 357.17,577.78 357.74,578.08 358.32,578.12 358.9,578.4 359.47,578.72 360.05,578.58 360.62,578.47 361.2,578.3 361.78,578.27 362.35,578.25 362.93,578.02 363.5,577.82 364.08,578.04 364.66,578.23 365.23,578.51 365.81,578.39 366.38,578.74 366.96,578.64 367.54,578.56 368.11,578.69 368.69,578.4 369.26,578.13 369.84,578.19 370.42,577.96 370.99,577.86 371.57,578.27 372.14,578.2 372.72,578.41 373.3,578.64 373.87,578.75 374.45,578.87 375.02,578.55 375.6,578.14 376.18,578.14 376.75,578.12 377.33,577.99 377.9,578.02 378.48,577.99 379.06,578.31 379.63,578.67 380.21,578.83 380.78,578.7 381.36,578.7 381.93,578.54 382.51,578.64 383.09,578.19 383.66,578.1 384.24,577.94 384.81,577.95 385.39,578.18 385.97,578.52 386.54,578.51 387.12,578.95 387.69,578.86 388.27,578.97 388.85,579.13 389.42,578.92 390,578.42 390.57,578.21 391.15,578.08 391.73,578.21 392.3,577.93 392.88,578.28 393.45,578.58 394.03,578.66 394.61,578.74 395.18,579.09 395.76,578.58 396.33,578.56 396.91,578.34 397.49,578.17 398.06,577.97 398.64,578.22 399.21,578.18 399.79,578.62 400.37,578.36 400.94,578.77 401.52,578.67 402.09,578.92 402.67,578.98 403.25,578.46 403.82,578.58 404.4,578.11 404.97,577.93 405.55,578.11 406.13,578.24 406.7,578.3 407.28,578.52 407.85,578.66 408.43,578.71 409.01,578.49 409.58,578.68 410.16,578.46 410.73,578.43 411.31,578.01 411.89,578.28 412.46,578 413.04,577.88 413.61,578.16 414.19,578.19 414.77,578.58 415.34,578.27 415.92,577.65 416.49,577.37 417.07,578.1 417.65,577.65 418.22,571.95 418.8,576.06 419.37,576.03 419.95,575.87 420.53,576.04 421.1,576.43 421.68,576.43 422.25,576.93 422.83,576.99 423.41,576.64 423.98,576.64 424.56,576.47 425.13,576.29 425.71,575.94 426.29,576.05 426.86,575.89 427.44,576.07 428.01,576.46 428.59,576.47 429.17,576.5 429.74,576.65 430.32,576.77 430.89,576.49 431.47,576.28 432.05,576.24 432.62,575.91 433.2,576.28 433.77,575.87 434.35,576.19 434.92,576.05 435.5,576.43 436.08,576.78 436.65,576.84 437.23,576.86 437.8,576.58 438.38,576.52 438.96,576.27 439.53,575.91 440.11,576.19 440.68,575.92 441.26,576.08 441.84,576.42 442.41,576.6 442.99,577.08 443.56,576.8 444.14,577.05 444.72,576.73 445.29,576.59 445.87,576.55 446.44,576.31 447.02,576.02 447.6,576.06 448.17,576.19 448.75,576.58 449.32,576.42 449.9,576.76 450.48,576.95 451.05,576.92 451.63,576.75 452.2,576.8 452.78,576.34 453.36,576.58 453.93,575.77 454.51,575.84 455.08,576.22 455.66,576.45 456.24,576.63 456.81,576.67 457.39,576.88 457.96,576.96 458.54,576.77 459.12,576.7 459.69,576.42 460.27,576.54 460.84,576.29 461.42,576.11 462,576.17 462.57,576.31 463.15,576.53 463.72,576.82 464.3,576.87 464.88,576.92 465.45,577.01 466.03,576.79 466.6,576.63 467.18,576.44 467.76,576.24 468.33,576.03 468.91,576.2 469.48,576.55 470.06,576.43 470.64,576.64 471.21,576.86 471.79,576.94 472.36,577.18 472.94,576.8 473.52,576.83 474.09,576.57 474.67,576.4 475.24,576.3 475.82,576.27 476.4,576.41 476.97,576.7 477.55,576.41 478.12,576.94 478.7,577.16 479.28,576.87 479.85,576.85 480.43,576.81 481,576.21 481.58,576.34 482.16,576.03 482.73,576.23 483.31,576.35 483.88,576.51 484.46,576.52 485.04,576.85 485.61,576.86 486.19,577.01 486.76,576.81 487.34,576.56 487.91,576.62 488.49,576.11 489.07,576.11 489.64,576.33 490.22,576.31 490.79,576.55 491.37,576.47 491.95,576.83 492.52,576.79 493.1,576.67 493.67,576.94 494.25,576.53 494.83,576.5 495.4,576.15 495.98,576.24 496.55,576.21 497.13,576.05 497.71,576.2 498.28,576.15 498.86,576.67 499.43,576.83 500.01,576.79 500.59,576.94 501.16,576.66 501.74,576.47 502.31,576.18 502.89,575.9 503.47,576.09 504.04,576.26 504.62,576.46 505.19,576.5 505.77,576.47 506.35,576.75 506.92,576.88 507.5,576.63 508.07,576.59 508.65,576.35 509.23,576.12 509.8,575.93 510.38,576.07 510.95,576.14 511.53,576.37 512.11,576.33 512.68,576.58 513.26,576.46 513.83,576.82 514.41,576.94 514.99,576.48 515.56,576.48 516.14,576.12 516.71,576.1 517.29,576.05 517.87,575.74 518.44,575.94 519.02,576.14 519.59,576.42 520.17,576.8 520.75,576.69 521.32,576.67 521.9,576.55 522.47,576.23 523.05,576.28 523.63,576.01 524.2,575.95 524.78,575.86 525.35,575.71 525.93,576.17 526.51,576.18 527.08,576.3 527.66,576.93 528.23,576.64 528.81,576.32 529.39,576.32 529.96,576.14 530.54,575.81 531.11,575.59 531.69,575.78 532.27,575.82 532.84,575.97 533.42,575.8 533.99,576.28 534.57,576.61 535.15,576.13 535.72,576.13 536.3,575.88 536.87,575.7 537.45,575.55 538.03,575.74 538.6,575.34 539.18,575.69 539.75,575.45 540.33,575.87 540.9,575.94 541.48,575.99 542.06,576.11 542.63,576.17 543.21,575.85 543.78,575.67 544.36,575.37 544.94,575.28 545.51,575.21 546.09,575.32 546.66,575.31 547.24,575.43 547.82,575.62 548.39,575.74 548.97,575.92 549.54,575.65 550.12,575.71 550.7,575.43 551.27,575.37 551.85,575.05 552.42,575.11 553,575.05 553.58,575.14 554.15,575.25 554.73,575.56 555.3,575.64 555.88,575.58 556.46,575.54 557.03,575.18 557.61,575.44 558.18,575.23 558.76,574.82 559.34,574.62 559.91,574.94 560.49,575.13 561.06,575.14 561.64,575.24 562.22,575.69 562.79,575.7 563.37,575.69 563.94,575.69 564.52,575.2 565.1,575.02 565.67,575.13 566.25,574.86 566.82,575.12 567.4,574.47 567.98,574.81 568.55,575.32 569.13,575.47 569.7,575.31 570.28,575.33 570.86,575.22 571.43,575.26 572.01,574.74 572.58,574.75 573.16,574.55 573.74,574.21 574.31,574.81 574.89,575.22 575.46,575.11 576.04,575.43 576.62,575.42 577.19,575.38 577.77,575.06 578.34,575.11 578.92,574.63 579.5,574.65 580.07,574.65 580.65,574.64 581.22,574.58 581.8,574.84 582.38,574.91 582.95,575.36 583.53,575.19 584.1,575.8 584.68,575.43 585.26,575.13 585.83,575.21 586.41,574.61 586.98,574.81 587.56,574.49 588.14,574.67 588.71,574.74 589.29,574.91 589.86,575.13 590.44,575.37 591.02,575.33 591.59,575.59 592.17,575.17 592.74,574.56 593.32,574.65 593.89,574.58 594.47,574.62 595.05,574.73 595.62,574.59 596.2,575.01 596.77,575.05 597.35,575.34 597.93,575.33 598.5,575.51 599.08,575.34 599.65,575.22 600.23,574.68 600.81,574.57 601.38,574.6 601.96,574.55 602.53,574.68 603.11,575.05 603.69,575.51 604.26,575.39 604.84,575.65 605.41,575.17 605.99,575.56 606.57,575.41 607.14,574.91 607.72,574.65 608.29,574.75 608.87,574.45 609.45,574.87 610.02,574.76 610.6,575.48 611.17,575.42 611.75,575.41 612.33,575.2 612.9,575.64 613.48,575.28 614.05,575 614.63,575.12 615.21,574.68 615.78,575.1 616.36,575.28 616.93,575.27 617.51,575.75 618.09,576.05 618.66,575.84 619.24,575.91 619.81,576.11 620.39,576 620.97,575.63 621.54,575.18 622.12,575.38 622.69,575.86 623.27,575.76 623.85,575.92 624.42,576.38 625,576.28 625.57,577.04 626.15,576.46 626.73,576.66 627.3,576.6 627.88,576.46 628.45,576.03 629.03,576.04 629.61,576.25 630.18,576.21 630.76,576.46 631.33,576.59 631.91,576.8 632.49,576.77 633.06,576.76 633.64,576.82 634.21,576.54 634.79,576.73 635.37,576.43 635.94,576.38 636.52,575.93 637.09,576.03 637.67,576.48 638.25,576.6 638.82,576.81 639.4,577.06 639.97,576.8 640.55,576.7 641.13,576.61 641.7,576.86 642.28,576.33 642.85,576.08 643.43,576.36 644.01,576.32 644.58,576.46 645.16,576.61 645.73,576.68 646.31,577.13 646.88,577.04 647.46,576.69 648.04,576.56 648.61,576.43 649.19,576.46 649.76,576.07 650.34,576.05 650.92,576.06 651.49,576.26 652.07,576.62 652.64,576.57 653.22,576.79 653.8,577.12 654.37,576.6 654.95,576.75 655.52,576.53 656.1,576.29 656.68,576.28 657.25,576.36 657.83,576.05 658.4,576.16 658.98,576.44 659.56,576.36 660.13,576.65 660.71,576.83 661.28,576.8 661.86,576.54 662.44,576.63 663.01,576.08 663.59,575.97 664.16,575.82 664.74,576.03 665.32,576.19 665.89,576.22 666.47,576.61 667.04,576.55 667.62,576.72 668.2,576.74 668.77,576.6 669.35,576.45 669.92,576.07 670.5,575.72" fill="none" stroke="#2a9a8e" stroke-width="1.5" stroke-linejoin="round" />
<text x="5" y="0" font-size="1" fill="#1a1a1a" color="#1a1a1a" style="stroke-width:0.1px" ></text>
<text transform="translate(9.3 558.2) rotate(-90)" font-size="10.1" text-anchor="middle" fill="#1a1a1a">Potential (V vs. RHE)</text>
<text x="369.5" y="643.2" font-size="10.1" text-anchor="middle" fill="#1a1a1a" color="#1a1a1a" >Time (h)</text>
<text x="658.3" y="608.5" font-size="9.6" text-anchor="end" fill="#1a1a1a">1.0 M KOH</text>
<text x="0.8" y="491.8" font-size="12.5" font-weight="bold" fill="#000" color="#000" >e</text>
<line x1="100.3" y1="497.2" x2="100.3" y2="554.2" stroke="#8c8c8c" stroke-width="0.8" />
<line x1="100.3" y1="554.2" x2="189.6" y2="554.2" stroke="#8c8c8c" stroke-width="0.8" />
<line x1="98.7" y1="516" x2="100.3" y2="516" stroke="#8c8c8c" stroke-width="0.7" />
<text x="97.8" y="518.5" font-size="7.2" text-anchor="end" fill="#2a2a2a" color="#2a2a2a" style="stroke-width:0.1px" >1.410</text>
<line x1="98.7" y1="540.1" x2="100.3" y2="540.1" stroke="#8c8c8c" stroke-width="0.7" />
<text x="97.8" y="542.6" font-size="7.2" text-anchor="end" fill="#2a2a2a" color="#2a2a2a" style="stroke-width:0.1px" >1.405</text>
<line x1="118.1" y1="554.2" x2="118.1" y2="555.8" stroke="#8c8c8c" stroke-width="0.7" />
<text x="118.1" y="562.4" font-size="7.2" text-anchor="middle" fill="#2a2a2a" color="#2a2a2a" style="stroke-width:0.1px" >40</text>
<line x1="153.8" y1="554.2" x2="153.8" y2="555.8" stroke="#8c8c8c" stroke-width="0.7" />
<text x="153.8" y="562.4" font-size="7.2" text-anchor="middle" fill="#2a2a2a" color="#2a2a2a" style="stroke-width:0.1px" >80</text>
<line x1="189.2" y1="554.2" x2="189.2" y2="555.8" stroke="#8c8c8c" stroke-width="0.7" />
<text x="189.2" y="562.4" font-size="7.2" text-anchor="middle" fill="#2a2a2a" color="#2a2a2a" style="stroke-width:0.1px" >120</text>
<polyline points="100.3,523.86 100.44,523.93 100.59,523.63 100.73,524.28 100.87,523.6 101.02,523.68 101.16,524.04 101.3,523.81 101.45,523.24 101.59,522.2 101.73,521.69 101.88,521.39 102.02,521.53 102.16,521.52 102.31,520.48 102.45,520.08 102.6,521.03 102.74,518.93 102.88,520.07 103.03,520.31 103.17,518.83 103.31,518.43 103.46,518.44 103.6,519.34 103.74,518.36 103.89,516.57 104.03,517.46 104.17,518.34 104.32,517.97 104.46,517.31 104.6,516.21 104.75,514.48 104.89,515.83 105.03,515.17 105.18,515.02 105.32,515.9 105.46,514.38 105.61,514.09 105.75,514.01 105.89,512.92 106.04,512.23 106.18,511.82 106.33,512.75 106.47,512.2 106.61,511.02 106.76,512.09 106.9,510.96 107.04,509.35 107.19,510.7 107.33,509.78 107.47,508.49 107.62,509.78 107.76,508.77 107.9,508.48 108.05,509.07 108.19,506.46 108.33,507 108.48,507.52 108.62,507.88 108.76,506.89 108.91,506.42 109.05,506.19 109.19,506.81 109.34,507.3 109.48,505.33 109.62,504.64 109.77,506 109.91,505.77 110.06,505.17 110.2,506.32 110.34,506.34 110.49,505.04 110.63,505.08 110.77,505.72 110.92,504.75 111.06,503.79 111.2,504.8 111.35,503.96 111.49,504.88 111.63,504.06 111.78,504.21 111.92,504.69 112.06,504.03 112.21,503.48 112.35,503.05 112.49,505.26 112.64,504.63 112.78,502.3 112.92,502.58 113.07,503.87 113.21,502.77 113.35,503.18 113.5,503.76 113.64,503.07 113.78,502.76 113.93,502.37 114.07,502.61 114.22,502.92 114.36,503.97 114.5,503.31 114.65,502.15 114.79,503.01 114.93,502.24 115.08,500.8 115.22,501.89 115.36,502.74 115.51,501.31 115.65,502.54 115.79,501.41 115.94,501.62 116.08,500.51 116.22,503.22 116.37,501.78 116.51,502.19 116.65,500.89 116.8,499.98 116.94,502.19 117.08,500.5 117.23,502.45 117.37,500.84 117.51,502.34 117.66,500.49 117.8,501.04 117.95,504.22 118.09,504.59 118.23,505.86 118.38,508.22 118.52,508.21 118.66,509.57 118.81,511.4 118.95,512.63 119.09,514.11 119.24,516.03 119.38,517.58 119.52,519.16 119.67,519.54 119.81,521.28 119.95,522.71 120.1,522.47 120.24,523.4 120.38,522.64 120.53,523.9 120.67,524.27 120.81,523.45 120.96,522.82 121.1,524.02 121.24,524.22 121.39,525.44 121.53,523.88 121.68,525.59 121.82,522.14 121.96,523.86 122.11,523.65 122.25,523.69 122.39,523.5 122.54,523.85 122.68,525.22 122.82,523.66 122.97,524.74 123.11,523.63 123.25,523.77 123.4,521.68 123.54,523.76 123.68,524.21 123.83,522.8 123.97,523.31 124.11,523.21 124.26,525.82 124.4,523.35 124.54,523.73 124.69,522.22 124.83,523.37 124.97,525.06 125.12,524.02 125.26,522.98 125.41,525.27 125.55,525.81 125.69,526.17 125.84,526.46 125.98,525.85 126.12,528.91 126.27,526.29 126.41,527.31 126.55,526.04 126.7,526.75 126.84,526.12 126.98,527.7 127.13,527.3 127.27,526.87 127.41,526.1 127.56,528.27 127.7,528.52 127.84,528.54 127.99,527.72 128.13,528.33 128.27,528.43 128.42,527.98 128.56,528.63 128.7,527.13 128.85,527.25 128.99,525.62 129.13,528.42 129.28,525.8 129.42,526.46 129.57,526.44 129.71,524.95 129.85,525.32 130,525.63 130.14,524.67 130.28,524.19 130.43,523.86 130.57,523.21 130.71,523.35 130.86,523.48 131,523.23 131.14,523.45 131.29,522.27 131.43,521.48 131.57,522.31 131.72,521.61 131.86,521.87 132,520.89 132.15,520.92 132.29,520.54 132.43,520.57 132.58,518.9 132.72,519.41 132.86,519.43 133.01,520.53 133.15,518.86 133.3,519.13 133.44,518.43 133.58,516.72 133.73,519.37 133.87,518.76 134.01,519.13 134.16,516.82 134.3,518.09 134.44,517.9 134.59,516.34 134.73,517.95 134.87,516.96 135.02,517.8 135.16,515.91 135.3,516.48 135.45,516.55 135.59,515.8 135.73,517.06 135.88,518.05 136.02,516.87 136.16,517.36 136.31,518.01 136.45,517.19 136.59,516.36 136.74,515.01 136.88,516.88 137.03,516.27 137.17,516.12 137.31,517.09 137.46,516.92 137.6,515.11 137.74,516.61 137.89,516.12 138.03,517.1 138.17,516.34 138.32,517.14 138.46,515.8 138.6,516.03 138.75,515.91 138.89,516.24 139.03,516.2 139.18,517.44 139.32,515.65 139.46,516.59 139.61,515.6 139.75,515.43 139.89,516.22 140.04,515.55 140.18,517.08 140.32,516.46 140.47,516.82 140.61,517.89 140.75,519.12 140.9,517.75 141.04,516.99 141.19,518.8 141.33,519.64 141.47,521.11 141.62,520.62 141.76,520.4 141.9,522.4 142.05,523.02 142.19,522.45 142.33,523.37 142.48,524.01 142.62,526.47 142.76,524.4 142.91,525.19 143.05,526.09 143.19,527.43 143.34,527.22 143.48,528.56 143.62,529.54 143.77,531.1 143.91,529.95 144.05,530.47 144.2,531.09 144.34,530.43 144.48,531.62 144.63,533.34 144.77,533.92 144.92,536.55 145.06,535.97 145.2,536.1 145.35,537.21 145.49,535.91 145.63,536.42 145.78,536.72 145.92,537.59 146.06,539.89 146.21,538.21 146.35,538.13 146.49,538.94 146.64,539.81 146.78,539.61 146.92,540.03 147.07,538.33 147.21,538.62 147.35,539.12 147.5,539.3 147.64,540.27 147.78,537.87 147.93,539.29 148.07,538.32 148.21,538.77 148.36,537.42 148.5,536.48 148.65,538.33 148.79,537.23 148.93,534.99 149.08,536.86 149.22,535.06 149.36,535.45 149.51,535.17 149.65,533.68 149.79,535.41 149.94,533.69 150.08,535.17 150.22,533.89 150.37,533.61 150.51,533.1 150.65,534.27 150.8,531.49 150.94,531.43 151.08,531.29 151.23,532.58 151.37,532.26 151.51,531.2 151.66,531.11 151.8,529.24 151.94,531.64 152.09,529.95 152.23,529.99 152.37,529.38 152.52,529.93 152.66,528.94 152.81,528.97 152.95,528.69 153.09,527.93 153.24,527.59 153.38,528.19 153.52,527.93 153.67,527.97 153.81,528.32 153.95,525.8 154.1,525.03 154.24,526 154.38,527.17 154.53,525.81 154.67,524.05 154.81,526.7 154.96,525.53 155.1,523.6 155.24,523.92 155.39,524.47 155.53,523.67 155.67,523.8 155.82,524.12 155.96,523.46 156.1,524.4 156.25,522.84 156.39,524.05 156.54,522.07 156.68,521.36 156.82,520.36 156.97,521.2 157.11,521.81 157.25,522.34 157.4,518.42 157.54,521.12 157.68,520.15 157.83,521.39 157.97,520.18 158.11,520.7 158.26,521.8 158.4,520.19 158.54,519.78 158.69,520.59 158.83,519.84 158.97,519.25 159.12,517.89 159.26,518.78 159.4,517.51 159.55,518.92 159.69,519.08 159.83,518.49 159.98,519.84 160.12,517.16 160.27,518.33 160.41,517.87 160.55,516.69 160.7,517.98 160.84,518.13 160.98,518.25 161.13,517.04 161.27,517.61 161.41,516.4 161.56,518.11 161.7,518.28 161.84,516.82 161.99,516.79 162.13,515.63 162.27,516.5 162.42,516.11 162.56,516.57 162.7,515.16 162.85,517.83 162.99,516.48 163.13,517.24 163.28,516.76 163.42,516.12 163.56,518.02 163.71,517.41 163.85,515.28 163.99,516.58 164.14,516.54 164.28,516.2 164.43,518.84 164.57,516.19 164.71,518.74 164.86,516.22 165,519.12 165.14,517.82 165.29,516.67 165.43,519.16 165.57,519.71 165.72,518.91 165.86,521 166,519.08 166.15,521.88 166.29,521.86 166.43,523.32 166.58,521.9 166.72,523.42 166.86,522.63 167.01,524.24 167.15,524.17 167.29,525.06 167.44,523.68 167.58,525.56 167.72,525.83 167.87,527.11 168.01,525.88 168.16,526.33 168.3,527.29 168.44,527.44 168.59,525.12 168.73,527.21 168.87,528.36 169.02,527.51 169.16,526.4 169.3,527.8 169.45,528.2 169.59,527.53 169.73,528.53 169.88,527.63 170.02,528.5 170.16,528.83 170.31,530.35 170.45,529.23 170.59,530.09 170.74,529.28 170.88,528.2 171.02,528.25 171.17,529.95 171.31,527.99 171.45,528.06 171.6,530.21 171.74,528.8 171.89,528.56 172.03,530.98 172.17,528.88 172.32,530.16 172.46,529.64 172.6,529.81 172.75,529.76 172.89,530.58 173.03,531 173.18,528.97 173.32,531.06 173.46,529.59 173.61,529.62 173.75,530.34 173.89,529.29 174.04,528.96 174.18,531 174.32,529.21 174.47,527.88 174.61,526.87 174.75,529.88 174.9,529.44 175.04,530.99 175.18,528.5 175.33,528.4 175.47,529.39 175.62,530.43 175.76,530.43 175.9,529.18 176.05,528.51 176.19,529.08 176.33,530.15 176.48,528.66 176.62,528.21 176.76,528.83 176.91,528.43 177.05,528.15 177.19,529.61 177.34,528.17 177.48,527.44 177.62,526.79 177.77,526.54 177.91,526.89 178.05,526.74 178.2,525.24 178.34,524.97 178.48,524.81 178.63,523.86 178.77,525.18 178.91,523.09 179.06,523.58 179.2,523.88 179.34,521.82 179.49,521.53 179.63,521.75 179.78,521.92 179.92,521.29 180.06,520.84 180.21,521.51 180.35,519.68 180.49,519.3 180.64,520.15 180.78,519.47 180.92,519.94 181.07,519.83 181.21,517.79 181.35,516.75 181.5,518.78 181.64,518.06 181.78,518.13 181.93,516.93 182.07,518.16 182.21,517.09 182.36,517.55 182.5,517.66 182.64,516.79 182.79,516.43 182.93,515.73 183.07,518.4 183.22,514.8 183.36,516.37 183.51,514.33 183.65,514.75 183.79,516.47 183.94,514.51 184.08,515.88 184.22,514.52 184.37,515.45 184.51,513.4 184.65,513.53 184.8,515.61 184.94,514.58 185.08,513.35 185.23,513.75 185.37,511.76 185.51,513.82 185.66,512.96 185.8,513.27 185.94,515.41 186.09,513.74 186.23,513.78 186.37,513.52 186.52,515.19 186.66,515.39 186.8,514.51 186.95,514.27 187.09,515.98 187.24,516.87 187.38,515.74 187.52,519.16 187.67,518.24 187.81,520.05 187.95,520.31 188.1,521.43 188.24,524.05 188.38,524.59 188.53,524.53 188.67,527.46 188.81,529.21 188.96,529.64 189.1,531.78" fill="none" stroke="#86d3cb" stroke-width="1.1" stroke-linejoin="round" />
<text transform="translate(80.1 528.8) rotate(-90)" font-size="7.45" text-anchor="middle" fill="#1a1a1a" style="stroke-width:0.12px">Potential (V vs. RHE)</text>
<text x="154.1" y="571.5" font-size="8.3" text-anchor="middle" fill="#1a1a1a" color="#1a1a1a" >Time (h)</text>
<line x1="298.5" y1="497.5" x2="298.5" y2="554.6" stroke="#8c8c8c" stroke-width="0.8" />
<line x1="298.5" y1="554.6" x2="388" y2="554.6" stroke="#8c8c8c" stroke-width="0.8" />
<line x1="296.9" y1="514.3" x2="298.5" y2="514.3" stroke="#8c8c8c" stroke-width="0.7" />
<text x="296" y="516.8" font-size="7.2" text-anchor="end" fill="#2a2a2a" color="#2a2a2a" style="stroke-width:0.1px" >1.428</text>
<line x1="296.9" y1="538.7" x2="298.5" y2="538.7" stroke="#8c8c8c" stroke-width="0.7" />
<text x="296" y="541.2" font-size="7.2" text-anchor="end" fill="#2a2a2a" color="#2a2a2a" style="stroke-width:0.1px" >1.422</text>
<line x1="298.4" y1="554.6" x2="298.4" y2="556.2" stroke="#8c8c8c" stroke-width="0.7" />
<text x="298.4" y="562.8" font-size="7.2" text-anchor="middle" fill="#2a2a2a" color="#2a2a2a" style="stroke-width:0.1px" >1320</text>
<line x1="331" y1="554.6" x2="331" y2="556.2" stroke="#8c8c8c" stroke-width="0.7" />
<text x="331" y="562.8" font-size="7.2" text-anchor="middle" fill="#2a2a2a" color="#2a2a2a" style="stroke-width:0.1px" >1360</text>
<line x1="363.1" y1="554.6" x2="363.1" y2="556.2" stroke="#8c8c8c" stroke-width="0.7" />
<text x="363.1" y="562.8" font-size="7.2" text-anchor="middle" fill="#2a2a2a" color="#2a2a2a" style="stroke-width:0.1px" >1400</text>
<polyline points="298.5,526.83 298.64,528.29 298.79,528.73 298.93,527.99 299.08,528.72 299.22,529.12 299.36,530.5 299.51,530.59 299.65,531.73 299.79,530.31 299.94,533.36 300.08,532.6 300.23,533.62 300.37,533.45 300.51,533.65 300.66,534.67 300.8,535.27 300.94,534.81 301.09,535.12 301.23,535.98 301.38,535.03 301.52,534.69 301.66,536.26 301.81,535.55 301.95,534.67 302.09,535.56 302.24,535.85 302.38,535.33 302.53,535.11 302.67,536.25 302.81,536.89 302.96,536.02 303.1,535.59 303.24,536.4 303.39,536.6 303.53,535.77 303.68,536.34 303.82,536.64 303.96,535.61 304.11,535.06 304.25,535.83 304.39,535.64 304.54,536.16 304.68,534.25 304.83,534.57 304.97,534.29 305.11,533.47 305.26,534.7 305.4,534.82 305.55,533.69 305.69,535.08 305.83,534.44 305.98,534.08 306.12,533.67 306.26,533.82 306.41,531.85 306.55,533 306.7,532.68 306.84,530.56 306.98,531.73 307.13,530.86 307.27,531.06 307.41,529.57 307.56,529.17 307.7,528.7 307.85,526.93 307.99,527.13 308.13,525.65 308.28,525.09 308.42,523.33 308.56,523.53 308.71,522.2 308.85,520.68 309,520.45 309.14,520.13 309.28,519.83 309.43,516.67 309.57,517.96 309.71,517.15 309.86,516.33 310,515.24 310.15,516.64 310.29,514.45 310.43,515.54 310.58,515.84 310.72,513.42 310.87,514.16 311.01,513.2 311.15,514.16 311.3,514.92 311.44,515.13 311.58,512.1 311.73,512.84 311.87,513.65 312.02,514.17 312.16,513.16 312.3,512.17 312.45,512.83 312.59,512.49 312.73,512.24 312.88,511.76 313.02,512.51 313.17,512.37 313.31,512 313.45,511.85 313.6,510.99 313.74,511.54 313.88,512.78 314.03,511.7 314.17,510.74 314.32,512.82 314.46,512.21 314.6,513.4 314.75,511.89 314.89,511.53 315.03,510.83 315.18,512.98 315.32,513.99 315.47,511.55 315.61,511.81 315.75,512.88 315.9,512.01 316.04,512.64 316.18,512.84 316.33,513.53 316.47,514.52 316.62,514.07 316.76,515.12 316.9,514.54 317.05,515.54 317.19,514.16 317.34,515.16 317.48,517.35 317.62,516.83 317.77,518.24 317.91,518.74 318.05,519.85 318.2,519.99 318.34,520.65 318.49,520.3 318.63,520.34 318.77,520.77 318.92,521.38 319.06,521.33 319.2,522.19 319.35,522.96 319.49,523.67 319.64,523.67 319.78,522.94 319.92,524.8 320.07,525.49 320.21,526.6 320.35,526.7 320.5,526.25 320.64,526.67 320.79,529.19 320.93,528.71 321.07,529.99 321.22,530.67 321.36,528.92 321.5,530.27 321.65,530.76 321.79,531.27 321.94,531.67 322.08,531.82 322.22,532.19 322.37,531.31 322.51,532.67 322.66,532.56 322.8,533.54 322.94,533.36 323.09,534.44 323.23,534.8 323.37,534.62 323.52,534.79 323.66,534.78 323.81,534.48 323.95,534.79 324.09,534.6 324.24,535.3 324.38,535.02 324.52,535.4 324.67,533.91 324.81,535.47 324.96,534.1 325.1,533.97 325.24,534.18 325.39,533.69 325.53,534.1 325.67,533.2 325.82,532.56 325.96,532.44 326.11,533.72 326.25,532.41 326.39,531.03 326.54,531.4 326.68,529.65 326.82,531.52 326.97,528.38 327.11,529.19 327.26,528.55 327.4,526.36 327.54,526.99 327.69,526.87 327.83,525.85 327.97,525.13 328.12,525.1 328.26,524.02 328.41,523.69 328.55,522.94 328.69,523.13 328.84,521.64 328.98,522.63 329.13,521.41 329.27,520.72 329.41,521.57 329.56,522.35 329.7,521.59 329.84,520.27 329.99,520.98 330.13,519.93 330.28,519.98 330.42,519.97 330.56,517.99 330.71,519.69 330.85,518.62 330.99,518.71 331.14,517.97 331.28,517.79 331.43,518.08 331.57,519.27 331.71,519.77 331.86,518.37 332,519.09 332.14,517.96 332.29,516.61 332.43,518.06 332.58,518.19 332.72,517.44 332.86,517.91 333.01,518.05 333.15,516.9 333.29,516.39 333.44,517.3 333.58,517.27 333.73,517.15 333.87,518.16 334.01,518.72 334.16,517.17 334.3,518.07 334.45,518.37 334.59,518.4 334.73,518.93 334.88,518.26 335.02,519.66 335.16,521.3 335.31,521.25 335.45,521.27 335.6,523.45 335.74,525.31 335.88,525.95 336.03,526.31 336.17,528.6 336.31,526.86 336.46,528.21 336.6,527.56 336.75,526.11 336.89,527.07 337.03,525.36 337.18,523.04 337.32,523.16 337.46,521.25 337.61,519.13 337.75,519.2 337.9,519.23 338.04,518.97 338.18,518.33 338.33,518.07 338.47,518.36 338.61,518.01 338.76,519.27 338.9,518.86 339.05,519.36 339.19,520.01 339.33,519.32 339.48,520.11 339.62,522.36 339.76,522.04 339.91,522.19 340.05,523.27 340.2,523.27 340.34,524.48 340.48,524.41 340.63,525.74 340.77,524.98 340.92,527.8 341.06,527.02 341.2,526.82 341.35,528.43 341.49,528.86 341.63,529.81 341.78,529.32 341.92,530.94 342.07,533.77 342.21,530.43 342.35,531.93 342.5,531.57 342.64,532 342.78,530.33 342.93,530.45 343.07,531.08 343.22,529.83 343.36,529.85 343.5,526.55 343.65,525.43 343.79,525.64 343.93,521.17 344.08,519.62 344.22,519.13 344.37,518.33 344.51,518.5 344.65,517.63 344.8,516.8 344.94,517.49 345.08,519.33 345.23,518.44 345.37,515.58 345.52,517.78 345.66,517.51 345.8,518.93 345.95,518.66 346.09,520.57 346.24,520.15 346.38,520.44 346.52,520.23 346.67,520.36 346.81,520.92 346.95,521.91 347.1,521.56 347.24,521.12 347.39,522.51 347.53,521.85 347.67,521.77 347.82,521.31 347.96,521.56 348.1,521.53 348.25,519.92 348.39,522.78 348.54,522.42 348.68,521.8 348.82,522.72 348.97,522.21 349.11,522.1 349.25,519.91 349.4,521.53 349.54,522.03 349.69,522.76 349.83,522.86 349.97,522.46 350.12,520.44 350.26,519.57 350.4,521.56 350.55,521.07 350.69,521.68 350.84,520.77 350.98,520.94 351.12,519.56 351.27,520.93 351.41,520.18 351.55,520.69 351.7,520.69 351.84,520.17 351.99,520.42 352.13,520.1 352.27,520.6 352.42,520.34 352.56,519.5 352.71,519.41 352.85,521.11 352.99,519.68 353.14,520.47 353.28,519.99 353.42,519.26 353.57,519.13 353.71,519.79 353.86,519.91 354,520.21 354.14,518.83 354.29,519.37 354.43,519.79 354.57,521.11 354.72,518.2 354.86,520.36 355.01,519.68 355.15,520.49 355.29,519.87 355.44,520.61 355.58,521.6 355.72,520.79 355.87,520.97 356.01,521.05 356.16,520.35 356.3,521.47 356.44,521.06 356.59,520.79 356.73,521.55 356.87,521.62 357.02,522.57 357.16,522.21 357.31,522.1 357.45,523.86 357.59,523.81 357.74,524.33 357.88,524.17 358.03,524 358.17,524.22 358.31,524.8 358.46,526.34 358.6,526.39 358.74,525.96 358.89,527.9 359.03,527.77 359.18,529.93 359.32,529.89 359.46,530.84 359.61,532.83 359.75,533.59 359.89,533.27 360.04,535.82 360.18,537.56 360.33,535.4 360.47,538.37 360.61,536.89 360.76,537.35 360.9,537.81 361.04,537.04 361.19,539.19 361.33,538.67 361.48,537.73 361.62,538.07 361.76,537.09 361.91,537.87 362.05,538.74 362.19,536.61 362.34,537.42 362.48,537.7 362.63,538.18 362.77,538.21 362.91,536.65 363.06,536.21 363.2,536.88 363.34,536.03 363.49,535.82 363.63,536.62 363.78,536.83 363.92,535.51 364.06,534.91 364.21,535.23 364.35,533.13 364.5,534.28 364.64,533.25 364.78,535.59 364.93,534.1 365.07,533.43 365.21,532.95 365.36,531 365.5,533.2 365.65,533.69 365.79,531.73 365.93,532.6 366.08,532.44 366.22,530.56 366.36,532.23 366.51,532.36 366.65,531.31 366.8,530.88 366.94,531.32 367.08,529.36 367.23,530.36 367.37,530.87 367.51,528.93 367.66,530.38 367.8,529.1 367.95,527.63 368.09,528.89 368.23,528.01 368.38,528.76 368.52,527.42 368.66,528.87 368.81,527.31 368.95,527.92 369.1,526.99 369.24,526.99 369.38,527.92 369.53,526.99 369.67,526.33 369.82,525.5 369.96,527.13 370.1,526.63 370.25,525.66 370.39,525.93 370.53,524.83 370.68,524.69 370.82,524.69 370.97,525.46 371.11,525.31 371.25,524.42 371.4,525.46 371.54,525.44 371.68,524.92 371.83,525.54 371.97,524.56 372.12,524.71 372.26,525.2 372.4,524.93 372.55,525.66 372.69,524.29 372.83,526.51 372.98,525.06 373.12,525.83 373.27,525.23 373.41,527.07 373.55,527.97 373.7,528.23 373.84,528.53 373.98,527.22 374.13,528.34 374.27,529.12 374.42,529.35 374.56,531.47 374.7,531.37 374.85,531.81 374.99,532.79 375.13,532.31 375.28,532.91 375.42,533.49 375.57,535.02 375.71,535.41 375.85,536.01 376,536.8 376.14,535.36 376.29,536.34 376.43,537.26 376.57,536.54 376.72,537.55 376.86,539.11 377,539.58 377.15,539.96 377.29,539.57 377.44,539.77 377.58,541.11 377.72,540.38 377.87,541.26 378.01,542.33 378.15,541.37 378.3,541.47 378.44,542.19 378.59,542.87 378.73,543 378.87,542.93 379.02,543.4 379.16,541.89 379.3,542.56 379.45,543.38 379.59,542.62 379.74,542.32 379.88,542.43 380.02,542.62 380.17,543.14 380.31,542.44 380.45,543.31 380.6,544.3 380.74,542.81 380.89,543.75 381.03,542.88 381.17,541.67 381.32,542.16 381.46,541.44 381.61,542.57 381.75,540.95 381.89,542.61 382.04,541.85 382.18,539.7 382.32,541.6 382.47,541.96 382.61,539.99 382.76,541.11 382.9,538.8 383.04,540.12 383.19,538.45 383.33,539.83 383.47,537.88 383.62,536.99 383.76,539.01 383.91,540.15 384.05,537.72 384.19,538.51 384.34,537.69 384.48,537.08 384.62,537.49 384.77,537.97 384.91,535.51 385.06,536.57 385.2,536.1 385.34,534.47 385.49,536.45 385.63,536.39 385.77,533.91 385.92,535.62 386.06,534.04 386.21,533.57 386.35,534.5 386.49,533.23 386.64,532.99 386.78,533.58 386.92,533.09 387.07,532.48 387.21,530.45 387.36,530.02 387.5,531.74" fill="none" stroke="#86d3cb" stroke-width="1.1" stroke-linejoin="round" />
<text transform="translate(273.2 528.8) rotate(-90)" font-size="7.45" text-anchor="middle" fill="#1a1a1a" style="stroke-width:0.12px">Potential (V vs. RHE)</text>
<text x="347.8" y="571.5" font-size="8.3" text-anchor="middle" fill="#1a1a1a" color="#1a1a1a" >Time (h)</text>
<line x1="522.4" y1="497.5" x2="522.4" y2="554.4" stroke="#8c8c8c" stroke-width="0.8" />
<line x1="522.4" y1="554.4" x2="611.4" y2="554.4" stroke="#8c8c8c" stroke-width="0.8" />
<line x1="520.8" y1="504.8" x2="522.4" y2="504.8" stroke="#8c8c8c" stroke-width="0.7" />
<text x="519.9" y="507.3" font-size="7.2" text-anchor="end" fill="#2a2a2a" color="#2a2a2a" style="stroke-width:0.1px" >1.440</text>
<line x1="520.8" y1="540.4" x2="522.4" y2="540.4" stroke="#8c8c8c" stroke-width="0.7" />
<text x="519.9" y="542.9" font-size="7.2" text-anchor="end" fill="#2a2a2a" color="#2a2a2a" style="stroke-width:0.1px" >1.435</text>
<line x1="522.5" y1="554.4" x2="522.5" y2="556" stroke="#8c8c8c" stroke-width="0.7" />
<text x="522.5" y="562.6" font-size="7.2" text-anchor="middle" fill="#2a2a2a" color="#2a2a2a" style="stroke-width:0.1px" >1720</text>
<line x1="557.7" y1="554.4" x2="557.7" y2="556" stroke="#8c8c8c" stroke-width="0.7" />
<text x="557.7" y="562.6" font-size="7.2" text-anchor="middle" fill="#2a2a2a" color="#2a2a2a" style="stroke-width:0.1px" >1760</text>
<line x1="592.8" y1="554.4" x2="592.8" y2="556" stroke="#8c8c8c" stroke-width="0.7" />
<text x="592.8" y="562.6" font-size="7.2" text-anchor="middle" fill="#2a2a2a" color="#2a2a2a" style="stroke-width:0.1px" >1800</text>
<polyline points="522.4,530.89 522.54,531.58 522.69,531.11 522.83,530.89 522.97,531.42 523.11,528.78 523.26,529.04 523.4,528.21 523.54,528.99 523.69,529.68 523.83,528.56 523.97,528.75 524.11,526.46 524.26,527.95 524.4,526.81 524.54,528.83 524.68,527.83 524.83,527.63 524.97,526.52 525.11,526.84 525.26,526.63 525.4,525.53 525.54,525.16 525.68,525.23 525.83,524.57 525.97,524.35 526.11,524.37 526.26,523.76 526.4,524.8 526.54,522.55 526.68,524.38 526.83,522.92 526.97,522.77 527.11,521.87 527.26,522.68 527.4,522.37 527.54,522.53 527.68,521.69 527.83,522.03 527.97,523.31 528.11,521.91 528.26,520.88 528.4,521.99 528.54,520.87 528.68,521.31 528.83,521.16 528.97,520.15 529.11,518.68 529.25,519.86 529.4,520.46 529.54,519.51 529.68,520.08 529.83,520.41 529.97,519 530.11,520.39 530.25,520.6 530.4,520.01 530.54,520 530.68,519.87 530.83,520.79 530.97,518.97 531.11,518.74 531.25,519.19 531.4,517.88 531.54,517.34 531.68,517.92 531.83,519 531.97,519.09 532.11,517.4 532.25,517.22 532.4,518.67 532.54,518.9 532.68,519.13 532.83,519.86 532.97,520.53 533.11,519.9 533.25,520.45 533.4,519.21 533.54,519.36 533.68,520.83 533.82,521.5 533.97,521.85 534.11,522.04 534.25,522.51 534.4,522.86 534.54,521.05 534.68,522.28 534.82,523.66 534.97,524.15 535.11,522.74 535.25,525.44 535.4,524.48 535.54,525.08 535.68,525.92 535.82,526.75 535.97,525.34 536.11,527.85 536.25,527.52 536.4,527.25 536.54,528.12 536.68,526.95 536.82,528.72 536.97,529.89 537.11,529.59 537.25,530.37 537.4,530.98 537.54,531.6 537.68,532.88 537.82,532.44 537.97,532.68 538.11,533.78 538.25,535.52 538.39,533.89 538.54,535.04 538.68,533.63 538.82,536.49 538.97,536.28 539.11,537.23 539.25,536.36 539.39,535.81 539.54,537.75 539.68,537.93 539.82,536.78 539.97,536.44 540.11,538.25 540.25,537.89 540.39,540.35 540.54,537.66 540.68,537.78 540.82,538.17 540.97,536.79 541.11,537.38 541.25,539.47 541.39,537.78 541.54,537.18 541.68,536.42 541.82,537.69 541.97,537.45 542.11,536.75 542.25,535.79 542.39,535.97 542.54,535.55 542.68,534.15 542.82,534.74 542.96,531.88 543.11,532.05 543.25,532.35 543.39,531.99 543.54,530.59 543.68,531.37 543.82,531.53 543.96,530.59 544.11,529.97 544.25,530.14 544.39,529.44 544.54,527.79 544.68,528.36 544.82,529.39 544.96,527.09 545.11,527.93 545.25,527.38 545.39,526.78 545.54,526.52 545.68,527.32 545.82,527.37 545.96,527.22 546.11,525.61 546.25,526.47 546.39,526.89 546.54,527.29 546.68,526.95 546.82,526.99 546.96,527.11 547.11,526.78 547.25,525.3 547.39,525.95 547.53,525.2 547.68,523.7 547.82,524.21 547.96,527.33 548.11,524.53 548.25,523.49 548.39,524.82 548.53,526.53 548.68,525.12 548.82,525.43 548.96,524.77 549.11,524.85 549.25,525.92 549.39,525.44 549.53,524.61 549.68,525.36 549.82,525.43 549.96,524.25 550.11,524.58 550.25,524.48 550.39,523.6 550.53,525.06 550.68,523.85 550.82,523.37 550.96,522.37 551.11,522.62 551.25,524.89 551.39,522.52 551.53,523.74 551.68,522.95 551.82,523.58 551.96,523.54 552.1,522.24 552.25,522.5 552.39,522.69 552.53,522.56 552.68,522.3 552.82,521.88 552.96,522.51 553.1,522.92 553.25,522.08 553.39,520.82 553.53,521.59 553.68,521.11 553.82,521.25 553.96,522.23 554.1,520.29 554.25,520.25 554.39,519.3 554.53,519.6 554.68,519.16 554.82,520.8 554.96,519.49 555.1,518.54 555.25,520.46 555.39,517.48 555.53,519.14 555.67,519.07 555.82,518.49 555.96,517.58 556.1,517.49 556.25,517.11 556.39,517.88 556.53,515.05 556.67,516.41 556.82,516.79 556.96,515.98 557.1,514.75 557.25,515.93 557.39,515.33 557.53,516.5 557.67,516.85 557.82,515.56 557.96,513.73 558.1,515.08 558.25,514.34 558.39,515.58 558.53,516.31 558.67,515.05 558.82,516.43 558.96,515.91 559.1,515.14 559.25,513.74 559.39,514.6 559.53,513.26 559.67,515.36 559.82,514.57 559.96,515.62 560.1,514.73 560.24,512.89 560.39,515.15 560.53,515.45 560.67,516.13 560.82,514.03 560.96,514.23 561.1,515.23 561.24,514.44 561.39,514.35 561.53,514.85 561.67,518.25 561.82,515.78 561.96,515.72 562.1,516.53 562.24,517.27 562.39,518.73 562.53,518.8 562.67,519.05 562.82,518.85 562.96,519.38 563.1,519.14 563.24,518.84 563.39,522.34 563.53,520.71 563.67,522.45 563.82,521.8 563.96,522.51 564.1,522.97 564.24,522.45 564.39,524.07 564.53,524.99 564.67,525.9 564.81,526.14 564.96,527.11 565.1,527.02 565.24,527.27 565.39,526.11 565.53,527.84 565.67,530.12 565.81,529.37 565.96,530.41 566.1,530.02 566.24,530.08 566.39,532.79 566.53,531.76 566.67,533.12 566.81,532.68 566.96,532.28 567.1,530.93 567.24,533.22 567.39,532.08 567.53,531.71 567.67,534.83 567.81,534.57 567.96,534.64 568.1,534.21 568.24,534.21 568.39,534.67 568.53,534.44 568.67,534.35 568.81,534.89 568.96,532.1 569.1,534.83 569.24,533.41 569.38,534.51 569.53,534.57 569.67,532.64 569.81,533.76 569.96,533.46 570.1,531.89 570.24,531.7 570.38,531.91 570.53,529.57 570.67,530.73 570.81,530.91 570.96,530.01 571.1,528.69 571.24,529.37 571.38,530.65 571.53,530.17 571.67,528.63 571.81,527.73 571.96,528.1 572.1,527.85 572.24,526.99 572.38,527.01 572.53,527.56 572.67,527.6 572.81,524.51 572.96,527.19 573.1,526.25 573.24,526.91 573.38,525.74 573.53,525.95 573.67,526.8 573.81,522.71 573.95,526.41 574.1,525.06 574.24,523.18 574.38,522.31 574.53,524.68 574.67,523.38 574.81,524.95 574.95,524.12 575.1,523.65 575.24,524.44 575.38,523.59 575.53,523.89 575.67,523.79 575.81,523.19 575.95,523.42 576.1,523.24 576.24,521.24 576.38,521.99 576.53,521.95 576.67,521.56 576.81,520.35 576.95,521.05 577.1,521.64 577.24,521.35 577.38,522.31 577.53,520.32 577.67,520.3 577.81,520.01 577.95,520.05 578.1,519.63 578.24,518.38 578.38,520.09 578.52,520.47 578.67,520.42 578.81,518.37 578.95,518.97 579.1,520.53 579.24,518.7 579.38,518.92 579.52,518.33 579.67,519.15 579.81,518.95 579.95,519.95 580.1,518.24 580.24,518.03 580.38,516.46 580.52,516.98 580.67,516.58 580.81,516.74 580.95,515.74 581.1,517.74 581.24,515.66 581.38,516.64 581.52,515.19 581.67,516.41 581.81,517.38 581.95,515.13 582.09,515.99 582.24,515.47 582.38,515.63 582.52,515.61 582.67,514.59 582.81,514.84 582.95,514.37 583.09,514.04 583.24,513.56 583.38,515.3 583.52,513.72 583.67,514.78 583.81,514.58 583.95,513.15 584.09,514.79 584.24,513.06 584.38,514.22 584.52,514.81 584.67,512.86 584.81,512.57 584.95,512.45 585.09,515.13 585.24,512.78 585.38,511.95 585.52,513.64 585.67,512.72 585.81,512.76 585.95,511.87 586.09,510.75 586.24,511.96 586.38,511.65 586.52,511.13 586.66,511.55 586.81,511.63 586.95,513.09 587.09,512.97 587.24,512.77 587.38,511.88 587.52,511.29 587.66,512.63 587.81,512.8 587.95,513.28 588.09,512.43 588.24,512.37 588.38,512.82 588.52,511.88 588.66,512.11 588.81,513.45 588.95,511.95 589.09,513.08 589.24,513.94 589.38,513.7 589.52,514.09 589.66,513 589.81,514.06 589.95,514.16 590.09,515.14 590.24,515.3 590.38,515.29 590.52,517.2 590.66,516.37 590.81,515.98 590.95,516.06 591.09,516.95 591.23,516.9 591.38,519.18 591.52,518.68 591.66,518.34 591.81,518.52 591.95,518.64 592.09,519.79 592.23,521.62 592.38,521.69 592.52,521.45 592.66,522.15 592.81,520.97 592.95,523.73 593.09,523.43 593.23,525.35 593.38,524.59 593.52,524.89 593.66,526.05 593.81,525.89 593.95,528.14 594.09,527.82 594.23,528.46 594.38,528.99 594.52,528.96 594.66,530.21 594.81,530.5 594.95,532.39 595.09,531.44 595.23,532.2 595.38,531.98 595.52,532.52 595.66,532.97 595.8,534.73 595.95,534.1 596.09,535.17 596.23,534.37 596.38,534.54 596.52,533.45 596.66,535.91 596.8,537.08 596.95,535.24 597.09,536.64 597.23,536.13 597.38,534.69 597.52,535.73 597.66,533.92 597.8,533.89 597.95,534.47 598.09,532.7 598.23,530.65 598.38,532.01 598.52,529.11 598.66,529.25 598.8,528.52 598.95,528.19 599.09,527.15 599.23,526.13 599.38,528.75 599.52,526.06 599.66,525.88 599.8,524.33 599.95,526.25 600.09,527.07 600.23,527 600.37,527.99 600.52,526.75 600.66,525.66 600.8,525.18 600.95,526.23 601.09,524.84 601.23,524.89 601.37,523.76 601.52,524.51 601.66,525.96 601.8,524.09 601.95,524.35 602.09,521.84 602.23,524.89 602.37,523.92 602.52,524.67 602.66,523.55 602.8,522.49 602.95,521.93 603.09,523.38 603.23,522.8 603.37,521.86 603.52,522.5 603.66,521.89 603.8,522.91 603.95,521.83 604.09,521.01 604.23,521.85 604.37,521.32 604.52,522.92 604.66,521.15 604.8,520.3 604.94,521.25 605.09,520.96 605.23,521.28 605.37,521.11 605.52,519.93 605.66,520.64 605.8,520.48 605.94,519.43 606.09,519.84 606.23,520.38 606.37,518.74 606.52,519.05 606.66,519.46 606.8,519.66 606.94,520.05 607.09,518.35 607.23,519.64 607.37,519.8 607.52,520.46 607.66,518.68 607.8,518.15 607.94,517.51 608.09,519.17 608.23,519.68 608.37,517.89 608.52,518.74 608.66,518.99 608.8,518.96 608.94,517.71 609.09,518.49 609.23,517.8 609.37,516.93 609.51,517.86 609.66,517.83 609.8,516.6 609.94,517.68 610.09,518.89 610.23,515.81 610.37,517.57 610.51,517.63 610.66,516.78 610.8,516.89" fill="none" stroke="#86d3cb" stroke-width="1.1" stroke-linejoin="round" />
<text transform="translate(492.1 529) rotate(-90)" font-size="7.45" text-anchor="middle" fill="#1a1a1a" style="stroke-width:0.12px">Potential (V vs. RHE)</text>
<text x="566" y="571.4" font-size="8.3" text-anchor="middle" fill="#1a1a1a" color="#1a1a1a" >Time (h)</text>
</svg>
</body></html>
